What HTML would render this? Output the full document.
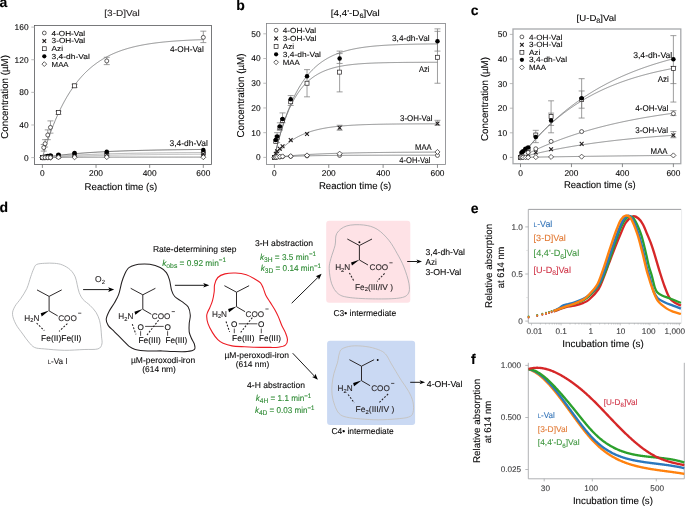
<!DOCTYPE html>
<html><head><meta charset="utf-8"><style>
html,body{margin:0;padding:0;background:#fff;}
body{width:685px;height:506px;overflow:hidden;}
svg{display:block;will-change:transform;}
text{font-family:"Liberation Sans",sans-serif;text-rendering:geometricPrecision;}
</style></head><body>
<svg width="685" height="506" viewBox="0 0 685 506">
<rect width="685" height="506" fill="#fff"/>
<text x="-0.50" y="7.00" font-size="14" fill="#000" font-weight="bold" stroke="#000" stroke-width="0.1">a</text>
<text x="236.30" y="10.40" font-size="14" fill="#000" font-weight="bold" stroke="#000" stroke-width="0.1">b</text>
<text x="470.80" y="15.40" font-size="14" fill="#000" font-weight="bold" stroke="#000" stroke-width="0.1">c</text>
<text x="-0.60" y="211.90" font-size="14" fill="#000" font-weight="bold" stroke="#000" stroke-width="0.1">d</text>
<text x="470.80" y="212.90" font-size="14" fill="#000" font-weight="bold" stroke="#000" stroke-width="0.1">e</text>
<text x="471.00" y="363.60" font-size="14" fill="#000" font-weight="bold" stroke="#000" stroke-width="0.1">f</text>
<rect x="34.5" y="25.5" width="177.0" height="139.0" fill="none" stroke="#58595b" stroke-width="0.8"/>
<path d="M31.30,157.60 L34.50,157.60" stroke="#aaa" stroke-width="0.8"/>
<text x="28.60" y="160.50" font-size="8.4" text-anchor="end" stroke="#231f20" stroke-width="0.1">0</text>
<path d="M31.30,124.98 L34.50,124.98" stroke="#aaa" stroke-width="0.8"/>
<text x="28.60" y="127.88" font-size="8.4" text-anchor="end" stroke="#231f20" stroke-width="0.1">40</text>
<path d="M31.30,92.35 L34.50,92.35" stroke="#aaa" stroke-width="0.8"/>
<text x="28.60" y="95.25" font-size="8.4" text-anchor="end" stroke="#231f20" stroke-width="0.1">80</text>
<path d="M31.30,59.73 L34.50,59.73" stroke="#aaa" stroke-width="0.8"/>
<text x="28.60" y="62.63" font-size="8.4" text-anchor="end" stroke="#231f20" stroke-width="0.1">120</text>
<path d="M31.30,27.10 L34.50,27.10" stroke="#aaa" stroke-width="0.8"/>
<text x="28.60" y="30.00" font-size="8.4" text-anchor="end" stroke="#231f20" stroke-width="0.1">160</text>
<path d="M42.40,164.50 L42.40,167.90" stroke="#6d6e70" stroke-width="0.8"/>
<text x="42.40" y="176.00" font-size="8.4" text-anchor="middle" stroke="#231f20" stroke-width="0.1">0</text>
<path d="M96.04,164.50 L96.04,167.90" stroke="#6d6e70" stroke-width="0.8"/>
<text x="96.04" y="176.00" font-size="8.4" text-anchor="middle" stroke="#231f20" stroke-width="0.1">200</text>
<path d="M149.68,164.50 L149.68,167.90" stroke="#6d6e70" stroke-width="0.8"/>
<text x="149.68" y="176.00" font-size="8.4" text-anchor="middle" stroke="#231f20" stroke-width="0.1">400</text>
<path d="M203.32,164.50 L203.32,167.90" stroke="#6d6e70" stroke-width="0.8"/>
<text x="203.32" y="176.00" font-size="8.4" text-anchor="middle" stroke="#231f20" stroke-width="0.1">600</text>
<text x="104.3" y="16.0" font-size="8.8" textLength="35.5" lengthAdjust="spacingAndGlyphs" fill="#231f20" stroke="#231f20" stroke-width="0.1">[3-D]Val</text>
<text x="84.60" y="190.10" font-size="9.8" textLength="72.70" lengthAdjust="spacingAndGlyphs" stroke="#231f20" stroke-width="0.1">Reaction time (s)</text>
<text x="7.90" y="96.90" font-size="10.0" textLength="83.60" lengthAdjust="spacingAndGlyphs" text-anchor="middle" transform="rotate(-90 7.90 96.90)" stroke="#231f20" stroke-width="0.1">Concentration (µM)</text>
<circle cx="44.30" cy="33.00" r="1.9" fill="#fff" stroke="#231f20" stroke-width="0.7"/>
<text x="51.60" y="35.60" font-size="7.3" textLength="33.40" lengthAdjust="spacingAndGlyphs" stroke="#231f20" stroke-width="0.1">4-OH-Val</text>
<path d="M42.50,39.25 L46.10,42.85 M46.10,39.25 L42.50,42.85" stroke="#231f20" stroke-width="1.1"/>
<text x="51.60" y="43.35" font-size="7.3" textLength="33.60" lengthAdjust="spacingAndGlyphs" stroke="#231f20" stroke-width="0.1">3-OH-Val</text>
<rect x="42.35" y="46.75" width="3.9" height="3.9" fill="#fff" stroke="#231f20" stroke-width="0.7"/>
<text x="51.60" y="51.10" font-size="7.3" textLength="11.40" lengthAdjust="spacingAndGlyphs" stroke="#231f20" stroke-width="0.1">Azi</text>
<circle cx="44.30" cy="56.35" r="2.1" fill="#000"/>
<text x="51.60" y="58.85" font-size="7.3" textLength="38.20" lengthAdjust="spacingAndGlyphs" stroke="#231f20" stroke-width="0.1">3,4-dh-Val</text>
<path d="M44.30,61.70 L46.70,64.10 L44.30,66.50 L41.90,64.10Z" fill="#fff" stroke="#231f20" stroke-width="0.7"/>
<text x="51.60" y="66.60" font-size="7.3" textLength="17.00" lengthAdjust="spacingAndGlyphs" stroke="#231f20" stroke-width="0.1">MAA</text>
<path d="M42.40,157.60 L42.94,155.76 L43.47,153.94 L44.01,152.16 L44.55,150.40 L45.08,148.66 L45.62,146.96 L46.15,145.28 L46.69,143.63 L47.23,142.00 L47.76,140.40 L48.30,138.82 L48.84,137.27 L49.37,135.74 L49.91,134.24 L50.45,132.76 L50.98,131.30 L51.52,129.86 L52.06,128.45 L52.59,127.06 L53.13,125.69 L53.66,124.34 L54.20,123.01 L54.74,121.70 L55.27,120.41 L55.81,119.14 L56.35,117.90 L56.88,116.67 L57.42,115.46 L57.96,114.27 L58.49,113.10 L59.03,111.94 L59.56,110.80 L60.10,109.69 L60.64,108.58 L61.17,107.50 L61.71,106.43 L62.25,105.38 L62.78,104.35 L63.32,103.33 L63.86,102.32 L64.39,101.34 L64.93,100.36 L65.47,99.41 L66.00,98.46 L66.54,97.54 L67.07,96.62 L67.61,95.72 L68.15,94.84 L68.68,93.97 L69.22,93.11 L69.76,92.26 L70.29,91.43 L70.83,90.61 L71.37,89.81 L71.90,89.01 L72.44,88.23 L72.97,87.46 L73.51,86.70 L74.05,85.96 L74.58,85.22 L75.12,84.50 L75.66,83.79 L76.19,83.09 L76.73,82.40 L77.27,81.72 L77.80,81.05 L78.34,80.39 L78.88,79.74 L79.41,79.11 L79.95,78.48 L80.48,77.86 L81.02,77.25 L81.56,76.65 L82.09,76.06 L82.63,75.48 L83.17,74.91 L83.70,74.34 L84.24,73.79 L84.78,73.24 L85.31,72.71 L85.85,72.18 L86.38,71.66 L86.92,71.14 L87.46,70.64 L87.99,70.14 L88.53,69.65 L89.07,69.17 L89.60,68.70 L90.14,68.23 L90.68,67.77 L91.21,67.32 L91.75,66.87 L92.29,66.43 L92.82,66.00 L93.36,65.57 L93.89,65.16 L94.43,64.74 L94.97,64.34 L95.50,63.94 L96.04,63.54 L96.58,63.16 L97.11,62.78 L97.65,62.40 L98.19,62.03 L98.72,61.67 L99.26,61.31 L99.79,60.96 L100.33,60.61 L100.87,60.27 L101.40,59.93 L101.94,59.60 L102.48,59.27 L103.01,58.95 L103.55,58.64 L104.09,58.32 L104.62,58.02 L105.16,57.72 L105.70,57.42 L106.23,57.13 L106.77,56.84 L107.30,56.55 L107.84,56.28 L108.38,56.00 L108.91,55.73 L109.45,55.46 L109.99,55.20 L110.52,54.94 L111.06,54.69 L111.60,54.44 L112.13,54.19 L112.67,53.95 L113.20,53.71 L113.74,53.48 L114.28,53.24 L114.81,53.02 L115.35,52.79 L115.89,52.57 L116.42,52.35 L116.96,52.14 L117.50,51.93 L118.03,51.72 L118.57,51.52 L119.11,51.32 L119.64,51.12 L120.18,50.92 L120.71,50.73 L121.25,50.54 L121.79,50.36 L122.32,50.17 L122.86,49.99 L123.40,49.82 L123.93,49.64 L124.47,49.47 L125.01,49.30 L125.54,49.13 L126.08,48.97 L126.61,48.81 L127.15,48.65 L127.69,48.49 L128.22,48.34 L128.76,48.18 L129.30,48.03 L129.83,47.89 L130.37,47.74 L130.91,47.60 L131.44,47.46 L131.98,47.32 L132.52,47.18 L133.05,47.05 L133.59,46.92 L134.12,46.79 L134.66,46.66 L135.20,46.53 L135.73,46.41 L136.27,46.29 L136.81,46.17 L137.34,46.05 L137.88,45.93 L138.42,45.82 L138.95,45.71 L139.49,45.59 L140.02,45.49 L140.56,45.38 L141.10,45.27 L141.63,45.17 L142.17,45.06 L142.71,44.96 L143.24,44.86 L143.78,44.76 L144.32,44.67 L144.85,44.57 L145.39,44.48 L145.93,44.39 L146.46,44.30 L147.00,44.21 L147.53,44.12 L148.07,44.03 L148.61,43.95 L149.14,43.86 L149.68,43.78 L150.22,43.70 L150.75,43.62 L151.29,43.54 L151.83,43.46 L152.36,43.39 L152.90,43.31 L153.43,43.24 L153.97,43.16 L154.51,43.09 L155.04,43.02 L155.58,42.95 L156.12,42.88 L156.65,42.82 L157.19,42.75 L157.73,42.68 L158.26,42.62 L158.80,42.56 L159.34,42.49 L159.87,42.43 L160.41,42.37 L160.94,42.31 L161.48,42.25 L162.02,42.20 L162.55,42.14 L163.09,42.08 L163.63,42.03 L164.16,41.97 L164.70,41.92 L165.24,41.87 L165.77,41.82 L166.31,41.76 L166.84,41.71 L167.38,41.66 L167.92,41.62 L168.45,41.57 L168.99,41.52 L169.53,41.47 L170.06,41.43 L170.60,41.38 L171.14,41.34 L171.67,41.30 L172.21,41.25 L172.75,41.21 L173.28,41.17 L173.82,41.13 L174.35,41.09 L174.89,41.05 L175.43,41.01 L175.96,40.97 L176.50,40.93 L177.04,40.90 L177.57,40.86 L178.11,40.82 L178.65,40.79 L179.18,40.75 L179.72,40.72 L180.25,40.68 L180.79,40.65 L181.33,40.62 L181.86,40.58 L182.40,40.55 L182.94,40.52 L183.47,40.49 L184.01,40.46 L184.55,40.43 L185.08,40.40 L185.62,40.37 L186.16,40.34 L186.69,40.31 L187.23,40.29 L187.76,40.26 L188.30,40.23 L188.84,40.21 L189.37,40.18 L189.91,40.15 L190.45,40.13 L190.98,40.10 L191.52,40.08 L192.06,40.06 L192.59,40.03 L193.13,40.01 L193.66,39.99 L194.20,39.96 L194.74,39.94 L195.27,39.92 L195.81,39.90 L196.35,39.88 L196.88,39.85 L197.42,39.83 L197.96,39.81 L198.49,39.79 L199.03,39.77 L199.57,39.75 L200.10,39.74 L200.64,39.72 L201.17,39.70 L201.71,39.68 L202.25,39.66 L202.78,39.64 L203.32,39.63" fill="none" stroke="#6d6e70" stroke-width="0.8"/>
<path d="M42.40,157.60 L42.94,157.51 L43.47,157.43 L44.01,157.35 L44.55,157.26 L45.08,157.18 L45.62,157.10 L46.15,157.02 L46.69,156.94 L47.23,156.86 L47.76,156.79 L48.30,156.71 L48.84,156.63 L49.37,156.56 L49.91,156.48 L50.45,156.41 L50.98,156.33 L51.52,156.26 L52.06,156.19 L52.59,156.12 L53.13,156.05 L53.66,155.98 L54.20,155.91 L54.74,155.84 L55.27,155.77 L55.81,155.71 L56.35,155.64 L56.88,155.57 L57.42,155.51 L57.96,155.44 L58.49,155.38 L59.03,155.32 L59.56,155.25 L60.10,155.19 L60.64,155.13 L61.17,155.07 L61.71,155.01 L62.25,154.95 L62.78,154.89 L63.32,154.83 L63.86,154.78 L64.39,154.72 L64.93,154.66 L65.47,154.61 L66.00,154.55 L66.54,154.50 L67.07,154.44 L67.61,154.39 L68.15,154.34 L68.68,154.28 L69.22,154.23 L69.76,154.18 L70.29,154.13 L70.83,154.08 L71.37,154.03 L71.90,153.98 L72.44,153.93 L72.97,153.88 L73.51,153.83 L74.05,153.78 L74.58,153.74 L75.12,153.69 L75.66,153.64 L76.19,153.60 L76.73,153.55 L77.27,153.51 L77.80,153.46 L78.34,153.42 L78.88,153.37 L79.41,153.33 L79.95,153.29 L80.48,153.25 L81.02,153.20 L81.56,153.16 L82.09,153.12 L82.63,153.08 L83.17,153.04 L83.70,153.00 L84.24,152.96 L84.78,152.92 L85.31,152.88 L85.85,152.85 L86.38,152.81 L86.92,152.77 L87.46,152.73 L87.99,152.70 L88.53,152.66 L89.07,152.62 L89.60,152.59 L90.14,152.55 L90.68,152.52 L91.21,152.48 L91.75,152.45 L92.29,152.42 L92.82,152.38 L93.36,152.35 L93.89,152.32 L94.43,152.28 L94.97,152.25 L95.50,152.22 L96.04,152.19 L96.58,152.16 L97.11,152.12 L97.65,152.09 L98.19,152.06 L98.72,152.03 L99.26,152.00 L99.79,151.97 L100.33,151.94 L100.87,151.92 L101.40,151.89 L101.94,151.86 L102.48,151.83 L103.01,151.80 L103.55,151.78 L104.09,151.75 L104.62,151.72 L105.16,151.69 L105.70,151.67 L106.23,151.64 L106.77,151.62 L107.30,151.59 L107.84,151.56 L108.38,151.54 L108.91,151.51 L109.45,151.49 L109.99,151.47 L110.52,151.44 L111.06,151.42 L111.60,151.39 L112.13,151.37 L112.67,151.35 L113.20,151.32 L113.74,151.30 L114.28,151.28 L114.81,151.26 L115.35,151.23 L115.89,151.21 L116.42,151.19 L116.96,151.17 L117.50,151.15 L118.03,151.13 L118.57,151.11 L119.11,151.09 L119.64,151.07 L120.18,151.05 L120.71,151.03 L121.25,151.01 L121.79,150.99 L122.32,150.97 L122.86,150.95 L123.40,150.93 L123.93,150.91 L124.47,150.89 L125.01,150.87 L125.54,150.85 L126.08,150.84 L126.61,150.82 L127.15,150.80 L127.69,150.78 L128.22,150.77 L128.76,150.75 L129.30,150.73 L129.83,150.71 L130.37,150.70 L130.91,150.68 L131.44,150.66 L131.98,150.65 L132.52,150.63 L133.05,150.62 L133.59,150.60 L134.12,150.59 L134.66,150.57 L135.20,150.55 L135.73,150.54 L136.27,150.52 L136.81,150.51 L137.34,150.49 L137.88,150.48 L138.42,150.47 L138.95,150.45 L139.49,150.44 L140.02,150.42 L140.56,150.41 L141.10,150.40 L141.63,150.38 L142.17,150.37 L142.71,150.36 L143.24,150.34 L143.78,150.33 L144.32,150.32 L144.85,150.30 L145.39,150.29 L145.93,150.28 L146.46,150.27 L147.00,150.25 L147.53,150.24 L148.07,150.23 L148.61,150.22 L149.14,150.21 L149.68,150.20 L150.22,150.18 L150.75,150.17 L151.29,150.16 L151.83,150.15 L152.36,150.14 L152.90,150.13 L153.43,150.12 L153.97,150.11 L154.51,150.10 L155.04,150.08 L155.58,150.07 L156.12,150.06 L156.65,150.05 L157.19,150.04 L157.73,150.03 L158.26,150.02 L158.80,150.01 L159.34,150.00 L159.87,149.99 L160.41,149.99 L160.94,149.98 L161.48,149.97 L162.02,149.96 L162.55,149.95 L163.09,149.94 L163.63,149.93 L164.16,149.92 L164.70,149.91 L165.24,149.90 L165.77,149.89 L166.31,149.89 L166.84,149.88 L167.38,149.87 L167.92,149.86 L168.45,149.85 L168.99,149.84 L169.53,149.84 L170.06,149.83 L170.60,149.82 L171.14,149.81 L171.67,149.81 L172.21,149.80 L172.75,149.79 L173.28,149.78 L173.82,149.78 L174.35,149.77 L174.89,149.76 L175.43,149.75 L175.96,149.75 L176.50,149.74 L177.04,149.73 L177.57,149.73 L178.11,149.72 L178.65,149.71 L179.18,149.70 L179.72,149.70 L180.25,149.69 L180.79,149.69 L181.33,149.68 L181.86,149.67 L182.40,149.67 L182.94,149.66 L183.47,149.65 L184.01,149.65 L184.55,149.64 L185.08,149.64 L185.62,149.63 L186.16,149.62 L186.69,149.62 L187.23,149.61 L187.76,149.61 L188.30,149.60 L188.84,149.59 L189.37,149.59 L189.91,149.58 L190.45,149.58 L190.98,149.57 L191.52,149.57 L192.06,149.56 L192.59,149.56 L193.13,149.55 L193.66,149.55 L194.20,149.54 L194.74,149.54 L195.27,149.53 L195.81,149.53 L196.35,149.52 L196.88,149.52 L197.42,149.51 L197.96,149.51 L198.49,149.50 L199.03,149.50 L199.57,149.49 L200.10,149.49 L200.64,149.48 L201.17,149.48 L201.71,149.48 L202.25,149.47 L202.78,149.47 L203.32,149.46" fill="none" stroke="#444" stroke-width="0.8"/>
<path d="M42.40,157.60 L42.94,157.55 L43.47,157.50 L44.01,157.44 L44.55,157.39 L45.08,157.34 L45.62,157.29 L46.15,157.24 L46.69,157.19 L47.23,157.14 L47.76,157.10 L48.30,157.05 L48.84,157.00 L49.37,156.95 L49.91,156.91 L50.45,156.86 L50.98,156.82 L51.52,156.77 L52.06,156.73 L52.59,156.68 L53.13,156.64 L53.66,156.60 L54.20,156.55 L54.74,156.51 L55.27,156.47 L55.81,156.43 L56.35,156.39 L56.88,156.35 L57.42,156.31 L57.96,156.27 L58.49,156.23 L59.03,156.19 L59.56,156.15 L60.10,156.11 L60.64,156.07 L61.17,156.03 L61.71,156.00 L62.25,155.96 L62.78,155.92 L63.32,155.89 L63.86,155.85 L64.39,155.82 L64.93,155.78 L65.47,155.75 L66.00,155.71 L66.54,155.68 L67.07,155.65 L67.61,155.61 L68.15,155.58 L68.68,155.55 L69.22,155.51 L69.76,155.48 L70.29,155.45 L70.83,155.42 L71.37,155.39 L71.90,155.36 L72.44,155.33 L72.97,155.30 L73.51,155.27 L74.05,155.24 L74.58,155.21 L75.12,155.18 L75.66,155.15 L76.19,155.12 L76.73,155.09 L77.27,155.07 L77.80,155.04 L78.34,155.01 L78.88,154.98 L79.41,154.96 L79.95,154.93 L80.48,154.91 L81.02,154.88 L81.56,154.85 L82.09,154.83 L82.63,154.80 L83.17,154.78 L83.70,154.75 L84.24,154.73 L84.78,154.70 L85.31,154.68 L85.85,154.66 L86.38,154.63 L86.92,154.61 L87.46,154.59 L87.99,154.56 L88.53,154.54 L89.07,154.52 L89.60,154.50 L90.14,154.48 L90.68,154.45 L91.21,154.43 L91.75,154.41 L92.29,154.39 L92.82,154.37 L93.36,154.35 L93.89,154.33 L94.43,154.31 L94.97,154.29 L95.50,154.27 L96.04,154.25 L96.58,154.23 L97.11,154.21 L97.65,154.19 L98.19,154.17 L98.72,154.15 L99.26,154.14 L99.79,154.12 L100.33,154.10 L100.87,154.08 L101.40,154.06 L101.94,154.05 L102.48,154.03 L103.01,154.01 L103.55,153.99 L104.09,153.98 L104.62,153.96 L105.16,153.94 L105.70,153.93 L106.23,153.91 L106.77,153.90 L107.30,153.88 L107.84,153.86 L108.38,153.85 L108.91,153.83 L109.45,153.82 L109.99,153.80 L110.52,153.79 L111.06,153.77 L111.60,153.76 L112.13,153.74 L112.67,153.73 L113.20,153.71 L113.74,153.70 L114.28,153.69 L114.81,153.67 L115.35,153.66 L115.89,153.65 L116.42,153.63 L116.96,153.62 L117.50,153.61 L118.03,153.59 L118.57,153.58 L119.11,153.57 L119.64,153.55 L120.18,153.54 L120.71,153.53 L121.25,153.52 L121.79,153.51 L122.32,153.49 L122.86,153.48 L123.40,153.47 L123.93,153.46 L124.47,153.45 L125.01,153.44 L125.54,153.42 L126.08,153.41 L126.61,153.40 L127.15,153.39 L127.69,153.38 L128.22,153.37 L128.76,153.36 L129.30,153.35 L129.83,153.34 L130.37,153.33 L130.91,153.32 L131.44,153.31 L131.98,153.30 L132.52,153.29 L133.05,153.28 L133.59,153.27 L134.12,153.26 L134.66,153.25 L135.20,153.24 L135.73,153.23 L136.27,153.22 L136.81,153.21 L137.34,153.20 L137.88,153.19 L138.42,153.18 L138.95,153.17 L139.49,153.17 L140.02,153.16 L140.56,153.15 L141.10,153.14 L141.63,153.13 L142.17,153.12 L142.71,153.12 L143.24,153.11 L143.78,153.10 L144.32,153.09 L144.85,153.08 L145.39,153.08 L145.93,153.07 L146.46,153.06 L147.00,153.05 L147.53,153.05 L148.07,153.04 L148.61,153.03 L149.14,153.02 L149.68,153.02 L150.22,153.01 L150.75,153.00 L151.29,152.99 L151.83,152.99 L152.36,152.98 L152.90,152.97 L153.43,152.97 L153.97,152.96 L154.51,152.95 L155.04,152.95 L155.58,152.94 L156.12,152.93 L156.65,152.93 L157.19,152.92 L157.73,152.92 L158.26,152.91 L158.80,152.90 L159.34,152.90 L159.87,152.89 L160.41,152.89 L160.94,152.88 L161.48,152.87 L162.02,152.87 L162.55,152.86 L163.09,152.86 L163.63,152.85 L164.16,152.85 L164.70,152.84 L165.24,152.84 L165.77,152.83 L166.31,152.82 L166.84,152.82 L167.38,152.81 L167.92,152.81 L168.45,152.80 L168.99,152.80 L169.53,152.79 L170.06,152.79 L170.60,152.78 L171.14,152.78 L171.67,152.77 L172.21,152.77 L172.75,152.77 L173.28,152.76 L173.82,152.76 L174.35,152.75 L174.89,152.75 L175.43,152.74 L175.96,152.74 L176.50,152.73 L177.04,152.73 L177.57,152.73 L178.11,152.72 L178.65,152.72 L179.18,152.71 L179.72,152.71 L180.25,152.70 L180.79,152.70 L181.33,152.70 L181.86,152.69 L182.40,152.69 L182.94,152.68 L183.47,152.68 L184.01,152.68 L184.55,152.67 L185.08,152.67 L185.62,152.67 L186.16,152.66 L186.69,152.66 L187.23,152.65 L187.76,152.65 L188.30,152.65 L188.84,152.64 L189.37,152.64 L189.91,152.64 L190.45,152.63 L190.98,152.63 L191.52,152.63 L192.06,152.62 L192.59,152.62 L193.13,152.62 L193.66,152.61 L194.20,152.61 L194.74,152.61 L195.27,152.61 L195.81,152.60 L196.35,152.60 L196.88,152.60 L197.42,152.59 L197.96,152.59 L198.49,152.59 L199.03,152.58 L199.57,152.58 L200.10,152.58 L200.64,152.58 L201.17,152.57 L201.71,152.57 L202.25,152.57 L202.78,152.57 L203.32,152.56" fill="none" stroke="#999" stroke-width="0.8"/>
<path d="M42.40,157.60 L42.94,157.57 L43.47,157.54 L44.01,157.51 L44.55,157.48 L45.08,157.46 L45.62,157.43 L46.15,157.40 L46.69,157.37 L47.23,157.35 L47.76,157.32 L48.30,157.29 L48.84,157.26 L49.37,157.24 L49.91,157.21 L50.45,157.18 L50.98,157.16 L51.52,157.13 L52.06,157.11 L52.59,157.08 L53.13,157.06 L53.66,157.03 L54.20,157.01 L54.74,156.98 L55.27,156.96 L55.81,156.93 L56.35,156.91 L56.88,156.89 L57.42,156.86 L57.96,156.84 L58.49,156.82 L59.03,156.79 L59.56,156.77 L60.10,156.75 L60.64,156.73 L61.17,156.70 L61.71,156.68 L62.25,156.66 L62.78,156.64 L63.32,156.62 L63.86,156.59 L64.39,156.57 L64.93,156.55 L65.47,156.53 L66.00,156.51 L66.54,156.49 L67.07,156.47 L67.61,156.45 L68.15,156.43 L68.68,156.41 L69.22,156.39 L69.76,156.37 L70.29,156.35 L70.83,156.33 L71.37,156.31 L71.90,156.29 L72.44,156.27 L72.97,156.26 L73.51,156.24 L74.05,156.22 L74.58,156.20 L75.12,156.18 L75.66,156.16 L76.19,156.15 L76.73,156.13 L77.27,156.11 L77.80,156.09 L78.34,156.08 L78.88,156.06 L79.41,156.04 L79.95,156.03 L80.48,156.01 L81.02,155.99 L81.56,155.98 L82.09,155.96 L82.63,155.94 L83.17,155.93 L83.70,155.91 L84.24,155.90 L84.78,155.88 L85.31,155.87 L85.85,155.85 L86.38,155.83 L86.92,155.82 L87.46,155.80 L87.99,155.79 L88.53,155.77 L89.07,155.76 L89.60,155.75 L90.14,155.73 L90.68,155.72 L91.21,155.70 L91.75,155.69 L92.29,155.67 L92.82,155.66 L93.36,155.65 L93.89,155.63 L94.43,155.62 L94.97,155.61 L95.50,155.59 L96.04,155.58 L96.58,155.57 L97.11,155.55 L97.65,155.54 L98.19,155.53 L98.72,155.51 L99.26,155.50 L99.79,155.49 L100.33,155.48 L100.87,155.46 L101.40,155.45 L101.94,155.44 L102.48,155.43 L103.01,155.42 L103.55,155.40 L104.09,155.39 L104.62,155.38 L105.16,155.37 L105.70,155.36 L106.23,155.35 L106.77,155.34 L107.30,155.32 L107.84,155.31 L108.38,155.30 L108.91,155.29 L109.45,155.28 L109.99,155.27 L110.52,155.26 L111.06,155.25 L111.60,155.24 L112.13,155.23 L112.67,155.22 L113.20,155.21 L113.74,155.20 L114.28,155.19 L114.81,155.18 L115.35,155.17 L115.89,155.16 L116.42,155.15 L116.96,155.14 L117.50,155.13 L118.03,155.12 L118.57,155.11 L119.11,155.10 L119.64,155.09 L120.18,155.08 L120.71,155.07 L121.25,155.06 L121.79,155.05 L122.32,155.04 L122.86,155.04 L123.40,155.03 L123.93,155.02 L124.47,155.01 L125.01,155.00 L125.54,154.99 L126.08,154.98 L126.61,154.98 L127.15,154.97 L127.69,154.96 L128.22,154.95 L128.76,154.94 L129.30,154.93 L129.83,154.93 L130.37,154.92 L130.91,154.91 L131.44,154.90 L131.98,154.89 L132.52,154.89 L133.05,154.88 L133.59,154.87 L134.12,154.86 L134.66,154.86 L135.20,154.85 L135.73,154.84 L136.27,154.83 L136.81,154.83 L137.34,154.82 L137.88,154.81 L138.42,154.81 L138.95,154.80 L139.49,154.79 L140.02,154.79 L140.56,154.78 L141.10,154.77 L141.63,154.77 L142.17,154.76 L142.71,154.75 L143.24,154.75 L143.78,154.74 L144.32,154.73 L144.85,154.73 L145.39,154.72 L145.93,154.71 L146.46,154.71 L147.00,154.70 L147.53,154.69 L148.07,154.69 L148.61,154.68 L149.14,154.68 L149.68,154.67 L150.22,154.66 L150.75,154.66 L151.29,154.65 L151.83,154.65 L152.36,154.64 L152.90,154.64 L153.43,154.63 L153.97,154.62 L154.51,154.62 L155.04,154.61 L155.58,154.61 L156.12,154.60 L156.65,154.60 L157.19,154.59 L157.73,154.59 L158.26,154.58 L158.80,154.58 L159.34,154.57 L159.87,154.57 L160.41,154.56 L160.94,154.56 L161.48,154.55 L162.02,154.55 L162.55,154.54 L163.09,154.54 L163.63,154.53 L164.16,154.53 L164.70,154.52 L165.24,154.52 L165.77,154.51 L166.31,154.51 L166.84,154.50 L167.38,154.50 L167.92,154.49 L168.45,154.49 L168.99,154.49 L169.53,154.48 L170.06,154.48 L170.60,154.47 L171.14,154.47 L171.67,154.46 L172.21,154.46 L172.75,154.46 L173.28,154.45 L173.82,154.45 L174.35,154.44 L174.89,154.44 L175.43,154.43 L175.96,154.43 L176.50,154.43 L177.04,154.42 L177.57,154.42 L178.11,154.41 L178.65,154.41 L179.18,154.41 L179.72,154.40 L180.25,154.40 L180.79,154.40 L181.33,154.39 L181.86,154.39 L182.40,154.38 L182.94,154.38 L183.47,154.38 L184.01,154.37 L184.55,154.37 L185.08,154.37 L185.62,154.36 L186.16,154.36 L186.69,154.36 L187.23,154.35 L187.76,154.35 L188.30,154.35 L188.84,154.34 L189.37,154.34 L189.91,154.34 L190.45,154.33 L190.98,154.33 L191.52,154.33 L192.06,154.32 L192.59,154.32 L193.13,154.32 L193.66,154.31 L194.20,154.31 L194.74,154.31 L195.27,154.31 L195.81,154.30 L196.35,154.30 L196.88,154.30 L197.42,154.29 L197.96,154.29 L198.49,154.29 L199.03,154.28 L199.57,154.28 L200.10,154.28 L200.64,154.28 L201.17,154.27 L201.71,154.27 L202.25,154.27 L202.78,154.27 L203.32,154.26" fill="none" stroke="#aaa" stroke-width="0.8"/>
<path d="M42.40,157.60 L42.94,157.59 L43.47,157.58 L44.01,157.57 L44.55,157.56 L45.08,157.55 L45.62,157.54 L46.15,157.54 L46.69,157.53 L47.23,157.52 L47.76,157.51 L48.30,157.50 L48.84,157.50 L49.37,157.49 L49.91,157.48 L50.45,157.47 L50.98,157.47 L51.52,157.46 L52.06,157.45 L52.59,157.45 L53.13,157.44 L53.66,157.43 L54.20,157.43 L54.74,157.42 L55.27,157.41 L55.81,157.41 L56.35,157.40 L56.88,157.40 L57.42,157.39 L57.96,157.38 L58.49,157.38 L59.03,157.37 L59.56,157.37 L60.10,157.36 L60.64,157.36 L61.17,157.35 L61.71,157.35 L62.25,157.34 L62.78,157.34 L63.32,157.33 L63.86,157.33 L64.39,157.33 L64.93,157.32 L65.47,157.32 L66.00,157.31 L66.54,157.31 L67.07,157.31 L67.61,157.30 L68.15,157.30 L68.68,157.29 L69.22,157.29 L69.76,157.29 L70.29,157.28 L70.83,157.28 L71.37,157.28 L71.90,157.27 L72.44,157.27 L72.97,157.27 L73.51,157.26 L74.05,157.26 L74.58,157.26 L75.12,157.26 L75.66,157.25 L76.19,157.25 L76.73,157.25 L77.27,157.24 L77.80,157.24 L78.34,157.24 L78.88,157.24 L79.41,157.23 L79.95,157.23 L80.48,157.23 L81.02,157.23 L81.56,157.22 L82.09,157.22 L82.63,157.22 L83.17,157.22 L83.70,157.22 L84.24,157.21 L84.78,157.21 L85.31,157.21 L85.85,157.21 L86.38,157.21 L86.92,157.20 L87.46,157.20 L87.99,157.20 L88.53,157.20 L89.07,157.20 L89.60,157.19 L90.14,157.19 L90.68,157.19 L91.21,157.19 L91.75,157.19 L92.29,157.19 L92.82,157.19 L93.36,157.18 L93.89,157.18 L94.43,157.18 L94.97,157.18 L95.50,157.18 L96.04,157.18 L96.58,157.18 L97.11,157.17 L97.65,157.17 L98.19,157.17 L98.72,157.17 L99.26,157.17 L99.79,157.17 L100.33,157.17 L100.87,157.17 L101.40,157.16 L101.94,157.16 L102.48,157.16 L103.01,157.16 L103.55,157.16 L104.09,157.16 L104.62,157.16 L105.16,157.16 L105.70,157.16 L106.23,157.16 L106.77,157.16 L107.30,157.15 L107.84,157.15 L108.38,157.15 L108.91,157.15 L109.45,157.15 L109.99,157.15 L110.52,157.15 L111.06,157.15 L111.60,157.15 L112.13,157.15 L112.67,157.15 L113.20,157.15 L113.74,157.14 L114.28,157.14 L114.81,157.14 L115.35,157.14 L115.89,157.14 L116.42,157.14 L116.96,157.14 L117.50,157.14 L118.03,157.14 L118.57,157.14 L119.11,157.14 L119.64,157.14 L120.18,157.14 L120.71,157.14 L121.25,157.14 L121.79,157.14 L122.32,157.14 L122.86,157.14 L123.40,157.13 L123.93,157.13 L124.47,157.13 L125.01,157.13 L125.54,157.13 L126.08,157.13 L126.61,157.13 L127.15,157.13 L127.69,157.13 L128.22,157.13 L128.76,157.13 L129.30,157.13 L129.83,157.13 L130.37,157.13 L130.91,157.13 L131.44,157.13 L131.98,157.13 L132.52,157.13 L133.05,157.13 L133.59,157.13 L134.12,157.13 L134.66,157.13 L135.20,157.13 L135.73,157.13 L136.27,157.13 L136.81,157.13 L137.34,157.12 L137.88,157.12 L138.42,157.12 L138.95,157.12 L139.49,157.12 L140.02,157.12 L140.56,157.12 L141.10,157.12 L141.63,157.12 L142.17,157.12 L142.71,157.12 L143.24,157.12 L143.78,157.12 L144.32,157.12 L144.85,157.12 L145.39,157.12 L145.93,157.12 L146.46,157.12 L147.00,157.12 L147.53,157.12 L148.07,157.12 L148.61,157.12 L149.14,157.12 L149.68,157.12 L150.22,157.12 L150.75,157.12 L151.29,157.12 L151.83,157.12 L152.36,157.12 L152.90,157.12 L153.43,157.12 L153.97,157.12 L154.51,157.12 L155.04,157.12 L155.58,157.12 L156.12,157.12 L156.65,157.12 L157.19,157.12 L157.73,157.12 L158.26,157.12 L158.80,157.12 L159.34,157.12 L159.87,157.12 L160.41,157.12 L160.94,157.12 L161.48,157.12 L162.02,157.12 L162.55,157.12 L163.09,157.12 L163.63,157.12 L164.16,157.12 L164.70,157.12 L165.24,157.12 L165.77,157.12 L166.31,157.12 L166.84,157.12 L167.38,157.12 L167.92,157.12 L168.45,157.12 L168.99,157.12 L169.53,157.11 L170.06,157.11 L170.60,157.11 L171.14,157.11 L171.67,157.11 L172.21,157.11 L172.75,157.11 L173.28,157.11 L173.82,157.11 L174.35,157.11 L174.89,157.11 L175.43,157.11 L175.96,157.11 L176.50,157.11 L177.04,157.11 L177.57,157.11 L178.11,157.11 L178.65,157.11 L179.18,157.11 L179.72,157.11 L180.25,157.11 L180.79,157.11 L181.33,157.11 L181.86,157.11 L182.40,157.11 L182.94,157.11 L183.47,157.11 L184.01,157.11 L184.55,157.11 L185.08,157.11 L185.62,157.11 L186.16,157.11 L186.69,157.11 L187.23,157.11 L187.76,157.11 L188.30,157.11 L188.84,157.11 L189.37,157.11 L189.91,157.11 L190.45,157.11 L190.98,157.11 L191.52,157.11 L192.06,157.11 L192.59,157.11 L193.13,157.11 L193.66,157.11 L194.20,157.11 L194.74,157.11 L195.27,157.11 L195.81,157.11 L196.35,157.11 L196.88,157.11 L197.42,157.11 L197.96,157.11 L198.49,157.11 L199.03,157.11 L199.57,157.11 L200.10,157.11 L200.64,157.11 L201.17,157.11 L201.71,157.11 L202.25,157.11 L202.78,157.11 L203.32,157.11" fill="none" stroke="#666" stroke-width="0.8"/>
<path d="M203.32,42.60 L203.32,31.18 M200.32,42.60 L206.32,42.60 M200.32,31.18 L206.32,31.18" stroke="#7d7d7d" stroke-width="0.75" fill="none"/>
<path d="M106.77,64.62 L106.77,57.28 M103.77,64.62 L109.77,64.62 M103.77,57.28 L109.77,57.28" stroke="#7d7d7d" stroke-width="0.75" fill="none"/>
<path d="M74.58,87.46 L74.58,84.20 M71.58,87.46 L77.58,87.46 M71.58,84.20 L77.58,84.20" stroke="#7d7d7d" stroke-width="0.75" fill="none"/>
<path d="M58.49,114.37 L58.49,111.11 M55.49,114.37 L61.49,114.37 M55.49,111.11 L61.49,111.11" stroke="#7d7d7d" stroke-width="0.75" fill="none"/>
<path d="M50.45,133.13 L50.45,120.90 M47.45,133.13 L53.45,133.13 M47.45,120.90 L53.45,120.90" stroke="#7d7d7d" stroke-width="0.75" fill="none"/>
<path d="M47.76,139.66 L47.76,129.87 M44.76,139.66 L50.76,139.66 M44.76,129.87 L50.76,129.87" stroke="#7d7d7d" stroke-width="0.75" fill="none"/>
<path d="M45.08,147.00 L45.08,139.66 M42.08,147.00 L48.08,147.00 M42.08,139.66 L48.08,139.66" stroke="#7d7d7d" stroke-width="0.75" fill="none"/>
<path d="M43.74,151.08 L43.74,144.55 M40.74,151.08 L46.74,151.08 M40.74,144.55 L46.74,144.55" stroke="#7d7d7d" stroke-width="0.75" fill="none"/>
<rect x="40.40" y="155.60" width="4.0" height="4.0" fill="#fff" stroke="#231f20" stroke-width="0.7"/>
<rect x="41.74" y="155.36" width="4.0" height="4.0" fill="#fff" stroke="#231f20" stroke-width="0.7"/>
<rect x="43.08" y="155.11" width="4.0" height="4.0" fill="#fff" stroke="#231f20" stroke-width="0.7"/>
<rect x="45.76" y="154.78" width="4.0" height="4.0" fill="#fff" stroke="#231f20" stroke-width="0.7"/>
<rect x="48.45" y="154.38" width="4.0" height="4.0" fill="#fff" stroke="#231f20" stroke-width="0.7"/>
<rect x="56.49" y="153.97" width="4.0" height="4.0" fill="#fff" stroke="#231f20" stroke-width="0.7"/>
<rect x="72.58" y="152.75" width="4.0" height="4.0" fill="#fff" stroke="#231f20" stroke-width="0.7"/>
<rect x="104.77" y="151.93" width="4.0" height="4.0" fill="#fff" stroke="#231f20" stroke-width="0.7"/>
<rect x="201.32" y="150.79" width="4.0" height="4.0" fill="#fff" stroke="#231f20" stroke-width="0.7"/>
<rect x="56.49" y="110.58" width="4.0" height="4.0" fill="#fff" stroke="#231f20" stroke-width="0.7"/>
<rect x="72.58" y="83.83" width="4.0" height="4.0" fill="#fff" stroke="#231f20" stroke-width="0.7"/>
<path d="M40.50,155.70 L44.30,159.50 M44.30,155.70 L40.50,159.50" stroke="#231f20" stroke-width="1.1"/>
<path d="M41.84,155.54 L45.64,159.34 M45.64,155.54 L41.84,159.34" stroke="#231f20" stroke-width="1.1"/>
<path d="M43.18,155.37 L46.98,159.17 M46.98,155.37 L43.18,159.17" stroke="#231f20" stroke-width="1.1"/>
<path d="M45.86,155.13 L49.66,158.93 M49.66,155.13 L45.86,158.93" stroke="#231f20" stroke-width="1.1"/>
<path d="M48.55,154.88 L52.35,158.68 M52.35,154.88 L48.55,158.68" stroke="#231f20" stroke-width="1.1"/>
<path d="M56.59,154.48 L60.39,158.28 M60.39,154.48 L56.59,158.28" stroke="#231f20" stroke-width="1.1"/>
<path d="M72.68,153.66 L76.48,157.46 M76.48,153.66 L72.68,157.46" stroke="#231f20" stroke-width="1.1"/>
<path d="M104.87,152.85 L108.67,156.65 M108.67,152.85 L104.87,156.65" stroke="#231f20" stroke-width="1.1"/>
<path d="M201.42,152.03 L205.22,155.83 M205.22,152.03 L201.42,155.83" stroke="#231f20" stroke-width="1.1"/>
<circle cx="42.40" cy="157.60" r="2.0" fill="#fff" stroke="#231f20" stroke-width="0.7"/>
<circle cx="43.74" cy="147.57" r="2.0" fill="#fff" stroke="#231f20" stroke-width="0.7"/>
<circle cx="45.08" cy="143.73" r="2.0" fill="#fff" stroke="#231f20" stroke-width="0.7"/>
<circle cx="47.76" cy="135.01" r="2.0" fill="#fff" stroke="#231f20" stroke-width="0.7"/>
<circle cx="50.45" cy="127.42" r="2.0" fill="#fff" stroke="#231f20" stroke-width="0.7"/>
<circle cx="106.77" cy="60.95" r="2.0" fill="#fff" stroke="#231f20" stroke-width="0.7"/>
<circle cx="203.32" cy="37.38" r="2.0" fill="#fff" stroke="#231f20" stroke-width="0.7"/>
<circle cx="42.40" cy="157.60" r="2.25" fill="#000"/>
<circle cx="43.74" cy="157.19" r="2.25" fill="#000"/>
<circle cx="45.08" cy="156.78" r="2.25" fill="#000"/>
<circle cx="47.76" cy="155.97" r="2.25" fill="#000"/>
<circle cx="50.45" cy="155.56" r="2.25" fill="#000"/>
<circle cx="58.49" cy="154.75" r="2.25" fill="#000"/>
<circle cx="74.58" cy="153.11" r="2.25" fill="#000"/>
<circle cx="106.77" cy="151.73" r="2.25" fill="#000"/>
<circle cx="203.32" cy="149.93" r="2.25" fill="#000"/>
<path d="M42.40,155.05 L44.95,157.60 L42.40,160.15 L39.85,157.60Z" fill="#fff" stroke="#231f20" stroke-width="0.7"/>
<path d="M43.74,155.05 L46.29,157.60 L43.74,160.15 L41.19,157.60Z" fill="#fff" stroke="#231f20" stroke-width="0.7"/>
<path d="M45.08,155.05 L47.63,157.60 L45.08,160.15 L42.53,157.60Z" fill="#fff" stroke="#231f20" stroke-width="0.7"/>
<path d="M47.76,155.05 L50.31,157.60 L47.76,160.15 L45.21,157.60Z" fill="#fff" stroke="#231f20" stroke-width="0.7"/>
<path d="M50.45,155.05 L53.00,157.60 L50.45,160.15 L47.90,157.60Z" fill="#fff" stroke="#231f20" stroke-width="0.7"/>
<path d="M58.49,154.81 L61.04,157.36 L58.49,159.91 L55.94,157.36Z" fill="#fff" stroke="#231f20" stroke-width="0.7"/>
<path d="M74.58,154.72 L77.13,157.27 L74.58,159.82 L72.03,157.27Z" fill="#fff" stroke="#231f20" stroke-width="0.7"/>
<path d="M106.77,154.56 L109.32,157.11 L106.77,159.66 L104.22,157.11Z" fill="#fff" stroke="#231f20" stroke-width="0.7"/>
<path d="M203.32,154.64 L205.87,157.19 L203.32,159.74 L200.77,157.19Z" fill="#fff" stroke="#231f20" stroke-width="0.7"/>
<circle cx="42.40" cy="157.60" r="2.0" fill="#fff" stroke="#231f20" stroke-width="0.7"/>
<circle cx="45.08" cy="157.60" r="2.0" fill="#fff" stroke="#231f20" stroke-width="0.7"/>
<circle cx="47.76" cy="157.60" r="2.0" fill="#fff" stroke="#231f20" stroke-width="0.7"/>
<circle cx="50.45" cy="157.60" r="2.0" fill="#fff" stroke="#231f20" stroke-width="0.7"/>
<text x="170.00" y="52.30" font-size="8.4" textLength="33.80" lengthAdjust="spacingAndGlyphs" stroke="#231f20" stroke-width="0.1">4-OH-Val</text>
<text x="169.50" y="146.00" font-size="8.4" textLength="38.30" lengthAdjust="spacingAndGlyphs" stroke="#231f20" stroke-width="0.1">3,4-dh-Val</text>
<rect x="266.5" y="23.5" width="179.0" height="141.0" fill="none" stroke="#808285" stroke-width="0.8"/>
<path d="M263.30,157.40 L266.50,157.40" stroke="#aaa" stroke-width="0.8"/>
<text x="260.60" y="160.30" font-size="8.4" text-anchor="end" stroke="#231f20" stroke-width="0.1">0</text>
<path d="M263.30,132.68 L266.50,132.68" stroke="#aaa" stroke-width="0.8"/>
<text x="260.60" y="135.58" font-size="8.4" text-anchor="end" stroke="#231f20" stroke-width="0.1">10</text>
<path d="M263.30,107.96 L266.50,107.96" stroke="#aaa" stroke-width="0.8"/>
<text x="260.60" y="110.86" font-size="8.4" text-anchor="end" stroke="#231f20" stroke-width="0.1">20</text>
<path d="M263.30,83.24 L266.50,83.24" stroke="#aaa" stroke-width="0.8"/>
<text x="260.60" y="86.14" font-size="8.4" text-anchor="end" stroke="#231f20" stroke-width="0.1">30</text>
<path d="M263.30,58.52 L266.50,58.52" stroke="#aaa" stroke-width="0.8"/>
<text x="260.60" y="61.42" font-size="8.4" text-anchor="end" stroke="#231f20" stroke-width="0.1">40</text>
<path d="M263.30,33.80 L266.50,33.80" stroke="#aaa" stroke-width="0.8"/>
<text x="260.60" y="36.70" font-size="8.4" text-anchor="end" stroke="#231f20" stroke-width="0.1">50</text>
<path d="M274.40,164.50 L274.40,167.90" stroke="#6d6e70" stroke-width="0.8"/>
<text x="274.40" y="176.00" font-size="8.4" text-anchor="middle" stroke="#231f20" stroke-width="0.1">0</text>
<path d="M328.76,164.50 L328.76,167.90" stroke="#6d6e70" stroke-width="0.8"/>
<text x="328.76" y="176.00" font-size="8.4" text-anchor="middle" stroke="#231f20" stroke-width="0.1">200</text>
<path d="M383.12,164.50 L383.12,167.90" stroke="#6d6e70" stroke-width="0.8"/>
<text x="383.12" y="176.00" font-size="8.4" text-anchor="middle" stroke="#231f20" stroke-width="0.1">400</text>
<path d="M437.48,164.50 L437.48,167.90" stroke="#6d6e70" stroke-width="0.8"/>
<text x="437.48" y="176.00" font-size="8.4" text-anchor="middle" stroke="#231f20" stroke-width="0.1">600</text>

<text x="318.90" y="188.60" font-size="9.8" textLength="72.40" lengthAdjust="spacingAndGlyphs" stroke="#231f20" stroke-width="0.1">Reaction time (s)</text>
<text x="244.20" y="95.50" font-size="10.0" textLength="84.00" lengthAdjust="spacingAndGlyphs" text-anchor="middle" transform="rotate(-90 244.20 95.50)" stroke="#231f20" stroke-width="0.1">Concentration (µM)</text>
<circle cx="276.10" cy="30.20" r="1.9" fill="#fff" stroke="#231f20" stroke-width="0.7"/>
<text x="282.80" y="32.80" font-size="7.4" textLength="33.40" lengthAdjust="spacingAndGlyphs" stroke="#231f20" stroke-width="0.1">4-OH-Val</text>
<path d="M274.30,36.70 L277.90,40.30 M277.90,36.70 L274.30,40.30" stroke="#231f20" stroke-width="1.1"/>
<text x="282.80" y="40.80" font-size="7.4" textLength="33.60" lengthAdjust="spacingAndGlyphs" stroke="#231f20" stroke-width="0.1">3-OH-Val</text>
<rect x="274.15" y="44.45" width="3.9" height="3.9" fill="#fff" stroke="#231f20" stroke-width="0.7"/>
<text x="282.80" y="48.80" font-size="7.4" textLength="11.40" lengthAdjust="spacingAndGlyphs" stroke="#231f20" stroke-width="0.1">Azi</text>
<circle cx="276.10" cy="54.30" r="2.1" fill="#000"/>
<text x="282.80" y="56.80" font-size="7.4" textLength="38.20" lengthAdjust="spacingAndGlyphs" stroke="#231f20" stroke-width="0.1">3,4-dh-Val</text>
<path d="M276.10,59.90 L278.50,62.30 L276.10,64.70 L273.70,62.30Z" fill="#fff" stroke="#231f20" stroke-width="0.7"/>
<text x="282.80" y="64.80" font-size="7.4" textLength="17.00" lengthAdjust="spacingAndGlyphs" stroke="#231f20" stroke-width="0.1">MAA</text>
<path d="M274.40,157.40 L274.94,155.04 L275.49,152.72 L276.03,150.46 L276.57,148.24 L277.12,146.07 L277.66,143.94 L278.21,141.85 L278.75,139.81 L279.29,137.82 L279.84,135.86 L280.38,133.95 L280.92,132.07 L281.47,130.23 L282.01,128.43 L282.55,126.67 L283.10,124.95 L283.64,123.26 L284.18,121.61 L284.73,119.99 L285.27,118.40 L285.82,116.85 L286.36,115.33 L286.90,113.84 L287.45,112.38 L287.99,110.95 L288.53,109.56 L289.08,108.19 L289.62,106.85 L290.16,105.54 L290.71,104.25 L291.25,102.99 L291.80,101.76 L292.34,100.55 L292.88,99.37 L293.43,98.21 L293.97,97.08 L294.51,95.97 L295.06,94.88 L295.60,93.82 L296.14,92.78 L296.69,91.76 L297.23,90.76 L297.77,89.78 L298.32,88.82 L298.86,87.89 L299.41,86.97 L299.95,86.07 L300.49,85.19 L301.04,84.32 L301.58,83.48 L302.12,82.65 L302.67,81.84 L303.21,81.05 L303.75,80.27 L304.30,79.51 L304.84,78.77 L305.39,78.04 L305.93,77.33 L306.47,76.63 L307.02,75.94 L307.56,75.27 L308.10,74.62 L308.65,73.97 L309.19,73.34 L309.73,72.73 L310.28,72.12 L310.82,71.53 L311.36,70.95 L311.91,70.39 L312.45,69.83 L313.00,69.29 L313.54,68.76 L314.08,68.24 L314.63,67.73 L315.17,67.23 L315.71,66.74 L316.26,66.26 L316.80,65.79 L317.34,65.33 L317.89,64.88 L318.43,64.44 L318.98,64.01 L319.52,63.59 L320.06,63.17 L320.61,62.77 L321.15,62.37 L321.69,61.98 L322.24,61.60 L322.78,61.23 L323.32,60.87 L323.87,60.51 L324.41,60.16 L324.95,59.82 L325.50,59.48 L326.04,59.15 L326.59,58.83 L327.13,58.52 L327.67,58.21 L328.22,57.91 L328.76,57.61 L329.30,57.32 L329.85,57.04 L330.39,56.76 L330.93,56.49 L331.48,56.22 L332.02,55.96 L332.57,55.71 L333.11,55.46 L333.65,55.21 L334.20,54.98 L334.74,54.74 L335.28,54.51 L335.83,54.29 L336.37,54.07 L336.91,53.85 L337.46,53.64 L338.00,53.43 L338.54,53.23 L339.09,53.03 L339.63,52.84 L340.18,52.65 L340.72,52.46 L341.26,52.28 L341.81,52.10 L342.35,51.93 L342.89,51.75 L343.44,51.59 L343.98,51.42 L344.52,51.26 L345.07,51.10 L345.61,50.95 L346.16,50.80 L346.70,50.65 L347.24,50.51 L347.79,50.37 L348.33,50.23 L348.87,50.09 L349.42,49.96 L349.96,49.83 L350.50,49.70 L351.05,49.57 L351.59,49.45 L352.13,49.33 L352.68,49.22 L353.22,49.10 L353.77,48.99 L354.31,48.88 L354.85,48.77 L355.40,48.66 L355.94,48.56 L356.48,48.46 L357.03,48.36 L357.57,48.26 L358.11,48.17 L358.66,48.08 L359.20,47.98 L359.75,47.89 L360.29,47.81 L360.83,47.72 L361.38,47.64 L361.92,47.56 L362.46,47.48 L363.01,47.40 L363.55,47.32 L364.09,47.24 L364.64,47.17 L365.18,47.10 L365.72,47.03 L366.27,46.96 L366.81,46.89 L367.36,46.82 L367.90,46.76 L368.44,46.69 L368.99,46.63 L369.53,46.57 L370.07,46.51 L370.62,46.45 L371.16,46.39 L371.70,46.34 L372.25,46.28 L372.79,46.23 L373.34,46.18 L373.88,46.12 L374.42,46.07 L374.97,46.02 L375.51,45.98 L376.05,45.93 L376.60,45.88 L377.14,45.84 L377.68,45.79 L378.23,45.75 L378.77,45.71 L379.31,45.66 L379.86,45.62 L380.40,45.58 L380.95,45.54 L381.49,45.50 L382.03,45.47 L382.58,45.43 L383.12,45.39 L383.66,45.36 L384.21,45.32 L384.75,45.29 L385.29,45.26 L385.84,45.22 L386.38,45.19 L386.93,45.16 L387.47,45.13 L388.01,45.10 L388.56,45.07 L389.10,45.04 L389.64,45.01 L390.19,44.99 L390.73,44.96 L391.27,44.93 L391.82,44.91 L392.36,44.88 L392.90,44.86 L393.45,44.83 L393.99,44.81 L394.54,44.79 L395.08,44.76 L395.62,44.74 L396.17,44.72 L396.71,44.70 L397.25,44.68 L397.80,44.66 L398.34,44.64 L398.88,44.62 L399.43,44.60 L399.97,44.58 L400.52,44.56 L401.06,44.54 L401.60,44.52 L402.15,44.51 L402.69,44.49 L403.23,44.47 L403.78,44.46 L404.32,44.44 L404.86,44.42 L405.41,44.41 L405.95,44.39 L406.49,44.38 L407.04,44.36 L407.58,44.35 L408.13,44.34 L408.67,44.32 L409.21,44.31 L409.76,44.30 L410.30,44.28 L410.84,44.27 L411.39,44.26 L411.93,44.25 L412.47,44.24 L413.02,44.23 L413.56,44.21 L414.11,44.20 L414.65,44.19 L415.19,44.18 L415.74,44.17 L416.28,44.16 L416.82,44.15 L417.37,44.14 L417.91,44.13 L418.45,44.12 L419.00,44.11 L419.54,44.11 L420.08,44.10 L420.63,44.09 L421.17,44.08 L421.72,44.07 L422.26,44.06 L422.80,44.06 L423.35,44.05 L423.89,44.04 L424.43,44.03 L424.98,44.03 L425.52,44.02 L426.06,44.01 L426.61,44.01 L427.15,44.00 L427.70,43.99 L428.24,43.99 L428.78,43.98 L429.33,43.97 L429.87,43.97 L430.41,43.96 L430.96,43.96 L431.50,43.95 L432.04,43.95 L432.59,43.94 L433.13,43.94 L433.67,43.93 L434.22,43.92 L434.76,43.92 L435.31,43.92 L435.85,43.91 L436.39,43.91 L436.94,43.90 L437.48,43.90" fill="none" stroke="#6d6e70" stroke-width="0.8"/>
<path d="M274.40,157.40 L274.94,154.96 L275.49,152.58 L276.03,150.26 L276.57,148.00 L277.12,145.80 L277.66,143.65 L278.21,141.56 L278.75,139.53 L279.29,137.54 L279.84,135.61 L280.38,133.73 L280.92,131.89 L281.47,130.10 L282.01,128.36 L282.55,126.66 L283.10,125.01 L283.64,123.40 L284.18,121.83 L284.73,120.30 L285.27,118.81 L285.82,117.36 L286.36,115.94 L286.90,114.56 L287.45,113.22 L287.99,111.91 L288.53,110.64 L289.08,109.39 L289.62,108.18 L290.16,107.00 L290.71,105.86 L291.25,104.74 L291.80,103.64 L292.34,102.58 L292.88,101.55 L293.43,100.54 L293.97,99.55 L294.51,98.60 L295.06,97.66 L295.60,96.75 L296.14,95.87 L296.69,95.00 L297.23,94.16 L297.77,93.34 L298.32,92.54 L298.86,91.77 L299.41,91.01 L299.95,90.27 L300.49,89.55 L301.04,88.85 L301.58,88.17 L302.12,87.50 L302.67,86.85 L303.21,86.22 L303.75,85.60 L304.30,85.00 L304.84,84.42 L305.39,83.85 L305.93,83.29 L306.47,82.75 L307.02,82.23 L307.56,81.71 L308.10,81.21 L308.65,80.73 L309.19,80.25 L309.73,79.79 L310.28,79.34 L310.82,78.90 L311.36,78.47 L311.91,78.05 L312.45,77.65 L313.00,77.25 L313.54,76.87 L314.08,76.49 L314.63,76.13 L315.17,75.77 L315.71,75.42 L316.26,75.08 L316.80,74.75 L317.34,74.43 L317.89,74.12 L318.43,73.81 L318.98,73.52 L319.52,73.23 L320.06,72.94 L320.61,72.67 L321.15,72.40 L321.69,72.14 L322.24,71.89 L322.78,71.64 L323.32,71.40 L323.87,71.16 L324.41,70.93 L324.95,70.71 L325.50,70.49 L326.04,70.28 L326.59,70.07 L327.13,69.87 L327.67,69.67 L328.22,69.48 L328.76,69.30 L329.30,69.12 L329.85,68.94 L330.39,68.77 L330.93,68.60 L331.48,68.44 L332.02,68.28 L332.57,68.12 L333.11,67.97 L333.65,67.82 L334.20,67.68 L334.74,67.54 L335.28,67.40 L335.83,67.27 L336.37,67.14 L336.91,67.01 L337.46,66.89 L338.00,66.77 L338.54,66.65 L339.09,66.54 L339.63,66.43 L340.18,66.32 L340.72,66.22 L341.26,66.12 L341.81,66.02 L342.35,65.92 L342.89,65.82 L343.44,65.73 L343.98,65.64 L344.52,65.55 L345.07,65.47 L345.61,65.39 L346.16,65.30 L346.70,65.23 L347.24,65.15 L347.79,65.07 L348.33,65.00 L348.87,64.93 L349.42,64.86 L349.96,64.79 L350.50,64.73 L351.05,64.66 L351.59,64.60 L352.13,64.54 L352.68,64.48 L353.22,64.42 L353.77,64.37 L354.31,64.31 L354.85,64.26 L355.40,64.21 L355.94,64.15 L356.48,64.11 L357.03,64.06 L357.57,64.01 L358.11,63.96 L358.66,63.92 L359.20,63.88 L359.75,63.83 L360.29,63.79 L360.83,63.75 L361.38,63.71 L361.92,63.68 L362.46,63.64 L363.01,63.60 L363.55,63.57 L364.09,63.53 L364.64,63.50 L365.18,63.47 L365.72,63.43 L366.27,63.40 L366.81,63.37 L367.36,63.34 L367.90,63.32 L368.44,63.29 L368.99,63.26 L369.53,63.23 L370.07,63.21 L370.62,63.18 L371.16,63.16 L371.70,63.13 L372.25,63.11 L372.79,63.09 L373.34,63.07 L373.88,63.04 L374.42,63.02 L374.97,63.00 L375.51,62.98 L376.05,62.96 L376.60,62.95 L377.14,62.93 L377.68,62.91 L378.23,62.89 L378.77,62.87 L379.31,62.86 L379.86,62.84 L380.40,62.83 L380.95,62.81 L381.49,62.80 L382.03,62.78 L382.58,62.77 L383.12,62.75 L383.66,62.74 L384.21,62.73 L384.75,62.71 L385.29,62.70 L385.84,62.69 L386.38,62.68 L386.93,62.67 L387.47,62.65 L388.01,62.64 L388.56,62.63 L389.10,62.62 L389.64,62.61 L390.19,62.60 L390.73,62.59 L391.27,62.58 L391.82,62.57 L392.36,62.57 L392.90,62.56 L393.45,62.55 L393.99,62.54 L394.54,62.53 L395.08,62.52 L395.62,62.52 L396.17,62.51 L396.71,62.50 L397.25,62.50 L397.80,62.49 L398.34,62.48 L398.88,62.48 L399.43,62.47 L399.97,62.46 L400.52,62.46 L401.06,62.45 L401.60,62.44 L402.15,62.44 L402.69,62.43 L403.23,62.43 L403.78,62.42 L404.32,62.42 L404.86,62.41 L405.41,62.41 L405.95,62.40 L406.49,62.40 L407.04,62.40 L407.58,62.39 L408.13,62.39 L408.67,62.38 L409.21,62.38 L409.76,62.37 L410.30,62.37 L410.84,62.37 L411.39,62.36 L411.93,62.36 L412.47,62.36 L413.02,62.35 L413.56,62.35 L414.11,62.35 L414.65,62.34 L415.19,62.34 L415.74,62.34 L416.28,62.34 L416.82,62.33 L417.37,62.33 L417.91,62.33 L418.45,62.32 L419.00,62.32 L419.54,62.32 L420.08,62.32 L420.63,62.32 L421.17,62.31 L421.72,62.31 L422.26,62.31 L422.80,62.31 L423.35,62.30 L423.89,62.30 L424.43,62.30 L424.98,62.30 L425.52,62.30 L426.06,62.30 L426.61,62.29 L427.15,62.29 L427.70,62.29 L428.24,62.29 L428.78,62.29 L429.33,62.29 L429.87,62.28 L430.41,62.28 L430.96,62.28 L431.50,62.28 L432.04,62.28 L432.59,62.28 L433.13,62.28 L433.67,62.27 L434.22,62.27 L434.76,62.27 L435.31,62.27 L435.85,62.27 L436.39,62.27 L436.94,62.27 L437.48,62.27" fill="none" stroke="#6d6e70" stroke-width="0.8"/>
<path d="M274.40,157.40 L274.94,156.67 L275.49,155.95 L276.03,155.25 L276.57,154.57 L277.12,153.90 L277.66,153.24 L278.21,152.60 L278.75,151.97 L279.29,151.36 L279.84,150.76 L280.38,150.17 L280.92,149.60 L281.47,149.04 L282.01,148.49 L282.55,147.95 L283.10,147.42 L283.64,146.91 L284.18,146.41 L284.73,145.91 L285.27,145.43 L285.82,144.96 L286.36,144.50 L286.90,144.05 L287.45,143.61 L287.99,143.18 L288.53,142.76 L289.08,142.34 L289.62,141.94 L290.16,141.54 L290.71,141.16 L291.25,140.78 L291.80,140.41 L292.34,140.05 L292.88,139.69 L293.43,139.35 L293.97,139.01 L294.51,138.68 L295.06,138.35 L295.60,138.04 L296.14,137.73 L296.69,137.42 L297.23,137.13 L297.77,136.83 L298.32,136.55 L298.86,136.27 L299.41,136.00 L299.95,135.74 L300.49,135.48 L301.04,135.22 L301.58,134.97 L302.12,134.73 L302.67,134.49 L303.21,134.26 L303.75,134.03 L304.30,133.81 L304.84,133.59 L305.39,133.37 L305.93,133.17 L306.47,132.96 L307.02,132.76 L307.56,132.57 L308.10,132.38 L308.65,132.19 L309.19,132.01 L309.73,131.83 L310.28,131.65 L310.82,131.48 L311.36,131.31 L311.91,131.15 L312.45,130.99 L313.00,130.83 L313.54,130.68 L314.08,130.53 L314.63,130.38 L315.17,130.24 L315.71,130.10 L316.26,129.96 L316.80,129.82 L317.34,129.69 L317.89,129.56 L318.43,129.44 L318.98,129.32 L319.52,129.20 L320.06,129.08 L320.61,128.96 L321.15,128.85 L321.69,128.74 L322.24,128.63 L322.78,128.53 L323.32,128.42 L323.87,128.32 L324.41,128.22 L324.95,128.13 L325.50,128.03 L326.04,127.94 L326.59,127.85 L327.13,127.76 L327.67,127.67 L328.22,127.59 L328.76,127.51 L329.30,127.42 L329.85,127.35 L330.39,127.27 L330.93,127.19 L331.48,127.12 L332.02,127.05 L332.57,126.97 L333.11,126.90 L333.65,126.84 L334.20,126.77 L334.74,126.71 L335.28,126.64 L335.83,126.58 L336.37,126.52 L336.91,126.46 L337.46,126.40 L338.00,126.34 L338.54,126.29 L339.09,126.23 L339.63,126.18 L340.18,126.13 L340.72,126.08 L341.26,126.03 L341.81,125.98 L342.35,125.93 L342.89,125.88 L343.44,125.84 L343.98,125.79 L344.52,125.75 L345.07,125.71 L345.61,125.66 L346.16,125.62 L346.70,125.58 L347.24,125.54 L347.79,125.51 L348.33,125.47 L348.87,125.43 L349.42,125.40 L349.96,125.36 L350.50,125.33 L351.05,125.29 L351.59,125.26 L352.13,125.23 L352.68,125.20 L353.22,125.16 L353.77,125.13 L354.31,125.11 L354.85,125.08 L355.40,125.05 L355.94,125.02 L356.48,124.99 L357.03,124.97 L357.57,124.94 L358.11,124.92 L358.66,124.89 L359.20,124.87 L359.75,124.84 L360.29,124.82 L360.83,124.80 L361.38,124.78 L361.92,124.75 L362.46,124.73 L363.01,124.71 L363.55,124.69 L364.09,124.67 L364.64,124.65 L365.18,124.63 L365.72,124.62 L366.27,124.60 L366.81,124.58 L367.36,124.56 L367.90,124.55 L368.44,124.53 L368.99,124.51 L369.53,124.50 L370.07,124.48 L370.62,124.47 L371.16,124.45 L371.70,124.44 L372.25,124.42 L372.79,124.41 L373.34,124.39 L373.88,124.38 L374.42,124.37 L374.97,124.35 L375.51,124.34 L376.05,124.33 L376.60,124.32 L377.14,124.31 L377.68,124.30 L378.23,124.28 L378.77,124.27 L379.31,124.26 L379.86,124.25 L380.40,124.24 L380.95,124.23 L381.49,124.22 L382.03,124.21 L382.58,124.20 L383.12,124.19 L383.66,124.18 L384.21,124.18 L384.75,124.17 L385.29,124.16 L385.84,124.15 L386.38,124.14 L386.93,124.13 L387.47,124.13 L388.01,124.12 L388.56,124.11 L389.10,124.10 L389.64,124.10 L390.19,124.09 L390.73,124.08 L391.27,124.08 L391.82,124.07 L392.36,124.06 L392.90,124.06 L393.45,124.05 L393.99,124.05 L394.54,124.04 L395.08,124.04 L395.62,124.03 L396.17,124.02 L396.71,124.02 L397.25,124.01 L397.80,124.01 L398.34,124.00 L398.88,124.00 L399.43,123.99 L399.97,123.99 L400.52,123.98 L401.06,123.98 L401.60,123.98 L402.15,123.97 L402.69,123.97 L403.23,123.96 L403.78,123.96 L404.32,123.96 L404.86,123.95 L405.41,123.95 L405.95,123.94 L406.49,123.94 L407.04,123.94 L407.58,123.93 L408.13,123.93 L408.67,123.93 L409.21,123.92 L409.76,123.92 L410.30,123.92 L410.84,123.92 L411.39,123.91 L411.93,123.91 L412.47,123.91 L413.02,123.90 L413.56,123.90 L414.11,123.90 L414.65,123.90 L415.19,123.89 L415.74,123.89 L416.28,123.89 L416.82,123.89 L417.37,123.88 L417.91,123.88 L418.45,123.88 L419.00,123.88 L419.54,123.88 L420.08,123.87 L420.63,123.87 L421.17,123.87 L421.72,123.87 L422.26,123.87 L422.80,123.86 L423.35,123.86 L423.89,123.86 L424.43,123.86 L424.98,123.86 L425.52,123.86 L426.06,123.85 L426.61,123.85 L427.15,123.85 L427.70,123.85 L428.24,123.85 L428.78,123.85 L429.33,123.84 L429.87,123.84 L430.41,123.84 L430.96,123.84 L431.50,123.84 L432.04,123.84 L432.59,123.84 L433.13,123.84 L433.67,123.83 L434.22,123.83 L434.76,123.83 L435.31,123.83 L435.85,123.83 L436.39,123.83 L436.94,123.83 L437.48,123.83" fill="none" stroke="#6d6e70" stroke-width="0.8"/>
<path d="M274.40,157.40 L274.94,157.34 L275.49,157.27 L276.03,157.21 L276.57,157.15 L277.12,157.08 L277.66,157.02 L278.21,156.96 L278.75,156.90 L279.29,156.84 L279.84,156.79 L280.38,156.73 L280.92,156.67 L281.47,156.61 L282.01,156.56 L282.55,156.50 L283.10,156.45 L283.64,156.40 L284.18,156.34 L284.73,156.29 L285.27,156.24 L285.82,156.19 L286.36,156.14 L286.90,156.09 L287.45,156.04 L287.99,155.99 L288.53,155.94 L289.08,155.89 L289.62,155.85 L290.16,155.80 L290.71,155.76 L291.25,155.71 L291.80,155.67 L292.34,155.62 L292.88,155.58 L293.43,155.53 L293.97,155.49 L294.51,155.45 L295.06,155.41 L295.60,155.37 L296.14,155.33 L296.69,155.29 L297.23,155.25 L297.77,155.21 L298.32,155.17 L298.86,155.13 L299.41,155.09 L299.95,155.06 L300.49,155.02 L301.04,154.98 L301.58,154.95 L302.12,154.91 L302.67,154.88 L303.21,154.84 L303.75,154.81 L304.30,154.77 L304.84,154.74 L305.39,154.71 L305.93,154.67 L306.47,154.64 L307.02,154.61 L307.56,154.58 L308.10,154.55 L308.65,154.52 L309.19,154.48 L309.73,154.45 L310.28,154.42 L310.82,154.40 L311.36,154.37 L311.91,154.34 L312.45,154.31 L313.00,154.28 L313.54,154.25 L314.08,154.23 L314.63,154.20 L315.17,154.17 L315.71,154.15 L316.26,154.12 L316.80,154.09 L317.34,154.07 L317.89,154.04 L318.43,154.02 L318.98,153.99 L319.52,153.97 L320.06,153.95 L320.61,153.92 L321.15,153.90 L321.69,153.88 L322.24,153.85 L322.78,153.83 L323.32,153.81 L323.87,153.79 L324.41,153.76 L324.95,153.74 L325.50,153.72 L326.04,153.70 L326.59,153.68 L327.13,153.66 L327.67,153.64 L328.22,153.62 L328.76,153.60 L329.30,153.58 L329.85,153.56 L330.39,153.54 L330.93,153.52 L331.48,153.50 L332.02,153.49 L332.57,153.47 L333.11,153.45 L333.65,153.43 L334.20,153.41 L334.74,153.40 L335.28,153.38 L335.83,153.36 L336.37,153.35 L336.91,153.33 L337.46,153.31 L338.00,153.30 L338.54,153.28 L339.09,153.27 L339.63,153.25 L340.18,153.23 L340.72,153.22 L341.26,153.20 L341.81,153.19 L342.35,153.18 L342.89,153.16 L343.44,153.15 L343.98,153.13 L344.52,153.12 L345.07,153.10 L345.61,153.09 L346.16,153.08 L346.70,153.06 L347.24,153.05 L347.79,153.04 L348.33,153.03 L348.87,153.01 L349.42,153.00 L349.96,152.99 L350.50,152.98 L351.05,152.96 L351.59,152.95 L352.13,152.94 L352.68,152.93 L353.22,152.92 L353.77,152.90 L354.31,152.89 L354.85,152.88 L355.40,152.87 L355.94,152.86 L356.48,152.85 L357.03,152.84 L357.57,152.83 L358.11,152.82 L358.66,152.81 L359.20,152.80 L359.75,152.79 L360.29,152.78 L360.83,152.77 L361.38,152.76 L361.92,152.75 L362.46,152.74 L363.01,152.73 L363.55,152.72 L364.09,152.71 L364.64,152.70 L365.18,152.69 L365.72,152.69 L366.27,152.68 L366.81,152.67 L367.36,152.66 L367.90,152.65 L368.44,152.64 L368.99,152.64 L369.53,152.63 L370.07,152.62 L370.62,152.61 L371.16,152.60 L371.70,152.60 L372.25,152.59 L372.79,152.58 L373.34,152.57 L373.88,152.57 L374.42,152.56 L374.97,152.55 L375.51,152.55 L376.05,152.54 L376.60,152.53 L377.14,152.52 L377.68,152.52 L378.23,152.51 L378.77,152.50 L379.31,152.50 L379.86,152.49 L380.40,152.49 L380.95,152.48 L381.49,152.47 L382.03,152.47 L382.58,152.46 L383.12,152.45 L383.66,152.45 L384.21,152.44 L384.75,152.44 L385.29,152.43 L385.84,152.43 L386.38,152.42 L386.93,152.42 L387.47,152.41 L388.01,152.40 L388.56,152.40 L389.10,152.39 L389.64,152.39 L390.19,152.38 L390.73,152.38 L391.27,152.37 L391.82,152.37 L392.36,152.36 L392.90,152.36 L393.45,152.35 L393.99,152.35 L394.54,152.35 L395.08,152.34 L395.62,152.34 L396.17,152.33 L396.71,152.33 L397.25,152.32 L397.80,152.32 L398.34,152.31 L398.88,152.31 L399.43,152.31 L399.97,152.30 L400.52,152.30 L401.06,152.29 L401.60,152.29 L402.15,152.29 L402.69,152.28 L403.23,152.28 L403.78,152.27 L404.32,152.27 L404.86,152.27 L405.41,152.26 L405.95,152.26 L406.49,152.26 L407.04,152.25 L407.58,152.25 L408.13,152.25 L408.67,152.24 L409.21,152.24 L409.76,152.24 L410.30,152.23 L410.84,152.23 L411.39,152.23 L411.93,152.22 L412.47,152.22 L413.02,152.22 L413.56,152.21 L414.11,152.21 L414.65,152.21 L415.19,152.20 L415.74,152.20 L416.28,152.20 L416.82,152.20 L417.37,152.19 L417.91,152.19 L418.45,152.19 L419.00,152.19 L419.54,152.18 L420.08,152.18 L420.63,152.18 L421.17,152.17 L421.72,152.17 L422.26,152.17 L422.80,152.17 L423.35,152.16 L423.89,152.16 L424.43,152.16 L424.98,152.16 L425.52,152.16 L426.06,152.15 L426.61,152.15 L427.15,152.15 L427.70,152.15 L428.24,152.14 L428.78,152.14 L429.33,152.14 L429.87,152.14 L430.41,152.14 L430.96,152.13 L431.50,152.13 L432.04,152.13 L432.59,152.13 L433.13,152.13 L433.67,152.12 L434.22,152.12 L434.76,152.12 L435.31,152.12 L435.85,152.12 L436.39,152.11 L436.94,152.11 L437.48,152.11" fill="none" stroke="#6d6e70" stroke-width="0.8"/>
<path d="M274.40,157.40 L274.94,157.36 L275.49,157.31 L276.03,157.27 L276.57,157.23 L277.12,157.19 L277.66,157.15 L278.21,157.11 L278.75,157.07 L279.29,157.03 L279.84,157.00 L280.38,156.96 L280.92,156.93 L281.47,156.89 L282.01,156.86 L282.55,156.82 L283.10,156.79 L283.64,156.76 L284.18,156.73 L284.73,156.70 L285.27,156.67 L285.82,156.64 L286.36,156.61 L286.90,156.58 L287.45,156.55 L287.99,156.52 L288.53,156.50 L289.08,156.47 L289.62,156.45 L290.16,156.42 L290.71,156.40 L291.25,156.37 L291.80,156.35 L292.34,156.33 L292.88,156.30 L293.43,156.28 L293.97,156.26 L294.51,156.24 L295.06,156.22 L295.60,156.20 L296.14,156.17 L296.69,156.16 L297.23,156.14 L297.77,156.12 L298.32,156.10 L298.86,156.08 L299.41,156.06 L299.95,156.04 L300.49,156.03 L301.04,156.01 L301.58,155.99 L302.12,155.98 L302.67,155.96 L303.21,155.95 L303.75,155.93 L304.30,155.92 L304.84,155.90 L305.39,155.89 L305.93,155.87 L306.47,155.86 L307.02,155.85 L307.56,155.83 L308.10,155.82 L308.65,155.81 L309.19,155.79 L309.73,155.78 L310.28,155.77 L310.82,155.76 L311.36,155.75 L311.91,155.73 L312.45,155.72 L313.00,155.71 L313.54,155.70 L314.08,155.69 L314.63,155.68 L315.17,155.67 L315.71,155.66 L316.26,155.65 L316.80,155.64 L317.34,155.63 L317.89,155.62 L318.43,155.62 L318.98,155.61 L319.52,155.60 L320.06,155.59 L320.61,155.58 L321.15,155.57 L321.69,155.57 L322.24,155.56 L322.78,155.55 L323.32,155.54 L323.87,155.54 L324.41,155.53 L324.95,155.52 L325.50,155.51 L326.04,155.51 L326.59,155.50 L327.13,155.49 L327.67,155.49 L328.22,155.48 L328.76,155.48 L329.30,155.47 L329.85,155.46 L330.39,155.46 L330.93,155.45 L331.48,155.45 L332.02,155.44 L332.57,155.44 L333.11,155.43 L333.65,155.43 L334.20,155.42 L334.74,155.42 L335.28,155.41 L335.83,155.41 L336.37,155.40 L336.91,155.40 L337.46,155.39 L338.00,155.39 L338.54,155.39 L339.09,155.38 L339.63,155.38 L340.18,155.37 L340.72,155.37 L341.26,155.37 L341.81,155.36 L342.35,155.36 L342.89,155.35 L343.44,155.35 L343.98,155.35 L344.52,155.34 L345.07,155.34 L345.61,155.34 L346.16,155.33 L346.70,155.33 L347.24,155.33 L347.79,155.32 L348.33,155.32 L348.87,155.32 L349.42,155.32 L349.96,155.31 L350.50,155.31 L351.05,155.31 L351.59,155.31 L352.13,155.30 L352.68,155.30 L353.22,155.30 L353.77,155.30 L354.31,155.29 L354.85,155.29 L355.40,155.29 L355.94,155.29 L356.48,155.28 L357.03,155.28 L357.57,155.28 L358.11,155.28 L358.66,155.28 L359.20,155.27 L359.75,155.27 L360.29,155.27 L360.83,155.27 L361.38,155.27 L361.92,155.26 L362.46,155.26 L363.01,155.26 L363.55,155.26 L364.09,155.26 L364.64,155.26 L365.18,155.25 L365.72,155.25 L366.27,155.25 L366.81,155.25 L367.36,155.25 L367.90,155.25 L368.44,155.25 L368.99,155.24 L369.53,155.24 L370.07,155.24 L370.62,155.24 L371.16,155.24 L371.70,155.24 L372.25,155.24 L372.79,155.23 L373.34,155.23 L373.88,155.23 L374.42,155.23 L374.97,155.23 L375.51,155.23 L376.05,155.23 L376.60,155.23 L377.14,155.23 L377.68,155.22 L378.23,155.22 L378.77,155.22 L379.31,155.22 L379.86,155.22 L380.40,155.22 L380.95,155.22 L381.49,155.22 L382.03,155.22 L382.58,155.22 L383.12,155.22 L383.66,155.22 L384.21,155.21 L384.75,155.21 L385.29,155.21 L385.84,155.21 L386.38,155.21 L386.93,155.21 L387.47,155.21 L388.01,155.21 L388.56,155.21 L389.10,155.21 L389.64,155.21 L390.19,155.21 L390.73,155.21 L391.27,155.21 L391.82,155.20 L392.36,155.20 L392.90,155.20 L393.45,155.20 L393.99,155.20 L394.54,155.20 L395.08,155.20 L395.62,155.20 L396.17,155.20 L396.71,155.20 L397.25,155.20 L397.80,155.20 L398.34,155.20 L398.88,155.20 L399.43,155.20 L399.97,155.20 L400.52,155.20 L401.06,155.20 L401.60,155.20 L402.15,155.20 L402.69,155.20 L403.23,155.19 L403.78,155.19 L404.32,155.19 L404.86,155.19 L405.41,155.19 L405.95,155.19 L406.49,155.19 L407.04,155.19 L407.58,155.19 L408.13,155.19 L408.67,155.19 L409.21,155.19 L409.76,155.19 L410.30,155.19 L410.84,155.19 L411.39,155.19 L411.93,155.19 L412.47,155.19 L413.02,155.19 L413.56,155.19 L414.11,155.19 L414.65,155.19 L415.19,155.19 L415.74,155.19 L416.28,155.19 L416.82,155.19 L417.37,155.19 L417.91,155.19 L418.45,155.19 L419.00,155.19 L419.54,155.19 L420.08,155.19 L420.63,155.19 L421.17,155.19 L421.72,155.19 L422.26,155.18 L422.80,155.18 L423.35,155.18 L423.89,155.18 L424.43,155.18 L424.98,155.18 L425.52,155.18 L426.06,155.18 L426.61,155.18 L427.15,155.18 L427.70,155.18 L428.24,155.18 L428.78,155.18 L429.33,155.18 L429.87,155.18 L430.41,155.18 L430.96,155.18 L431.50,155.18 L432.04,155.18 L432.59,155.18 L433.13,155.18 L433.67,155.18 L434.22,155.18 L434.76,155.18 L435.31,155.18 L435.85,155.18 L436.39,155.18 L436.94,155.18 L437.48,155.18" fill="none" stroke="#6d6e70" stroke-width="0.8"/>
<path d="M437.48,51.10 L437.48,28.86 M434.48,51.10 L440.48,51.10 M434.48,28.86 L440.48,28.86" stroke="#7d7d7d" stroke-width="0.75" fill="none"/>
<path d="M437.48,83.24 L437.48,31.33 M434.48,83.24 L440.48,83.24 M434.48,31.33 L440.48,31.33" stroke="#7d7d7d" stroke-width="0.75" fill="none"/>
<path d="M339.63,91.89 L339.63,51.10 M336.63,91.89 L342.63,91.89 M336.63,51.10 L342.63,51.10" stroke="#7d7d7d" stroke-width="0.75" fill="none"/>
<path d="M339.63,63.46 L339.63,53.58 M336.63,63.46 L342.63,63.46 M336.63,53.58 L342.63,53.58" stroke="#7d7d7d" stroke-width="0.75" fill="none"/>
<path d="M307.02,96.84 L307.02,69.64 M304.02,96.84 L310.02,96.84 M304.02,69.64 L310.02,69.64" stroke="#7d7d7d" stroke-width="0.75" fill="none"/>
<path d="M290.71,105.49 L290.71,95.60 M287.71,105.49 L293.71,105.49 M287.71,95.60 L293.71,95.60" stroke="#7d7d7d" stroke-width="0.75" fill="none"/>
<path d="M282.55,122.79 L282.55,112.90 M279.55,122.79 L285.55,122.79 M279.55,112.90 L285.55,112.90" stroke="#7d7d7d" stroke-width="0.75" fill="none"/>
<path d="M279.84,130.21 L279.84,122.79 M276.84,130.21 L282.84,130.21 M276.84,122.79 L282.84,122.79" stroke="#7d7d7d" stroke-width="0.75" fill="none"/>
<path d="M277.12,142.57 L277.12,132.68 M274.12,142.57 L280.12,142.57 M274.12,132.68 L280.12,132.68" stroke="#7d7d7d" stroke-width="0.75" fill="none"/>
<path d="M437.48,125.26 L437.48,120.32 M434.48,125.26 L440.48,125.26 M434.48,120.32 L440.48,120.32" stroke="#7d7d7d" stroke-width="0.75" fill="none"/>
<path d="M339.63,130.21 L339.63,125.26 M336.63,130.21 L342.63,130.21 M336.63,125.26 L342.63,125.26" stroke="#7d7d7d" stroke-width="0.75" fill="none"/>
<rect x="272.40" y="155.40" width="4.0" height="4.0" fill="#fff" stroke="#231f20" stroke-width="0.7"/>
<rect x="273.76" y="139.33" width="4.0" height="4.0" fill="#fff" stroke="#231f20" stroke-width="0.7"/>
<rect x="275.12" y="135.62" width="4.0" height="4.0" fill="#fff" stroke="#231f20" stroke-width="0.7"/>
<rect x="277.84" y="125.74" width="4.0" height="4.0" fill="#fff" stroke="#231f20" stroke-width="0.7"/>
<rect x="280.55" y="118.32" width="4.0" height="4.0" fill="#fff" stroke="#231f20" stroke-width="0.7"/>
<rect x="288.71" y="99.78" width="4.0" height="4.0" fill="#fff" stroke="#231f20" stroke-width="0.7"/>
<rect x="305.02" y="81.24" width="4.0" height="4.0" fill="#fff" stroke="#231f20" stroke-width="0.7"/>
<rect x="337.63" y="70.12" width="4.0" height="4.0" fill="#fff" stroke="#231f20" stroke-width="0.7"/>
<rect x="435.48" y="55.28" width="4.0" height="4.0" fill="#fff" stroke="#231f20" stroke-width="0.7"/>
<path d="M272.50,155.50 L276.30,159.30 M276.30,155.50 L272.50,159.30" stroke="#231f20" stroke-width="1.1"/>
<path d="M273.86,151.79 L277.66,155.59 M277.66,151.79 L273.86,155.59" stroke="#231f20" stroke-width="1.1"/>
<path d="M275.22,149.32 L279.02,153.12 M279.02,149.32 L275.22,153.12" stroke="#231f20" stroke-width="1.1"/>
<path d="M277.94,146.85 L281.74,150.65 M281.74,146.85 L277.94,150.65" stroke="#231f20" stroke-width="1.1"/>
<path d="M280.65,144.38 L284.45,148.18 M284.45,144.38 L280.65,148.18" stroke="#231f20" stroke-width="1.1"/>
<path d="M288.81,138.20 L292.61,142.00 M292.61,138.20 L288.81,142.00" stroke="#231f20" stroke-width="1.1"/>
<path d="M305.12,132.02 L308.92,135.82 M308.92,132.02 L305.12,135.82" stroke="#231f20" stroke-width="1.1"/>
<path d="M337.73,125.84 L341.53,129.64 M341.53,125.84 L337.73,129.64" stroke="#231f20" stroke-width="1.1"/>
<path d="M435.58,121.63 L439.38,125.43 M439.38,121.63 L435.58,125.43" stroke="#231f20" stroke-width="1.1"/>
<circle cx="274.40" cy="157.40" r="2.0" fill="#fff" stroke="#231f20" stroke-width="0.7"/>
<circle cx="275.76" cy="157.40" r="2.0" fill="#fff" stroke="#231f20" stroke-width="0.7"/>
<circle cx="277.12" cy="157.15" r="2.0" fill="#fff" stroke="#231f20" stroke-width="0.7"/>
<circle cx="279.84" cy="156.91" r="2.0" fill="#fff" stroke="#231f20" stroke-width="0.7"/>
<circle cx="282.55" cy="156.66" r="2.0" fill="#fff" stroke="#231f20" stroke-width="0.7"/>
<circle cx="290.71" cy="156.41" r="2.0" fill="#fff" stroke="#231f20" stroke-width="0.7"/>
<circle cx="307.02" cy="155.92" r="2.0" fill="#fff" stroke="#231f20" stroke-width="0.7"/>
<circle cx="339.63" cy="155.42" r="2.0" fill="#fff" stroke="#231f20" stroke-width="0.7"/>
<circle cx="437.48" cy="155.42" r="2.0" fill="#fff" stroke="#231f20" stroke-width="0.7"/>
<circle cx="274.40" cy="157.40" r="2.25" fill="#000"/>
<circle cx="275.76" cy="140.10" r="2.25" fill="#000"/>
<circle cx="277.12" cy="136.39" r="2.25" fill="#000"/>
<circle cx="279.84" cy="126.50" r="2.25" fill="#000"/>
<circle cx="282.55" cy="119.08" r="2.25" fill="#000"/>
<circle cx="290.71" cy="99.31" r="2.25" fill="#000"/>
<circle cx="307.02" cy="76.32" r="2.25" fill="#000"/>
<circle cx="339.63" cy="58.52" r="2.25" fill="#000"/>
<circle cx="437.48" cy="41.22" r="2.25" fill="#000"/>
<path d="M274.40,154.85 L276.95,157.40 L274.40,159.95 L271.85,157.40Z" fill="#fff" stroke="#231f20" stroke-width="0.7"/>
<path d="M275.76,154.60 L278.31,157.15 L275.76,159.70 L273.21,157.15Z" fill="#fff" stroke="#231f20" stroke-width="0.7"/>
<path d="M277.12,154.36 L279.67,156.91 L277.12,159.46 L274.57,156.91Z" fill="#fff" stroke="#231f20" stroke-width="0.7"/>
<path d="M279.84,154.11 L282.39,156.66 L279.84,159.21 L277.29,156.66Z" fill="#fff" stroke="#231f20" stroke-width="0.7"/>
<path d="M282.55,153.86 L285.10,156.41 L282.55,158.96 L280.00,156.41Z" fill="#fff" stroke="#231f20" stroke-width="0.7"/>
<path d="M290.71,153.61 L293.26,156.16 L290.71,158.71 L288.16,156.16Z" fill="#fff" stroke="#231f20" stroke-width="0.7"/>
<path d="M307.02,152.87 L309.57,155.42 L307.02,157.97 L304.47,155.42Z" fill="#fff" stroke="#231f20" stroke-width="0.7"/>
<path d="M339.63,151.14 L342.18,153.69 L339.63,156.24 L337.08,153.69Z" fill="#fff" stroke="#231f20" stroke-width="0.7"/>
<path d="M437.48,149.41 L440.03,151.96 L437.48,154.51 L434.93,151.96Z" fill="#fff" stroke="#231f20" stroke-width="0.7"/>
<text x="392.00" y="41.00" font-size="8.4" textLength="37.60" lengthAdjust="spacingAndGlyphs" stroke="#231f20" stroke-width="0.1">3,4-dh-Val</text>
<text x="419.00" y="72.00" font-size="8.4" textLength="10.50" lengthAdjust="spacingAndGlyphs" stroke="#231f20" stroke-width="0.1">Azi</text>
<text x="400.00" y="120.50" font-size="8.4" textLength="32.40" lengthAdjust="spacingAndGlyphs" stroke="#231f20" stroke-width="0.1">3-OH-Val</text>
<text x="415.00" y="150.00" font-size="8.4" textLength="16.60" lengthAdjust="spacingAndGlyphs" stroke="#231f20" stroke-width="0.1">MAA</text>
<text x="399.20" y="163.00" font-size="8.4" textLength="31.20" lengthAdjust="spacingAndGlyphs" stroke="#231f20" stroke-width="0.1">4-OH-Val</text>
<rect x="513.0" y="29.0" width="167.79999999999995" height="134.7" fill="none" stroke="#a7a9ac" stroke-width="1.3"/>
<path d="M509.80,157.40 L513.00,157.40" stroke="#aaa" stroke-width="0.8"/>
<text x="507.20" y="160.30" font-size="8.4" text-anchor="end" stroke="#231f20" stroke-width="0.1">0</text>
<path d="M509.80,132.80 L513.00,132.80" stroke="#aaa" stroke-width="0.8"/>
<text x="507.20" y="135.70" font-size="8.4" text-anchor="end" stroke="#231f20" stroke-width="0.1">10</text>
<path d="M509.80,108.20 L513.00,108.20" stroke="#aaa" stroke-width="0.8"/>
<text x="507.20" y="111.10" font-size="8.4" text-anchor="end" stroke="#231f20" stroke-width="0.1">20</text>
<path d="M509.80,83.60 L513.00,83.60" stroke="#aaa" stroke-width="0.8"/>
<text x="507.20" y="86.50" font-size="8.4" text-anchor="end" stroke="#231f20" stroke-width="0.1">30</text>
<path d="M509.80,59.00 L513.00,59.00" stroke="#aaa" stroke-width="0.8"/>
<text x="507.20" y="61.90" font-size="8.4" text-anchor="end" stroke="#231f20" stroke-width="0.1">40</text>
<path d="M509.80,34.40 L513.00,34.40" stroke="#aaa" stroke-width="0.8"/>
<text x="507.20" y="37.30" font-size="8.4" text-anchor="end" stroke="#231f20" stroke-width="0.1">50</text>
<path d="M520.50,163.70 L520.50,167.10" stroke="#6d6e70" stroke-width="0.8"/>
<text x="520.50" y="176.00" font-size="8.4" text-anchor="middle" stroke="#231f20" stroke-width="0.1">0</text>
<path d="M571.46,163.70 L571.46,167.10" stroke="#6d6e70" stroke-width="0.8"/>
<text x="571.46" y="176.00" font-size="8.4" text-anchor="middle" stroke="#231f20" stroke-width="0.1">200</text>
<path d="M622.42,163.70 L622.42,167.10" stroke="#6d6e70" stroke-width="0.8"/>
<text x="622.42" y="176.00" font-size="8.4" text-anchor="middle" stroke="#231f20" stroke-width="0.1">400</text>
<path d="M673.38,163.70 L673.38,167.10" stroke="#6d6e70" stroke-width="0.8"/>
<text x="673.38" y="176.00" font-size="8.4" text-anchor="middle" stroke="#231f20" stroke-width="0.1">600</text>

<text x="564.00" y="188.40" font-size="9.8" textLength="71.60" lengthAdjust="spacingAndGlyphs" stroke="#231f20" stroke-width="0.1">Reaction time (s)</text>
<text x="488.00" y="99.00" font-size="10.0" textLength="83.90" lengthAdjust="spacingAndGlyphs" text-anchor="middle" transform="rotate(-90 488.00 99.00)" stroke="#231f20" stroke-width="0.1">Concentration (µM)</text>
<circle cx="521.90" cy="36.90" r="1.9" fill="#fff" stroke="#231f20" stroke-width="0.7"/>
<text x="528.90" y="39.50" font-size="7.6" textLength="33.40" lengthAdjust="spacingAndGlyphs" stroke="#231f20" stroke-width="0.1">4-OH-Val</text>
<path d="M520.10,43.00 L523.70,46.60 M523.70,43.00 L520.10,46.60" stroke="#231f20" stroke-width="1.1"/>
<text x="528.90" y="47.10" font-size="7.6" textLength="33.60" lengthAdjust="spacingAndGlyphs" stroke="#231f20" stroke-width="0.1">3-OH-Val</text>
<rect x="519.95" y="50.35" width="3.9" height="3.9" fill="#fff" stroke="#231f20" stroke-width="0.7"/>
<text x="528.90" y="54.70" font-size="7.6" textLength="11.40" lengthAdjust="spacingAndGlyphs" stroke="#231f20" stroke-width="0.1">Azi</text>
<circle cx="521.90" cy="59.80" r="2.1" fill="#000"/>
<text x="528.90" y="62.30" font-size="7.6" textLength="38.20" lengthAdjust="spacingAndGlyphs" stroke="#231f20" stroke-width="0.1">3,4-dh-Val</text>
<path d="M521.90,65.00 L524.30,67.40 L521.90,69.80 L519.50,67.40Z" fill="#fff" stroke="#231f20" stroke-width="0.7"/>
<text x="528.90" y="69.90" font-size="7.6" textLength="17.00" lengthAdjust="spacingAndGlyphs" stroke="#231f20" stroke-width="0.1">MAA</text>
<path d="M520.50,157.40 L521.01,156.74 L521.52,156.08 L522.03,155.42 L522.54,154.77 L523.05,154.12 L523.56,153.48 L524.07,152.84 L524.58,152.20 L525.09,151.57 L525.60,150.93 L526.11,150.31 L526.62,149.68 L527.12,149.06 L527.63,148.44 L528.14,147.83 L528.65,147.22 L529.16,146.61 L529.67,146.01 L530.18,145.41 L530.69,144.81 L531.20,144.21 L531.71,143.62 L532.22,143.03 L532.73,142.45 L533.24,141.87 L533.75,141.29 L534.26,140.71 L534.77,140.14 L535.28,139.57 L535.79,139.00 L536.30,138.44 L536.81,137.88 L537.32,137.32 L537.83,136.77 L538.34,136.22 L538.85,135.67 L539.36,135.12 L539.86,134.58 L540.37,134.04 L540.88,133.51 L541.39,132.97 L541.90,132.44 L542.41,131.91 L542.92,131.39 L543.43,130.87 L543.94,130.35 L544.45,129.83 L544.96,129.32 L545.47,128.80 L545.98,128.30 L546.49,127.79 L547.00,127.29 L547.51,126.79 L548.02,126.29 L548.53,125.79 L549.04,125.30 L549.55,124.81 L550.06,124.33 L550.57,123.84 L551.08,123.36 L551.59,122.88 L552.10,122.40 L552.60,121.93 L553.11,121.46 L553.62,120.99 L554.13,120.52 L554.64,120.06 L555.15,119.60 L555.66,119.14 L556.17,118.68 L556.68,118.23 L557.19,117.78 L557.70,117.33 L558.21,116.88 L558.72,116.44 L559.23,116.00 L559.74,115.56 L560.25,115.12 L560.76,114.69 L561.27,114.25 L561.78,113.82 L562.29,113.39 L562.80,112.97 L563.31,112.55 L563.82,112.13 L564.33,111.71 L564.84,111.29 L565.34,110.88 L565.85,110.46 L566.36,110.06 L566.87,109.65 L567.38,109.24 L567.89,108.84 L568.40,108.44 L568.91,108.04 L569.42,107.64 L569.93,107.25 L570.44,106.86 L570.95,106.47 L571.46,106.08 L571.97,105.69 L572.48,105.31 L572.99,104.93 L573.50,104.55 L574.01,104.17 L574.52,103.79 L575.03,103.42 L575.54,103.05 L576.05,102.68 L576.56,102.31 L577.07,101.94 L577.58,101.58 L578.08,101.22 L578.59,100.86 L579.10,100.50 L579.61,100.15 L580.12,99.79 L580.63,99.44 L581.14,99.09 L581.65,98.74 L582.16,98.39 L582.67,98.05 L583.18,97.71 L583.69,97.37 L584.20,97.03 L584.71,96.69 L585.22,96.35 L585.73,96.02 L586.24,95.69 L586.75,95.36 L587.26,95.03 L587.77,94.70 L588.28,94.38 L588.79,94.06 L589.30,93.73 L589.81,93.41 L590.32,93.10 L590.82,92.78 L591.33,92.47 L591.84,92.15 L592.35,91.84 L592.86,91.53 L593.37,91.23 L593.88,90.92 L594.39,90.62 L594.90,90.31 L595.41,90.01 L595.92,89.71 L596.43,89.41 L596.94,89.12 L597.45,88.82 L597.96,88.53 L598.47,88.24 L598.98,87.95 L599.49,87.66 L600.00,87.37 L600.51,87.09 L601.02,86.80 L601.53,86.52 L602.04,86.24 L602.55,85.96 L603.06,85.68 L603.56,85.41 L604.07,85.13 L604.58,84.86 L605.09,84.59 L605.60,84.32 L606.11,84.05 L606.62,83.78 L607.13,83.52 L607.64,83.25 L608.15,82.99 L608.66,82.73 L609.17,82.47 L609.68,82.21 L610.19,81.95 L610.70,81.69 L611.21,81.44 L611.72,81.19 L612.23,80.93 L612.74,80.68 L613.25,80.43 L613.76,80.19 L614.27,79.94 L614.78,79.69 L615.29,79.45 L615.80,79.21 L616.30,78.97 L616.81,78.73 L617.32,78.49 L617.83,78.25 L618.34,78.01 L618.85,77.78 L619.36,77.55 L619.87,77.31 L620.38,77.08 L620.89,76.85 L621.40,76.62 L621.91,76.40 L622.42,76.17 L622.93,75.95 L623.44,75.72 L623.95,75.50 L624.46,75.28 L624.97,75.06 L625.48,74.84 L625.99,74.62 L626.50,74.40 L627.01,74.19 L627.52,73.97 L628.03,73.76 L628.54,73.55 L629.04,73.34 L629.55,73.13 L630.06,72.92 L630.57,72.71 L631.08,72.51 L631.59,72.30 L632.10,72.10 L632.61,71.89 L633.12,71.69 L633.63,71.49 L634.14,71.29 L634.65,71.09 L635.16,70.90 L635.67,70.70 L636.18,70.50 L636.69,70.31 L637.20,70.12 L637.71,69.92 L638.22,69.73 L638.73,69.54 L639.24,69.35 L639.75,69.16 L640.26,68.98 L640.77,68.79 L641.28,68.61 L641.78,68.42 L642.29,68.24 L642.80,68.06 L643.31,67.87 L643.82,67.69 L644.33,67.51 L644.84,67.34 L645.35,67.16 L645.86,66.98 L646.37,66.81 L646.88,66.63 L647.39,66.46 L647.90,66.29 L648.41,66.11 L648.92,65.94 L649.43,65.77 L649.94,65.61 L650.45,65.44 L650.96,65.27 L651.47,65.10 L651.98,64.94 L652.49,64.77 L653.00,64.61 L653.51,64.45 L654.02,64.29 L654.52,64.12 L655.03,63.96 L655.54,63.81 L656.05,63.65 L656.56,63.49 L657.07,63.33 L657.58,63.18 L658.09,63.02 L658.60,62.87 L659.11,62.71 L659.62,62.56 L660.13,62.41 L660.64,62.26 L661.15,62.11 L661.66,61.96 L662.17,61.81 L662.68,61.66 L663.19,61.52 L663.70,61.37 L664.21,61.23 L664.72,61.08 L665.23,60.94 L665.74,60.80 L666.25,60.65 L666.76,60.51 L667.26,60.37 L667.77,60.23 L668.28,60.09 L668.79,59.95 L669.30,59.82 L669.81,59.68 L670.32,59.54 L670.83,59.41 L671.34,59.27 L671.85,59.14 L672.36,59.01 L672.87,58.87 L673.38,58.74" fill="none" stroke="#6d6e70" stroke-width="0.8"/>
<path d="M520.50,157.40 L521.01,156.72 L521.52,156.05 L522.03,155.37 L522.54,154.71 L523.05,154.05 L523.56,153.39 L524.07,152.74 L524.58,152.09 L525.09,151.44 L525.60,150.80 L526.11,150.16 L526.62,149.53 L527.12,148.90 L527.63,148.28 L528.14,147.66 L528.65,147.05 L529.16,146.43 L529.67,145.83 L530.18,145.22 L530.69,144.62 L531.20,144.03 L531.71,143.44 L532.22,142.85 L532.73,142.26 L533.24,141.68 L533.75,141.11 L534.26,140.54 L534.77,139.97 L535.28,139.40 L535.79,138.84 L536.30,138.28 L536.81,137.73 L537.32,137.18 L537.83,136.63 L538.34,136.09 L538.85,135.55 L539.36,135.01 L539.86,134.48 L540.37,133.95 L540.88,133.43 L541.39,132.91 L541.90,132.39 L542.41,131.87 L542.92,131.36 L543.43,130.85 L543.94,130.35 L544.45,129.84 L544.96,129.35 L545.47,128.85 L545.98,128.36 L546.49,127.87 L547.00,127.39 L547.51,126.90 L548.02,126.42 L548.53,125.95 L549.04,125.48 L549.55,125.01 L550.06,124.54 L550.57,124.08 L551.08,123.62 L551.59,123.16 L552.10,122.70 L552.60,122.25 L553.11,121.80 L553.62,121.36 L554.13,120.92 L554.64,120.48 L555.15,120.04 L555.66,119.60 L556.17,119.17 L556.68,118.75 L557.19,118.32 L557.70,117.90 L558.21,117.48 L558.72,117.06 L559.23,116.65 L559.74,116.23 L560.25,115.83 L560.76,115.42 L561.27,115.02 L561.78,114.62 L562.29,114.22 L562.80,113.82 L563.31,113.43 L563.82,113.04 L564.33,112.65 L564.84,112.27 L565.34,111.88 L565.85,111.50 L566.36,111.12 L566.87,110.75 L567.38,110.38 L567.89,110.01 L568.40,109.64 L568.91,109.27 L569.42,108.91 L569.93,108.55 L570.44,108.19 L570.95,107.83 L571.46,107.48 L571.97,107.13 L572.48,106.78 L572.99,106.43 L573.50,106.09 L574.01,105.75 L574.52,105.41 L575.03,105.07 L575.54,104.73 L576.05,104.40 L576.56,104.07 L577.07,103.74 L577.58,103.41 L578.08,103.09 L578.59,102.77 L579.10,102.45 L579.61,102.13 L580.12,101.81 L580.63,101.50 L581.14,101.19 L581.65,100.88 L582.16,100.57 L582.67,100.26 L583.18,99.96 L583.69,99.66 L584.20,99.36 L584.71,99.06 L585.22,98.76 L585.73,98.47 L586.24,98.18 L586.75,97.89 L587.26,97.60 L587.77,97.31 L588.28,97.03 L588.79,96.75 L589.30,96.47 L589.81,96.19 L590.32,95.91 L590.82,95.64 L591.33,95.36 L591.84,95.09 L592.35,94.82 L592.86,94.55 L593.37,94.29 L593.88,94.02 L594.39,93.76 L594.90,93.50 L595.41,93.24 L595.92,92.98 L596.43,92.73 L596.94,92.47 L597.45,92.22 L597.96,91.97 L598.47,91.72 L598.98,91.47 L599.49,91.23 L600.00,90.98 L600.51,90.74 L601.02,90.50 L601.53,90.26 L602.04,90.02 L602.55,89.78 L603.06,89.55 L603.56,89.31 L604.07,89.08 L604.58,88.85 L605.09,88.62 L605.60,88.40 L606.11,88.17 L606.62,87.95 L607.13,87.72 L607.64,87.50 L608.15,87.28 L608.66,87.06 L609.17,86.85 L609.68,86.63 L610.19,86.42 L610.70,86.20 L611.21,85.99 L611.72,85.78 L612.23,85.58 L612.74,85.37 L613.25,85.16 L613.76,84.96 L614.27,84.75 L614.78,84.55 L615.29,84.35 L615.80,84.15 L616.30,83.96 L616.81,83.76 L617.32,83.56 L617.83,83.37 L618.34,83.18 L618.85,82.99 L619.36,82.80 L619.87,82.61 L620.38,82.42 L620.89,82.23 L621.40,82.05 L621.91,81.86 L622.42,81.68 L622.93,81.50 L623.44,81.32 L623.95,81.14 L624.46,80.96 L624.97,80.78 L625.48,80.61 L625.99,80.43 L626.50,80.26 L627.01,80.09 L627.52,79.92 L628.03,79.75 L628.54,79.58 L629.04,79.41 L629.55,79.24 L630.06,79.08 L630.57,78.91 L631.08,78.75 L631.59,78.59 L632.10,78.43 L632.61,78.27 L633.12,78.11 L633.63,77.95 L634.14,77.79 L634.65,77.64 L635.16,77.48 L635.67,77.33 L636.18,77.18 L636.69,77.02 L637.20,76.87 L637.71,76.72 L638.22,76.57 L638.73,76.43 L639.24,76.28 L639.75,76.13 L640.26,75.99 L640.77,75.84 L641.28,75.70 L641.78,75.56 L642.29,75.42 L642.80,75.28 L643.31,75.14 L643.82,75.00 L644.33,74.86 L644.84,74.72 L645.35,74.59 L645.86,74.45 L646.37,74.32 L646.88,74.19 L647.39,74.05 L647.90,73.92 L648.41,73.79 L648.92,73.66 L649.43,73.53 L649.94,73.41 L650.45,73.28 L650.96,73.15 L651.47,73.03 L651.98,72.90 L652.49,72.78 L653.00,72.66 L653.51,72.53 L654.02,72.41 L654.52,72.29 L655.03,72.17 L655.54,72.05 L656.05,71.93 L656.56,71.82 L657.07,71.70 L657.58,71.58 L658.09,71.47 L658.60,71.35 L659.11,71.24 L659.62,71.13 L660.13,71.02 L660.64,70.90 L661.15,70.79 L661.66,70.68 L662.17,70.57 L662.68,70.47 L663.19,70.36 L663.70,70.25 L664.21,70.14 L664.72,70.04 L665.23,69.93 L665.74,69.83 L666.25,69.73 L666.76,69.62 L667.26,69.52 L667.77,69.42 L668.28,69.32 L668.79,69.22 L669.30,69.12 L669.81,69.02 L670.32,68.92 L670.83,68.82 L671.34,68.73 L671.85,68.63 L672.36,68.53 L672.87,68.44 L673.38,68.35" fill="none" stroke="#6d6e70" stroke-width="0.8"/>
<path d="M520.50,157.40 L521.01,157.13 L521.52,156.86 L522.03,156.59 L522.54,156.32 L523.05,156.06 L523.56,155.79 L524.07,155.53 L524.58,155.27 L525.09,155.01 L525.60,154.75 L526.11,154.49 L526.62,154.23 L527.12,153.97 L527.63,153.72 L528.14,153.46 L528.65,153.21 L529.16,152.96 L529.67,152.71 L530.18,152.46 L530.69,152.21 L531.20,151.96 L531.71,151.72 L532.22,151.47 L532.73,151.23 L533.24,150.99 L533.75,150.74 L534.26,150.50 L534.77,150.27 L535.28,150.03 L535.79,149.79 L536.30,149.55 L536.81,149.32 L537.32,149.08 L537.83,148.85 L538.34,148.62 L538.85,148.39 L539.36,148.16 L539.86,147.93 L540.37,147.70 L540.88,147.48 L541.39,147.25 L541.90,147.03 L542.41,146.80 L542.92,146.58 L543.43,146.36 L543.94,146.14 L544.45,145.92 L544.96,145.70 L545.47,145.49 L545.98,145.27 L546.49,145.05 L547.00,144.84 L547.51,144.63 L548.02,144.41 L548.53,144.20 L549.04,143.99 L549.55,143.78 L550.06,143.57 L550.57,143.37 L551.08,143.16 L551.59,142.95 L552.10,142.75 L552.60,142.55 L553.11,142.34 L553.62,142.14 L554.13,141.94 L554.64,141.74 L555.15,141.54 L555.66,141.34 L556.17,141.15 L556.68,140.95 L557.19,140.75 L557.70,140.56 L558.21,140.37 L558.72,140.17 L559.23,139.98 L559.74,139.79 L560.25,139.60 L560.76,139.41 L561.27,139.22 L561.78,139.04 L562.29,138.85 L562.80,138.66 L563.31,138.48 L563.82,138.29 L564.33,138.11 L564.84,137.93 L565.34,137.75 L565.85,137.57 L566.36,137.39 L566.87,137.21 L567.38,137.03 L567.89,136.85 L568.40,136.67 L568.91,136.50 L569.42,136.32 L569.93,136.15 L570.44,135.98 L570.95,135.80 L571.46,135.63 L571.97,135.46 L572.48,135.29 L572.99,135.12 L573.50,134.95 L574.01,134.78 L574.52,134.62 L575.03,134.45 L575.54,134.28 L576.05,134.12 L576.56,133.96 L577.07,133.79 L577.58,133.63 L578.08,133.47 L578.59,133.31 L579.10,133.15 L579.61,132.99 L580.12,132.83 L580.63,132.67 L581.14,132.51 L581.65,132.36 L582.16,132.20 L582.67,132.04 L583.18,131.89 L583.69,131.74 L584.20,131.58 L584.71,131.43 L585.22,131.28 L585.73,131.13 L586.24,130.98 L586.75,130.83 L587.26,130.68 L587.77,130.53 L588.28,130.38 L588.79,130.23 L589.30,130.09 L589.81,129.94 L590.32,129.80 L590.82,129.65 L591.33,129.51 L591.84,129.37 L592.35,129.22 L592.86,129.08 L593.37,128.94 L593.88,128.80 L594.39,128.66 L594.90,128.52 L595.41,128.38 L595.92,128.25 L596.43,128.11 L596.94,127.97 L597.45,127.84 L597.96,127.70 L598.47,127.57 L598.98,127.43 L599.49,127.30 L600.00,127.17 L600.51,127.03 L601.02,126.90 L601.53,126.77 L602.04,126.64 L602.55,126.51 L603.06,126.38 L603.56,126.25 L604.07,126.13 L604.58,126.00 L605.09,125.87 L605.60,125.75 L606.11,125.62 L606.62,125.49 L607.13,125.37 L607.64,125.25 L608.15,125.12 L608.66,125.00 L609.17,124.88 L609.68,124.76 L610.19,124.63 L610.70,124.51 L611.21,124.39 L611.72,124.27 L612.23,124.16 L612.74,124.04 L613.25,123.92 L613.76,123.80 L614.27,123.69 L614.78,123.57 L615.29,123.45 L615.80,123.34 L616.30,123.22 L616.81,123.11 L617.32,123.00 L617.83,122.88 L618.34,122.77 L618.85,122.66 L619.36,122.55 L619.87,122.44 L620.38,122.33 L620.89,122.22 L621.40,122.11 L621.91,122.00 L622.42,121.89 L622.93,121.78 L623.44,121.67 L623.95,121.57 L624.46,121.46 L624.97,121.35 L625.48,121.25 L625.99,121.14 L626.50,121.04 L627.01,120.93 L627.52,120.83 L628.03,120.73 L628.54,120.62 L629.04,120.52 L629.55,120.42 L630.06,120.32 L630.57,120.22 L631.08,120.12 L631.59,120.02 L632.10,119.92 L632.61,119.82 L633.12,119.72 L633.63,119.62 L634.14,119.53 L634.65,119.43 L635.16,119.33 L635.67,119.24 L636.18,119.14 L636.69,119.05 L637.20,118.95 L637.71,118.86 L638.22,118.76 L638.73,118.67 L639.24,118.57 L639.75,118.48 L640.26,118.39 L640.77,118.30 L641.28,118.21 L641.78,118.12 L642.29,118.02 L642.80,117.93 L643.31,117.84 L643.82,117.75 L644.33,117.67 L644.84,117.58 L645.35,117.49 L645.86,117.40 L646.37,117.31 L646.88,117.23 L647.39,117.14 L647.90,117.05 L648.41,116.97 L648.92,116.88 L649.43,116.80 L649.94,116.71 L650.45,116.63 L650.96,116.55 L651.47,116.46 L651.98,116.38 L652.49,116.30 L653.00,116.21 L653.51,116.13 L654.02,116.05 L654.52,115.97 L655.03,115.89 L655.54,115.81 L656.05,115.73 L656.56,115.65 L657.07,115.57 L657.58,115.49 L658.09,115.41 L658.60,115.33 L659.11,115.25 L659.62,115.18 L660.13,115.10 L660.64,115.02 L661.15,114.95 L661.66,114.87 L662.17,114.80 L662.68,114.72 L663.19,114.64 L663.70,114.57 L664.21,114.50 L664.72,114.42 L665.23,114.35 L665.74,114.27 L666.25,114.20 L666.76,114.13 L667.26,114.06 L667.77,113.98 L668.28,113.91 L668.79,113.84 L669.30,113.77 L669.81,113.70 L670.32,113.63 L670.83,113.56 L671.34,113.49 L671.85,113.42 L672.36,113.35 L672.87,113.28 L673.38,113.21" fill="none" stroke="#6d6e70" stroke-width="0.8"/>
<path d="M520.50,157.40 L521.01,157.26 L521.52,157.13 L522.03,157.00 L522.54,156.86 L523.05,156.73 L523.56,156.60 L524.07,156.46 L524.58,156.33 L525.09,156.20 L525.60,156.07 L526.11,155.94 L526.62,155.81 L527.12,155.69 L527.63,155.56 L528.14,155.43 L528.65,155.31 L529.16,155.18 L529.67,155.05 L530.18,154.93 L530.69,154.81 L531.20,154.68 L531.71,154.56 L532.22,154.44 L532.73,154.31 L533.24,154.19 L533.75,154.07 L534.26,153.95 L534.77,153.83 L535.28,153.71 L535.79,153.59 L536.30,153.48 L536.81,153.36 L537.32,153.24 L537.83,153.13 L538.34,153.01 L538.85,152.89 L539.36,152.78 L539.86,152.67 L540.37,152.55 L540.88,152.44 L541.39,152.33 L541.90,152.21 L542.41,152.10 L542.92,151.99 L543.43,151.88 L543.94,151.77 L544.45,151.66 L544.96,151.55 L545.47,151.44 L545.98,151.33 L546.49,151.23 L547.00,151.12 L547.51,151.01 L548.02,150.91 L548.53,150.80 L549.04,150.70 L549.55,150.59 L550.06,150.49 L550.57,150.38 L551.08,150.28 L551.59,150.18 L552.10,150.08 L552.60,149.97 L553.11,149.87 L553.62,149.77 L554.13,149.67 L554.64,149.57 L555.15,149.47 L555.66,149.37 L556.17,149.27 L556.68,149.17 L557.19,149.08 L557.70,148.98 L558.21,148.88 L558.72,148.79 L559.23,148.69 L559.74,148.60 L560.25,148.50 L560.76,148.41 L561.27,148.31 L561.78,148.22 L562.29,148.12 L562.80,148.03 L563.31,147.94 L563.82,147.85 L564.33,147.76 L564.84,147.66 L565.34,147.57 L565.85,147.48 L566.36,147.39 L566.87,147.30 L567.38,147.21 L567.89,147.13 L568.40,147.04 L568.91,146.95 L569.42,146.86 L569.93,146.77 L570.44,146.69 L570.95,146.60 L571.46,146.52 L571.97,146.43 L572.48,146.34 L572.99,146.26 L573.50,146.18 L574.01,146.09 L574.52,146.01 L575.03,145.92 L575.54,145.84 L576.05,145.76 L576.56,145.68 L577.07,145.60 L577.58,145.51 L578.08,145.43 L578.59,145.35 L579.10,145.27 L579.61,145.19 L580.12,145.11 L580.63,145.03 L581.14,144.96 L581.65,144.88 L582.16,144.80 L582.67,144.72 L583.18,144.64 L583.69,144.57 L584.20,144.49 L584.71,144.41 L585.22,144.34 L585.73,144.26 L586.24,144.19 L586.75,144.11 L587.26,144.04 L587.77,143.96 L588.28,143.89 L588.79,143.82 L589.30,143.74 L589.81,143.67 L590.32,143.60 L590.82,143.53 L591.33,143.46 L591.84,143.38 L592.35,143.31 L592.86,143.24 L593.37,143.17 L593.88,143.10 L594.39,143.03 L594.90,142.96 L595.41,142.89 L595.92,142.82 L596.43,142.75 L596.94,142.69 L597.45,142.62 L597.96,142.55 L598.47,142.48 L598.98,142.42 L599.49,142.35 L600.00,142.28 L600.51,142.22 L601.02,142.15 L601.53,142.09 L602.04,142.02 L602.55,141.96 L603.06,141.89 L603.56,141.83 L604.07,141.76 L604.58,141.70 L605.09,141.64 L605.60,141.57 L606.11,141.51 L606.62,141.45 L607.13,141.39 L607.64,141.32 L608.15,141.26 L608.66,141.20 L609.17,141.14 L609.68,141.08 L610.19,141.02 L610.70,140.96 L611.21,140.90 L611.72,140.84 L612.23,140.78 L612.74,140.72 L613.25,140.66 L613.76,140.60 L614.27,140.54 L614.78,140.48 L615.29,140.43 L615.80,140.37 L616.30,140.31 L616.81,140.25 L617.32,140.20 L617.83,140.14 L618.34,140.09 L618.85,140.03 L619.36,139.97 L619.87,139.92 L620.38,139.86 L620.89,139.81 L621.40,139.75 L621.91,139.70 L622.42,139.64 L622.93,139.59 L623.44,139.54 L623.95,139.48 L624.46,139.43 L624.97,139.38 L625.48,139.32 L625.99,139.27 L626.50,139.22 L627.01,139.17 L627.52,139.12 L628.03,139.06 L628.54,139.01 L629.04,138.96 L629.55,138.91 L630.06,138.86 L630.57,138.81 L631.08,138.76 L631.59,138.71 L632.10,138.66 L632.61,138.61 L633.12,138.56 L633.63,138.51 L634.14,138.46 L634.65,138.41 L635.16,138.37 L635.67,138.32 L636.18,138.27 L636.69,138.22 L637.20,138.18 L637.71,138.13 L638.22,138.08 L638.73,138.03 L639.24,137.99 L639.75,137.94 L640.26,137.89 L640.77,137.85 L641.28,137.80 L641.78,137.76 L642.29,137.71 L642.80,137.67 L643.31,137.62 L643.82,137.58 L644.33,137.53 L644.84,137.49 L645.35,137.44 L645.86,137.40 L646.37,137.36 L646.88,137.31 L647.39,137.27 L647.90,137.23 L648.41,137.18 L648.92,137.14 L649.43,137.10 L649.94,137.06 L650.45,137.01 L650.96,136.97 L651.47,136.93 L651.98,136.89 L652.49,136.85 L653.00,136.81 L653.51,136.77 L654.02,136.73 L654.52,136.68 L655.03,136.64 L655.54,136.60 L656.05,136.56 L656.56,136.52 L657.07,136.48 L657.58,136.44 L658.09,136.41 L658.60,136.37 L659.11,136.33 L659.62,136.29 L660.13,136.25 L660.64,136.21 L661.15,136.17 L661.66,136.14 L662.17,136.10 L662.68,136.06 L663.19,136.02 L663.70,135.98 L664.21,135.95 L664.72,135.91 L665.23,135.87 L665.74,135.84 L666.25,135.80 L666.76,135.76 L667.26,135.73 L667.77,135.69 L668.28,135.66 L668.79,135.62 L669.30,135.58 L669.81,135.55 L670.32,135.51 L670.83,135.48 L671.34,135.44 L671.85,135.41 L672.36,135.38 L672.87,135.34 L673.38,135.31" fill="none" stroke="#6d6e70" stroke-width="0.8"/>
<path d="M520.50,157.40 L521.01,157.39 L521.52,157.38 L522.03,157.37 L522.54,157.36 L523.05,157.35 L523.56,157.34 L524.07,157.33 L524.58,157.32 L525.09,157.31 L525.60,157.31 L526.11,157.30 L526.62,157.29 L527.12,157.28 L527.63,157.27 L528.14,157.26 L528.65,157.25 L529.16,157.24 L529.67,157.23 L530.18,157.22 L530.69,157.21 L531.20,157.20 L531.71,157.19 L532.22,157.19 L532.73,157.18 L533.24,157.17 L533.75,157.16 L534.26,157.15 L534.77,157.14 L535.28,157.13 L535.79,157.12 L536.30,157.11 L536.81,157.11 L537.32,157.10 L537.83,157.09 L538.34,157.08 L538.85,157.07 L539.36,157.06 L539.86,157.05 L540.37,157.04 L540.88,157.04 L541.39,157.03 L541.90,157.02 L542.41,157.01 L542.92,157.00 L543.43,156.99 L543.94,156.98 L544.45,156.98 L544.96,156.97 L545.47,156.96 L545.98,156.95 L546.49,156.94 L547.00,156.93 L547.51,156.92 L548.02,156.92 L548.53,156.91 L549.04,156.90 L549.55,156.89 L550.06,156.88 L550.57,156.88 L551.08,156.87 L551.59,156.86 L552.10,156.85 L552.60,156.84 L553.11,156.83 L553.62,156.83 L554.13,156.82 L554.64,156.81 L555.15,156.80 L555.66,156.79 L556.17,156.79 L556.68,156.78 L557.19,156.77 L557.70,156.76 L558.21,156.75 L558.72,156.75 L559.23,156.74 L559.74,156.73 L560.25,156.72 L560.76,156.71 L561.27,156.71 L561.78,156.70 L562.29,156.69 L562.80,156.68 L563.31,156.68 L563.82,156.67 L564.33,156.66 L564.84,156.65 L565.34,156.65 L565.85,156.64 L566.36,156.63 L566.87,156.62 L567.38,156.61 L567.89,156.61 L568.40,156.60 L568.91,156.59 L569.42,156.58 L569.93,156.58 L570.44,156.57 L570.95,156.56 L571.46,156.56 L571.97,156.55 L572.48,156.54 L572.99,156.53 L573.50,156.53 L574.01,156.52 L574.52,156.51 L575.03,156.50 L575.54,156.50 L576.05,156.49 L576.56,156.48 L577.07,156.47 L577.58,156.47 L578.08,156.46 L578.59,156.45 L579.10,156.45 L579.61,156.44 L580.12,156.43 L580.63,156.43 L581.14,156.42 L581.65,156.41 L582.16,156.40 L582.67,156.40 L583.18,156.39 L583.69,156.38 L584.20,156.38 L584.71,156.37 L585.22,156.36 L585.73,156.36 L586.24,156.35 L586.75,156.34 L587.26,156.33 L587.77,156.33 L588.28,156.32 L588.79,156.31 L589.30,156.31 L589.81,156.30 L590.32,156.29 L590.82,156.29 L591.33,156.28 L591.84,156.27 L592.35,156.27 L592.86,156.26 L593.37,156.25 L593.88,156.25 L594.39,156.24 L594.90,156.23 L595.41,156.23 L595.92,156.22 L596.43,156.21 L596.94,156.21 L597.45,156.20 L597.96,156.20 L598.47,156.19 L598.98,156.18 L599.49,156.18 L600.00,156.17 L600.51,156.16 L601.02,156.16 L601.53,156.15 L602.04,156.14 L602.55,156.14 L603.06,156.13 L603.56,156.13 L604.07,156.12 L604.58,156.11 L605.09,156.11 L605.60,156.10 L606.11,156.09 L606.62,156.09 L607.13,156.08 L607.64,156.08 L608.15,156.07 L608.66,156.06 L609.17,156.06 L609.68,156.05 L610.19,156.05 L610.70,156.04 L611.21,156.03 L611.72,156.03 L612.23,156.02 L612.74,156.01 L613.25,156.01 L613.76,156.00 L614.27,156.00 L614.78,155.99 L615.29,155.99 L615.80,155.98 L616.30,155.97 L616.81,155.97 L617.32,155.96 L617.83,155.96 L618.34,155.95 L618.85,155.94 L619.36,155.94 L619.87,155.93 L620.38,155.93 L620.89,155.92 L621.40,155.92 L621.91,155.91 L622.42,155.90 L622.93,155.90 L623.44,155.89 L623.95,155.89 L624.46,155.88 L624.97,155.88 L625.48,155.87 L625.99,155.86 L626.50,155.86 L627.01,155.85 L627.52,155.85 L628.03,155.84 L628.54,155.84 L629.04,155.83 L629.55,155.83 L630.06,155.82 L630.57,155.81 L631.08,155.81 L631.59,155.80 L632.10,155.80 L632.61,155.79 L633.12,155.79 L633.63,155.78 L634.14,155.78 L634.65,155.77 L635.16,155.77 L635.67,155.76 L636.18,155.76 L636.69,155.75 L637.20,155.74 L637.71,155.74 L638.22,155.73 L638.73,155.73 L639.24,155.72 L639.75,155.72 L640.26,155.71 L640.77,155.71 L641.28,155.70 L641.78,155.70 L642.29,155.69 L642.80,155.69 L643.31,155.68 L643.82,155.68 L644.33,155.67 L644.84,155.67 L645.35,155.66 L645.86,155.66 L646.37,155.65 L646.88,155.65 L647.39,155.64 L647.90,155.64 L648.41,155.63 L648.92,155.63 L649.43,155.62 L649.94,155.62 L650.45,155.61 L650.96,155.61 L651.47,155.60 L651.98,155.60 L652.49,155.59 L653.00,155.59 L653.51,155.58 L654.02,155.58 L654.52,155.57 L655.03,155.57 L655.54,155.56 L656.05,155.56 L656.56,155.55 L657.07,155.55 L657.58,155.54 L658.09,155.54 L658.60,155.53 L659.11,155.53 L659.62,155.52 L660.13,155.52 L660.64,155.52 L661.15,155.51 L661.66,155.51 L662.17,155.50 L662.68,155.50 L663.19,155.49 L663.70,155.49 L664.21,155.48 L664.72,155.48 L665.23,155.47 L665.74,155.47 L666.25,155.46 L666.76,155.46 L667.26,155.46 L667.77,155.45 L668.28,155.45 L668.79,155.44 L669.30,155.44 L669.81,155.43 L670.32,155.43 L670.83,155.42 L671.34,155.42 L671.85,155.41 L672.36,155.41 L672.87,155.41 L673.38,155.40" fill="none" stroke="#6d6e70" stroke-width="0.8"/>
<path d="M673.38,83.60 L673.38,35.63 M670.38,83.60 L676.38,83.60 M670.38,35.63 L676.38,35.63" stroke="#7d7d7d" stroke-width="0.75" fill="none"/>
<path d="M673.38,102.05 L673.38,66.38 M670.38,102.05 L676.38,102.05 M670.38,66.38 L676.38,66.38" stroke="#7d7d7d" stroke-width="0.75" fill="none"/>
<path d="M673.38,115.58 L673.38,110.66 M670.38,115.58 L676.38,115.58 M670.38,110.66 L676.38,110.66" stroke="#7d7d7d" stroke-width="0.75" fill="none"/>
<path d="M673.38,137.72 L673.38,131.57 M670.38,137.72 L676.38,137.72 M670.38,131.57 L676.38,131.57" stroke="#7d7d7d" stroke-width="0.75" fill="none"/>
<path d="M581.65,118.04 L581.65,78.68 M578.65,118.04 L584.65,118.04 M578.65,78.68 L584.65,78.68" stroke="#7d7d7d" stroke-width="0.75" fill="none"/>
<path d="M581.65,108.20 L581.65,90.98 M578.65,108.20 L584.65,108.20 M578.65,90.98 L584.65,90.98" stroke="#7d7d7d" stroke-width="0.75" fill="none"/>
<path d="M551.08,132.80 L551.08,100.82 M548.08,132.80 L554.08,132.80 M548.08,100.82 L554.08,100.82" stroke="#7d7d7d" stroke-width="0.75" fill="none"/>
<path d="M551.08,125.42 L551.08,113.12 M548.08,125.42 L554.08,125.42 M548.08,113.12 L554.08,113.12" stroke="#7d7d7d" stroke-width="0.75" fill="none"/>
<path d="M535.79,142.64 L535.79,130.34 M532.79,142.64 L538.79,142.64 M532.79,130.34 L538.79,130.34" stroke="#7d7d7d" stroke-width="0.75" fill="none"/>
<rect x="518.50" y="155.40" width="4.0" height="4.0" fill="#fff" stroke="#231f20" stroke-width="0.7"/>
<rect x="519.77" y="151.71" width="4.0" height="4.0" fill="#fff" stroke="#231f20" stroke-width="0.7"/>
<rect x="521.05" y="150.48" width="4.0" height="4.0" fill="#fff" stroke="#231f20" stroke-width="0.7"/>
<rect x="523.60" y="148.02" width="4.0" height="4.0" fill="#fff" stroke="#231f20" stroke-width="0.7"/>
<rect x="526.14" y="146.79" width="4.0" height="4.0" fill="#fff" stroke="#231f20" stroke-width="0.7"/>
<rect x="533.79" y="133.01" width="4.0" height="4.0" fill="#fff" stroke="#231f20" stroke-width="0.7"/>
<rect x="549.08" y="114.56" width="4.0" height="4.0" fill="#fff" stroke="#231f20" stroke-width="0.7"/>
<rect x="579.65" y="97.59" width="4.0" height="4.0" fill="#fff" stroke="#231f20" stroke-width="0.7"/>
<rect x="671.38" y="66.35" width="4.0" height="4.0" fill="#fff" stroke="#231f20" stroke-width="0.7"/>
<path d="M518.60,155.50 L522.40,159.30 M522.40,155.50 L518.60,159.30" stroke="#231f20" stroke-width="1.1"/>
<path d="M519.87,154.76 L523.67,158.56 M523.67,154.76 L519.87,158.56" stroke="#231f20" stroke-width="1.1"/>
<path d="M521.15,154.27 L524.95,158.07 M524.95,154.27 L521.15,158.07" stroke="#231f20" stroke-width="1.1"/>
<path d="M523.70,153.04 L527.50,156.84 M527.50,153.04 L523.70,156.84" stroke="#231f20" stroke-width="1.1"/>
<path d="M526.24,152.55 L530.04,156.35 M530.04,152.55 L526.24,156.35" stroke="#231f20" stroke-width="1.1"/>
<path d="M533.89,150.58 L537.69,154.38 M537.69,150.58 L533.89,154.38" stroke="#231f20" stroke-width="1.1"/>
<path d="M549.18,147.38 L552.98,151.18 M552.98,147.38 L549.18,151.18" stroke="#231f20" stroke-width="1.1"/>
<path d="M579.75,141.97 L583.55,145.77 M583.55,141.97 L579.75,145.77" stroke="#231f20" stroke-width="1.1"/>
<path d="M671.48,133.36 L675.28,137.16 M675.28,133.36 L671.48,137.16" stroke="#231f20" stroke-width="1.1"/>
<circle cx="520.50" cy="157.40" r="2.0" fill="#fff" stroke="#231f20" stroke-width="0.7"/>
<circle cx="521.77" cy="156.17" r="2.0" fill="#fff" stroke="#231f20" stroke-width="0.7"/>
<circle cx="523.05" cy="155.43" r="2.0" fill="#fff" stroke="#231f20" stroke-width="0.7"/>
<circle cx="525.60" cy="153.71" r="2.0" fill="#fff" stroke="#231f20" stroke-width="0.7"/>
<circle cx="528.14" cy="152.48" r="2.0" fill="#fff" stroke="#231f20" stroke-width="0.7"/>
<circle cx="535.79" cy="148.79" r="2.0" fill="#fff" stroke="#231f20" stroke-width="0.7"/>
<circle cx="551.08" cy="141.41" r="2.0" fill="#fff" stroke="#231f20" stroke-width="0.7"/>
<circle cx="581.65" cy="131.57" r="2.0" fill="#fff" stroke="#231f20" stroke-width="0.7"/>
<circle cx="673.38" cy="113.61" r="2.0" fill="#fff" stroke="#231f20" stroke-width="0.7"/>
<circle cx="520.50" cy="157.40" r="2.25" fill="#000"/>
<circle cx="521.77" cy="152.48" r="2.25" fill="#000"/>
<circle cx="523.05" cy="151.25" r="2.25" fill="#000"/>
<circle cx="525.60" cy="148.79" r="2.25" fill="#000"/>
<circle cx="528.14" cy="147.56" r="2.25" fill="#000"/>
<circle cx="535.79" cy="136.98" r="2.25" fill="#000"/>
<circle cx="551.08" cy="120.50" r="2.25" fill="#000"/>
<circle cx="581.65" cy="98.36" r="2.25" fill="#000"/>
<circle cx="673.38" cy="59.25" r="2.25" fill="#000"/>
<path d="M520.50,154.85 L523.05,157.40 L520.50,159.95 L517.95,157.40Z" fill="#fff" stroke="#231f20" stroke-width="0.7"/>
<path d="M521.77,154.85 L524.32,157.40 L521.77,159.95 L519.22,157.40Z" fill="#fff" stroke="#231f20" stroke-width="0.7"/>
<path d="M523.05,154.85 L525.60,157.40 L523.05,159.95 L520.50,157.40Z" fill="#fff" stroke="#231f20" stroke-width="0.7"/>
<path d="M525.60,154.85 L528.15,157.40 L525.60,159.95 L523.05,157.40Z" fill="#fff" stroke="#231f20" stroke-width="0.7"/>
<path d="M528.14,154.85 L530.69,157.40 L528.14,159.95 L525.59,157.40Z" fill="#fff" stroke="#231f20" stroke-width="0.7"/>
<path d="M535.79,154.60 L538.34,157.15 L535.79,159.70 L533.24,157.15Z" fill="#fff" stroke="#231f20" stroke-width="0.7"/>
<path d="M551.08,154.36 L553.63,156.91 L551.08,159.46 L548.53,156.91Z" fill="#fff" stroke="#231f20" stroke-width="0.7"/>
<path d="M581.65,154.11 L584.20,156.66 L581.65,159.21 L579.10,156.66Z" fill="#fff" stroke="#231f20" stroke-width="0.7"/>
<path d="M673.38,152.88 L675.93,155.43 L673.38,157.98 L670.83,155.43Z" fill="#fff" stroke="#231f20" stroke-width="0.7"/>
<text x="633.20" y="57.50" font-size="8.4" textLength="39.10" lengthAdjust="spacingAndGlyphs" stroke="#231f20" stroke-width="0.1">3,4-dh-Val</text>
<text x="657.70" y="82.00" font-size="8.4" textLength="11.10" lengthAdjust="spacingAndGlyphs" stroke="#231f20" stroke-width="0.1">Azi</text>
<text x="635.20" y="111.00" font-size="8.4" textLength="33.20" lengthAdjust="spacingAndGlyphs" stroke="#231f20" stroke-width="0.1">4-OH-Val</text>
<text x="635.20" y="132.50" font-size="8.4" textLength="32.80" lengthAdjust="spacingAndGlyphs" stroke="#231f20" stroke-width="0.1">3-OH-Val</text>
<text x="650.60" y="154.00" font-size="8.4" textLength="17.00" lengthAdjust="spacingAndGlyphs" stroke="#231f20" stroke-width="0.1">MAA</text>
<text x="330.70" y="15.80" font-size="8.8" textLength="49.10" lengthAdjust="spacingAndGlyphs" stroke="#231f20" stroke-width="0.1"><tspan>[4,4'-D</tspan><tspan font-size="6.51" dy="2.64">6</tspan><tspan dy="-2.64">]Val</tspan></text>
<text x="576.60" y="20.70" font-size="8.8" textLength="39.60" lengthAdjust="spacingAndGlyphs" stroke="#231f20" stroke-width="0.1"><tspan>[U-D</tspan><tspan font-size="6.51" dy="2.64">8</tspan><tspan dy="-2.64">]Val</tspan></text>
<path d="M36.60,264.50 C38.40,263.58 41.53,263.50 44.50,263.30 C47.47,263.10 51.43,263.03 54.40,263.30 C57.37,263.57 59.65,263.82 62.30,264.90 C64.95,265.98 68.15,267.82 70.30,269.80 C72.45,271.78 74.05,274.32 75.20,276.80 C76.35,279.28 76.53,282.07 77.20,284.70 C77.87,287.33 78.22,290.13 79.20,292.60 C80.18,295.07 81.30,297.37 83.10,299.50 C84.90,301.63 87.85,303.27 90.00,305.40 C92.15,307.53 94.42,309.82 96.00,312.30 C97.58,314.78 98.68,317.65 99.50,320.30 C100.32,322.95 100.57,325.57 100.90,328.20 C101.23,330.83 101.33,333.47 101.50,336.10 C101.67,338.73 102.50,341.87 101.90,344.00 C101.30,346.13 100.87,347.98 97.90,348.90 C94.93,349.82 89.70,349.27 84.10,349.50 C78.50,349.73 70.90,350.40 64.30,350.30 C57.70,350.20 49.43,349.37 44.50,348.90 C39.57,348.43 37.33,348.65 34.70,347.50 C32.07,346.35 30.68,344.23 28.70,342.00 C26.72,339.77 24.93,337.07 22.80,334.10 C20.67,331.13 17.62,327.50 15.90,324.20 C14.18,320.90 12.67,317.27 12.50,314.30 C12.33,311.33 13.52,309.03 14.90,306.40 C16.28,303.77 18.82,301.47 20.80,298.50 C22.78,295.53 25.15,292.22 26.80,288.60 C28.45,284.98 29.55,280.10 30.70,276.80 C31.85,273.50 32.72,270.85 33.70,268.80 C34.68,266.75 34.80,265.42 36.60,264.50Z" fill="none" stroke="#b1b3b6" stroke-width="0.85"/>
<path d="M131.10,266.40 C132.83,265.70 135.28,264.65 138.40,264.30 C141.52,263.95 146.17,263.77 149.80,264.30 C153.43,264.83 157.43,266.12 160.20,267.50 C162.97,268.88 164.85,270.53 166.40,272.60 C167.95,274.67 168.63,276.95 169.50,279.90 C170.37,282.85 170.73,287.53 171.60,290.30 C172.47,293.07 172.97,294.60 174.70,296.50 C176.43,298.40 179.75,299.97 182.00,301.70 C184.25,303.43 186.82,304.65 188.20,306.90 C189.58,309.15 190.13,312.43 190.30,315.20 C190.47,317.97 189.38,320.73 189.20,323.50 C189.02,326.27 188.85,329.38 189.20,331.80 C189.55,334.22 190.43,335.93 191.30,338.00 C192.17,340.07 193.88,342.30 194.40,344.20 C194.92,346.10 195.60,348.18 194.40,349.40 C193.20,350.62 190.83,351.15 187.20,351.50 C183.57,351.85 176.75,351.60 172.60,351.50 C168.45,351.40 166.45,351.00 162.30,350.90 C158.15,350.80 152.20,351.15 147.70,350.90 C143.20,350.65 138.40,350.17 135.30,349.40 C132.20,348.63 131.18,347.85 129.10,346.30 C127.02,344.75 125.23,342.52 122.80,340.10 C120.37,337.68 116.92,334.22 114.50,331.80 C112.08,329.38 109.68,327.68 108.30,325.60 C106.92,323.52 106.03,321.73 106.20,319.30 C106.37,316.87 107.92,313.77 109.30,311.00 C110.68,308.23 112.93,305.47 114.50,302.70 C116.07,299.93 117.48,297.85 118.70,294.40 C119.92,290.95 120.77,285.45 121.80,282.00 C122.83,278.55 123.87,275.95 124.90,273.70 C125.93,271.45 126.97,269.72 128.00,268.50 C129.03,267.28 129.37,267.10 131.10,266.40Z" fill="none" stroke="#231f20" stroke-width="1.05"/>
<path d="M217.80,277.50 C219.52,275.72 221.93,274.65 224.90,273.90 C227.87,273.15 232.03,272.85 235.60,273.00 C239.17,273.15 243.03,273.77 246.30,274.80 C249.57,275.83 252.83,277.87 255.20,279.20 C257.57,280.53 259.17,281.32 260.50,282.80 C261.83,284.28 262.32,286.03 263.20,288.10 C264.08,290.17 264.62,292.82 265.80,295.20 C266.98,297.58 268.82,300.02 270.30,302.40 C271.78,304.78 273.37,307.13 274.70,309.50 C276.03,311.87 277.12,313.93 278.30,316.60 C279.48,319.27 280.62,322.83 281.80,325.50 C282.98,328.17 284.45,330.23 285.40,332.60 C286.35,334.97 287.50,337.62 287.50,339.70 C287.50,341.78 286.93,343.85 285.40,345.10 C283.87,346.35 281.27,346.82 278.30,347.20 C275.33,347.58 271.75,347.40 267.60,347.40 C263.45,347.40 257.25,347.30 253.40,347.20 C249.55,347.10 248.07,347.02 244.50,346.80 C240.93,346.58 235.57,346.48 232.00,345.90 C228.43,345.32 225.47,344.33 223.10,343.30 C220.73,342.27 219.57,341.48 217.80,339.70 C216.03,337.92 214.13,335.27 212.50,332.60 C210.87,329.93 208.95,326.67 208.00,323.70 C207.05,320.73 206.50,317.47 206.80,314.80 C207.10,312.13 208.85,310.07 209.80,307.70 C210.75,305.33 211.77,303.27 212.50,300.60 C213.23,297.93 213.85,294.37 214.20,291.70 C214.55,289.03 214.00,286.97 214.60,284.60 C215.20,282.23 216.08,279.28 217.80,277.50Z" fill="none" stroke="#ed1c24" stroke-width="1.1"/>
<rect x="326.2" y="220.8" width="84.1" height="82.0" rx="3" fill="#fee2e6"/>
<rect x="327.1" y="340.7" width="88.0" height="84.2" rx="3" fill="#cad9f3"/>
<path d="M346.80,225.90 C351.27,224.50 358.55,224.45 363.60,225.00 C368.65,225.55 372.90,226.67 377.10,229.20 C381.30,231.73 385.45,236.13 388.80,240.20 C392.15,244.27 394.68,249.13 397.20,253.60 C399.72,258.07 401.93,261.97 403.90,267.00 C405.87,272.03 408.30,279.32 409.00,283.80 C409.70,288.28 409.78,291.52 408.10,293.90 C406.42,296.28 404.35,297.27 398.90,298.10 C393.45,298.93 383.52,298.98 375.40,298.90 C367.28,298.82 356.37,298.43 350.20,297.60 C344.03,296.77 341.48,296.20 338.40,293.90 C335.32,291.60 333.23,288.00 331.70,283.80 C330.17,279.60 329.33,272.90 329.20,268.70 C329.07,264.50 329.92,262.52 330.90,258.60 C331.88,254.68 334.12,249.40 335.10,245.20 C336.08,241.00 334.85,236.62 336.80,233.40 C338.75,230.18 342.33,227.30 346.80,225.90Z" fill="none" stroke="#a7a9ac" stroke-width="0.8"/>
<path d="M341.90,349.00 C343.98,347.67 347.70,346.42 351.70,346.00 C355.70,345.58 361.47,345.90 365.90,346.50 C370.33,347.10 375.03,348.35 378.30,349.60 C381.57,350.85 383.42,351.78 385.50,354.00 C387.58,356.22 389.03,359.93 390.80,362.90 C392.57,365.87 394.32,368.83 396.10,371.80 C397.88,374.77 399.42,377.45 401.50,380.70 C403.58,383.95 406.68,387.75 408.60,391.30 C410.52,394.85 412.27,398.43 413.00,402.00 C413.73,405.57 413.73,410.18 413.00,412.70 C412.27,415.22 411.42,416.07 408.60,417.10 C405.78,418.13 401.15,418.45 396.10,418.90 C391.05,419.35 384.22,419.80 378.30,419.80 C372.38,419.80 365.93,419.35 360.60,418.90 C355.27,418.45 349.87,417.98 346.30,417.10 C342.73,416.22 341.12,415.52 339.20,413.60 C337.28,411.68 335.98,408.72 334.80,405.60 C333.62,402.48 332.55,398.47 332.10,394.90 C331.65,391.33 331.80,387.75 332.10,384.20 C332.40,380.65 333.02,377.15 333.90,373.60 C334.78,370.05 336.52,366.17 337.40,362.90 C338.28,359.63 338.45,356.32 339.20,354.00 C339.95,351.68 339.82,350.33 341.90,349.00Z" fill="none" stroke="#c4bfb8" stroke-width="0.8"/>
<path d="M37.00,289.90 L49.10,296.40 L61.70,289.90 M49.10,296.40 L49.10,310.90 L57.70,315.90" stroke="#231f20" stroke-width="0.95" fill="none" stroke-linejoin="round"/>
<path d="M49.10,310.60 L40.70,313.30 L41.70,316.40Z" fill="#000"/>
<text x="39.30" y="320.80" font-size="8.2" text-anchor="end" fill="#231f20" stroke="#231f20" stroke-width="0.1">H<tspan font-size="5.74" dy="1.64">2</tspan><tspan dy="-1.64">N</tspan></text>
<text x="58.20" y="320.80" font-size="8.2" fill="#231f20" stroke="#231f20" stroke-width="0.1">COO</text>
<path d="M78.10,313.20 L81.30,313.20" stroke="#231f20" stroke-width="0.75"/>
<path d="M36.60,323.00 L44.30,330.70" stroke="#231f20" stroke-width="1.05" stroke-dasharray="1.9,1.5" fill="none"/>
<path d="M67.40,323.60 L59.10,331.30" stroke="#231f20" stroke-width="1.05" stroke-dasharray="1.9,1.5" fill="none"/>
<text x="41.10" y="340.50" font-size="8.3" textLength="40.30" lengthAdjust="spacingAndGlyphs" stroke="#231f20" stroke-width="0.1">Fe(II)Fe(II)</text>
<path d="M130.70,288.30 L142.80,294.80 L155.40,288.30 M142.80,294.80 L142.80,309.30 L151.40,314.30" stroke="#231f20" stroke-width="0.95" fill="none" stroke-linejoin="round"/>
<path d="M142.80,309.00 L134.40,311.70 L135.40,314.80Z" fill="#000"/>
<text x="133.30" y="319.20" font-size="8.2" text-anchor="end" fill="#231f20" stroke="#231f20" stroke-width="0.1">H<tspan font-size="5.74" dy="1.64">2</tspan><tspan dy="-1.64">N</tspan></text>
<text x="151.80" y="319.20" font-size="8.2" fill="#231f20" stroke="#231f20" stroke-width="0.1">COO</text>
<path d="M171.70,311.60 L174.90,311.60" stroke="#231f20" stroke-width="0.75"/>
<text x="140.60" y="329.60" font-size="8.2" text-anchor="middle" stroke="#231f20" stroke-width="0.1">O</text>
<text x="167.60" y="329.60" font-size="8.2" text-anchor="middle" stroke="#231f20" stroke-width="0.1">O</text>
<path d="M145.10,326.40 L163.70,326.40 M140.60,331.20 L140.60,335.80 M167.60,331.20 L167.60,335.80" stroke="#231f20" stroke-width="0.8"/>
<path d="M132.30,324.10 L135.90,334.40" stroke="#231f20" stroke-width="1.05" stroke-dasharray="1.9,1.5" fill="none"/>
<path d="M158.60,320.20 L147.00,335.00" stroke="#231f20" stroke-width="1.05" stroke-dasharray="1.9,1.5" fill="none"/>
<text x="138.40" y="343.10" font-size="8.2" textLength="22.40" lengthAdjust="spacingAndGlyphs" stroke="#231f20" stroke-width="0.1">Fe(III)</text>
<text x="165.40" y="343.10" font-size="8.2" textLength="21.80" lengthAdjust="spacingAndGlyphs" stroke="#231f20" stroke-width="0.1">Fe(III)</text>
<path d="M224.40,285.70 L236.50,292.20 L249.10,285.70 M236.50,292.20 L236.50,306.70 L245.10,311.70" stroke="#231f20" stroke-width="0.95" fill="none" stroke-linejoin="round"/>
<path d="M236.50,306.40 L228.10,309.10 L229.10,312.20Z" fill="#000"/>
<text x="227.00" y="316.60" font-size="8.2" text-anchor="end" fill="#231f20" stroke="#231f20" stroke-width="0.1">H<tspan font-size="5.74" dy="1.64">2</tspan><tspan dy="-1.64">N</tspan></text>
<text x="245.50" y="316.60" font-size="8.2" fill="#231f20" stroke="#231f20" stroke-width="0.1">COO</text>
<path d="M265.40,309.00 L268.60,309.00" stroke="#231f20" stroke-width="0.75"/>
<text x="234.30" y="327.00" font-size="8.2" text-anchor="middle" stroke="#231f20" stroke-width="0.1">O</text>
<text x="261.30" y="327.00" font-size="8.2" text-anchor="middle" stroke="#231f20" stroke-width="0.1">O</text>
<path d="M238.80,323.80 L257.40,323.80 M234.30,328.60 L234.30,333.20 M261.30,328.60 L261.30,333.20" stroke="#231f20" stroke-width="0.8"/>
<path d="M226.00,321.50 L229.60,331.80" stroke="#231f20" stroke-width="1.05" stroke-dasharray="1.9,1.5" fill="none"/>
<path d="M252.30,317.60 L240.70,332.40" stroke="#231f20" stroke-width="1.05" stroke-dasharray="1.9,1.5" fill="none"/>
<text x="232.10" y="340.50" font-size="8.2" textLength="22.40" lengthAdjust="spacingAndGlyphs" stroke="#231f20" stroke-width="0.1">Fe(III)</text>
<text x="259.10" y="340.50" font-size="8.2" textLength="21.80" lengthAdjust="spacingAndGlyphs" stroke="#231f20" stroke-width="0.1">Fe(III)</text>
<path d="M347.30,239.00 L359.40,245.50 L372.00,239.00 M359.40,245.50 L359.40,260.00 L368.00,265.00" stroke="#231f20" stroke-width="0.95" fill="none" stroke-linejoin="round"/>
<path d="M359.40,259.70 L351.00,262.40 L352.00,265.50Z" fill="#000"/>
<circle cx="359.40" cy="242.30" r="0.95" fill="#000"/>
<text x="350.20" y="270.40" font-size="8.2" text-anchor="end" fill="#231f20" stroke="#231f20" stroke-width="0.1">H<tspan font-size="5.74" dy="1.64">2</tspan><tspan dy="-1.64">N</tspan></text>
<text x="369.50" y="270.40" font-size="8.2" fill="#231f20" stroke="#231f20" stroke-width="0.1">COO</text>
<path d="M389.40,262.80 L392.60,262.80" stroke="#231f20" stroke-width="0.75"/>
<path d="M349.40,272.90 L353.60,280.50" stroke="#231f20" stroke-width="1.05" stroke-dasharray="1.9,1.5" fill="none"/>
<path d="M384.60,273.40 L377.10,281.30" stroke="#231f20" stroke-width="1.05" stroke-dasharray="1.9,1.5" fill="none"/>
<text x="354.9" y="289.7" font-size="8.2" textLength="38.1" lengthAdjust="spacingAndGlyphs" fill="#231f20" stroke="#231f20" stroke-width="0.1">Fe<tspan font-size="5.7" dy="1.7">2</tspan><tspan dy="-1.7">(III/IV )</tspan></text>
<path d="M349.40,359.70 L361.50,366.20 L374.10,359.70 M361.50,366.20 L361.50,380.70 L370.10,385.70" stroke="#231f20" stroke-width="0.95" fill="none" stroke-linejoin="round"/>
<path d="M361.50,380.40 L353.10,383.10 L354.10,386.20Z" fill="#000"/>
<circle cx="377.70" cy="360.00" r="0.95" fill="#000"/>
<text x="352.60" y="391.00" font-size="8.2" text-anchor="end" fill="#231f20" stroke="#231f20" stroke-width="0.1">H<tspan font-size="5.74" dy="1.64">2</tspan><tspan dy="-1.64">N</tspan></text>
<text x="371.20" y="391.00" font-size="8.2" fill="#231f20" stroke="#231f20" stroke-width="0.1">COO</text>
<path d="M391.10,383.40 L394.30,383.40" stroke="#231f20" stroke-width="0.75"/>
<path d="M348.10,394.50 L354.30,402.90" stroke="#231f20" stroke-width="1.05" stroke-dasharray="1.9,1.5" fill="none"/>
<path d="M388.10,394.00 L378.30,403.40" stroke="#231f20" stroke-width="1.05" stroke-dasharray="1.9,1.5" fill="none"/>
<text x="355.6" y="412.3" font-size="8.2" textLength="38.7" lengthAdjust="spacingAndGlyphs" fill="#231f20" stroke="#231f20" stroke-width="0.1">Fe<tspan font-size="5.7" dy="1.7">2</tspan><tspan dy="-1.7">(III/IV )</tspan></text>
<path d="M83.10,289.60 L109.20,289.60" stroke="#000" stroke-width="0.9" fill="none"/>
<path d="M114.20,289.60 L108.20,291.90 L109.40,289.60 L108.20,287.30Z" fill="#000"/>
<path d="M174.90,285.30 L204.30,285.30" stroke="#000" stroke-width="0.9" fill="none"/>
<path d="M209.30,285.30 L203.30,287.60 L204.50,285.30 L203.30,283.00Z" fill="#000"/>
<path d="M291.70,303.20 L318.03,277.31" stroke="#000" stroke-width="0.9" fill="none"/>
<path d="M321.60,273.80 L318.93,279.65 L318.18,277.17 L315.71,276.37Z" fill="#000"/>
<path d="M292.70,353.20 L314.46,376.17" stroke="#000" stroke-width="0.9" fill="none"/>
<path d="M317.90,379.80 L312.10,377.03 L314.60,376.32 L315.44,373.86Z" fill="#000"/>
<path d="M407.20,261.50 L417.50,261.50" stroke="#000" stroke-width="0.9" fill="none"/>
<path d="M422.00,261.50 L416.50,263.50 L417.70,261.50 L416.50,259.50Z" fill="#000"/>
<path d="M410.20,382.30 L420.60,382.30" stroke="#000" stroke-width="0.9" fill="none"/>
<path d="M425.10,382.30 L419.60,384.30 L420.80,382.30 L419.60,380.30Z" fill="#000"/>
<text x="95.0" y="281.7" font-size="8.5" fill="#231f20" stroke="#231f20" stroke-width="0.1">O<tspan font-size="5.9" dy="1.8">2</tspan></text>
<text x="47.7" y="364.0" font-size="8.3" fill="#231f20" textLength="19.6" lengthAdjust="spacingAndGlyphs" stroke="#231f20" stroke-width="0.1"><tspan font-size="6.0">L</tspan>-Va l</text>
<text x="131.00" y="362.90" font-size="8.4" textLength="64.10" lengthAdjust="spacingAndGlyphs" stroke="#231f20" stroke-width="0.1">µM-peroxodi-iron</text>
<text x="142.30" y="372.40" font-size="8.4" textLength="33.60" lengthAdjust="spacingAndGlyphs" stroke="#231f20" stroke-width="0.1">(614 nm)</text>
<text x="224.40" y="358.10" font-size="8.4" textLength="64.60" lengthAdjust="spacingAndGlyphs" stroke="#231f20" stroke-width="0.1">µM-peroxodi-iron</text>
<text x="235.80" y="367.40" font-size="8.4" textLength="33.40" lengthAdjust="spacingAndGlyphs" stroke="#231f20" stroke-width="0.1">(614 nm)</text>
<text x="152.90" y="252.00" font-size="8.5" textLength="83.60" lengthAdjust="spacingAndGlyphs" stroke="#231f20" stroke-width="0.1">Rate-determining step</text>
<text x="162.2" y="265.5" font-size="8.5" fill="#2d8a33" textLength="63.8" lengthAdjust="spacingAndGlyphs" stroke="#2d8a33" stroke-width="0.1"><tspan font-style="italic">k</tspan><tspan font-size="6.9" dy="2.0">obs</tspan><tspan dy="-2.0"> = 0.92 min</tspan><tspan font-size="6.4" dy="-3.5">−1</tspan></text>
<text x="254.90" y="246.10" font-size="8.5" textLength="58.20" lengthAdjust="spacingAndGlyphs" stroke="#231f20" stroke-width="0.1">3-H abstraction</text>
<text x="259.9" y="259.5" font-size="8.5" fill="#2d8a33" textLength="56.1" lengthAdjust="spacingAndGlyphs" stroke="#2d8a33" stroke-width="0.1"><tspan font-style="italic">k</tspan><tspan font-size="6.9" dy="2.0">3H</tspan><tspan dy="-2.0"> = 3.5 min</tspan><tspan font-size="6.4" dy="-3.5">−1</tspan></text>
<text x="260.7" y="271.4" font-size="8.5" fill="#2d8a33" textLength="60.3" lengthAdjust="spacingAndGlyphs" stroke="#2d8a33" stroke-width="0.1"><tspan font-style="italic">k</tspan><tspan font-size="6.9" dy="2.0">3D</tspan><tspan dy="-2.0"> = 0.14 min</tspan><tspan font-size="6.4" dy="-3.5">−1</tspan></text>
<text x="247.10" y="387.60" font-size="8.5" textLength="57.80" lengthAdjust="spacingAndGlyphs" stroke="#231f20" stroke-width="0.1">4-H abstraction</text>
<text x="255.8" y="401.3" font-size="8.5" fill="#2d8a33" textLength="55.5" lengthAdjust="spacingAndGlyphs" stroke="#2d8a33" stroke-width="0.1"><tspan font-style="italic">k</tspan><tspan font-size="6.9" dy="2.0">4H</tspan><tspan dy="-2.0"> = 1.1 min</tspan><tspan font-size="6.4" dy="-3.5">−1</tspan></text>
<text x="254.9" y="413.0" font-size="8.5" fill="#2d8a33" textLength="59.6" lengthAdjust="spacingAndGlyphs" stroke="#2d8a33" stroke-width="0.1"><tspan font-style="italic">k</tspan><tspan font-size="6.9" dy="2.0">4D</tspan><tspan dy="-2.0"> = 0.03 min</tspan><tspan font-size="6.4" dy="-3.5">−1</tspan></text>
<text x="333.40" y="315.80" font-size="8.5" textLength="62.80" lengthAdjust="spacingAndGlyphs" stroke="#231f20" stroke-width="0.1">C3• intermediate</text>
<text x="331.40" y="434.40" font-size="8.5" textLength="62.40" lengthAdjust="spacingAndGlyphs" stroke="#231f20" stroke-width="0.1">C4• intermediate</text>
<text x="425.50" y="255.10" font-size="8.6" textLength="39.40" lengthAdjust="spacingAndGlyphs" stroke="#231f20" stroke-width="0.1">3,4-dh-Val</text>
<text x="425.50" y="264.80" font-size="8.6" textLength="11.30" lengthAdjust="spacingAndGlyphs" stroke="#231f20" stroke-width="0.1">Azi</text>
<text x="425.50" y="274.50" font-size="8.6" textLength="35.80" lengthAdjust="spacingAndGlyphs" stroke="#231f20" stroke-width="0.1">3-OH-Val</text>
<text x="426.80" y="386.60" font-size="8.6" textLength="35.60" lengthAdjust="spacingAndGlyphs" stroke="#231f20" stroke-width="0.1">4-OH-Val</text>
<path d="M528.3,209.4 L681.2,209.4" stroke="#939598" stroke-width="0.9" fill="none"/>
<path d="M528.3,209.4 L528.3,323.2 L681.2,323.2" stroke="#a7a9ac" stroke-width="0.9" fill="none"/>
<path d="M681.6,209.4 L681.6,323.2" stroke="#e6e7e8" stroke-width="0.8" fill="none"/>
<path d="M525.3,226.90 L528.3,226.90" stroke="#a7a9ac" stroke-width="0.8"/>
<text x="522.80" y="229.60" font-size="8.2" text-anchor="end" fill="#3d3d3f" stroke="#3d3d3f" stroke-width="0.1">1.0</text>
<path d="M525.3,274.00 L528.3,274.00" stroke="#a7a9ac" stroke-width="0.8"/>
<text x="522.80" y="276.70" font-size="8.2" text-anchor="end" fill="#3d3d3f" stroke="#3d3d3f" stroke-width="0.1">0.5</text>
<path d="M525.3,321.10 L528.3,321.10" stroke="#a7a9ac" stroke-width="0.8"/>
<text x="522.80" y="323.80" font-size="8.2" text-anchor="end" fill="#3d3d3f" stroke="#3d3d3f" stroke-width="0.1">0</text>
<path d="M526.3,297.55 L528.3,297.55" stroke="#d1d3d4" stroke-width="0.7"/>
<path d="M526.3,250.45 L528.3,250.45" stroke="#d1d3d4" stroke-width="0.7"/>
<path d="M531.50,323.20 L531.50,325.40 M540.41,323.20 L540.41,324.50 M545.62,323.20 L545.62,324.50 M549.32,323.20 L549.32,324.50 M552.19,323.20 L552.19,324.50 M554.53,323.20 L554.53,324.50 M556.51,323.20 L556.51,324.50 M558.23,323.20 L558.23,324.50 M559.75,323.20 L559.75,324.50 M561.10,323.20 L561.10,325.40 M570.01,323.20 L570.01,324.50 M575.22,323.20 L575.22,324.50 M578.92,323.20 L578.92,324.50 M581.79,323.20 L581.79,324.50 M584.13,323.20 L584.13,324.50 M586.11,323.20 L586.11,324.50 M587.83,323.20 L587.83,324.50 M589.35,323.20 L589.35,324.50 M590.70,323.20 L590.70,325.40 M599.61,323.20 L599.61,324.50 M604.82,323.20 L604.82,324.50 M608.52,323.20 L608.52,324.50 M611.39,323.20 L611.39,324.50 M613.73,323.20 L613.73,324.50 M615.71,323.20 L615.71,324.50 M617.43,323.20 L617.43,324.50 M618.95,323.20 L618.95,324.50 M620.30,323.20 L620.30,325.40 M629.21,323.20 L629.21,324.50 M634.42,323.20 L634.42,324.50 M638.12,323.20 L638.12,324.50 M640.99,323.20 L640.99,324.50 M643.33,323.20 L643.33,324.50 M645.31,323.20 L645.31,324.50 M647.03,323.20 L647.03,324.50 M648.55,323.20 L648.55,324.50 M649.90,323.20 L649.90,325.40 M658.81,323.20 L658.81,324.50 M664.02,323.20 L664.02,324.50 M667.72,323.20 L667.72,324.50 M670.59,323.20 L670.59,324.50 M672.93,323.20 L672.93,324.50 M674.91,323.20 L674.91,324.50 M676.63,323.20 L676.63,324.50 M678.15,323.20 L678.15,324.50 M679.50,323.20 L679.50,325.40 " stroke="#a7a9ac" stroke-width="0.6"/>
<text x="534.40" y="333.60" font-size="8.2" text-anchor="middle" fill="#3d3d3f" stroke="#3d3d3f" stroke-width="0.1">0.01</text>
<text x="561.20" y="333.60" font-size="8.2" text-anchor="middle" fill="#3d3d3f" stroke="#3d3d3f" stroke-width="0.1">0.1</text>
<text x="590.80" y="333.60" font-size="8.2" text-anchor="middle" fill="#3d3d3f" stroke="#3d3d3f" stroke-width="0.1">1</text>
<text x="620.70" y="333.60" font-size="8.2" text-anchor="middle" fill="#3d3d3f" stroke="#3d3d3f" stroke-width="0.1">10</text>
<text x="648.70" y="333.60" font-size="8.2" text-anchor="middle" fill="#3d3d3f" stroke="#3d3d3f" stroke-width="0.1">100</text>
<text x="674.80" y="333.60" font-size="8.2" text-anchor="middle" fill="#3d3d3f" stroke="#3d3d3f" stroke-width="0.1">1,000</text>
<text x="562.30" y="346.90" font-size="9.9" textLength="81.50" lengthAdjust="spacingAndGlyphs" stroke="#231f20" stroke-width="0.1">Incubation time (s)</text>
<text x="491.60" y="265.90" font-size="9.8" textLength="84.00" lengthAdjust="spacingAndGlyphs" text-anchor="middle" transform="rotate(-90 491.60 265.90)" stroke="#231f20" stroke-width="0.1">Relative absorption</text>
<text x="504.00" y="267.40" font-size="9.8" textLength="41.50" lengthAdjust="spacingAndGlyphs" text-anchor="middle" transform="rotate(-90 504.00 267.40)" stroke="#231f20" stroke-width="0.1">at 614 nm</text>
<circle cx="528.60" cy="317.50" r="1.0" fill="#d62728"/>
<circle cx="537.20" cy="316.00" r="1.0" fill="#d62728"/>
<circle cx="542.30" cy="314.80" r="1.0" fill="#d62728"/>
<circle cx="546.00" cy="313.90" r="1.0" fill="#d62728"/>
<circle cx="549.00" cy="313.00" r="1.0" fill="#d62728"/>
<circle cx="551.60" cy="312.20" r="1.0" fill="#d62728"/>
<path d="M553.60,311.60 C554.43,311.27 556.55,310.37 558.60,309.60 C560.65,308.83 563.23,307.67 565.90,307.00 C568.57,306.33 571.68,306.30 574.60,305.60 C577.52,304.90 580.97,303.82 583.40,302.80 C585.83,301.78 586.67,301.80 589.20,299.50 C591.73,297.20 596.20,292.65 598.60,289.00 C601.00,285.35 601.90,281.82 603.60,277.60 C605.30,273.38 607.03,268.38 608.80,263.70 C610.57,259.02 612.33,254.23 614.20,249.50 C616.07,244.77 618.07,239.78 620.00,235.30 C621.93,230.82 623.65,225.75 625.80,222.60 C627.95,219.45 630.78,217.08 632.90,216.40 C635.02,215.72 636.82,217.15 638.50,218.50 C640.18,219.85 641.58,221.97 643.00,224.50 C644.42,227.03 645.58,230.32 647.00,233.70 C648.42,237.08 650.17,241.12 651.50,244.80 C652.83,248.48 653.62,251.27 655.00,255.80 C656.38,260.33 658.17,266.80 659.80,272.00 C661.43,277.20 663.18,282.70 664.80,287.00 C666.42,291.30 667.80,295.17 669.50,297.80 C671.20,300.43 673.10,301.50 675.00,302.80 C676.90,304.10 679.92,305.13 680.90,305.60" fill="none" stroke="#d62728" stroke-width="2.35" stroke-linejoin="round"/>
<circle cx="528.60" cy="316.40" r="1.0" fill="#2ca02c"/>
<circle cx="537.20" cy="314.90" r="1.0" fill="#2ca02c"/>
<circle cx="542.30" cy="313.70" r="1.0" fill="#2ca02c"/>
<circle cx="546.00" cy="312.80" r="1.0" fill="#2ca02c"/>
<circle cx="549.00" cy="311.90" r="1.0" fill="#2ca02c"/>
<circle cx="551.60" cy="311.10" r="1.0" fill="#2ca02c"/>
<path d="M553.60,311.00 C554.43,310.67 556.55,309.78 558.60,309.00 C560.65,308.22 563.23,307.20 565.90,306.30 C568.57,305.40 571.68,304.62 574.60,303.60 C577.52,302.58 580.97,301.48 583.40,300.20 C585.83,298.92 586.52,298.55 589.20,295.90 C591.88,293.25 596.70,288.60 599.50,284.30 C602.30,280.00 604.12,274.85 606.00,270.10 C607.88,265.35 609.20,260.55 610.80,255.80 C612.40,251.05 614.03,246.07 615.60,241.60 C617.17,237.13 618.67,232.60 620.20,229.00 C621.73,225.40 623.30,222.05 624.80,220.00 C626.30,217.95 627.70,216.92 629.20,216.70 C630.70,216.48 631.87,215.87 633.80,218.70 C635.73,221.53 638.80,228.03 640.80,233.70 C642.80,239.37 644.47,247.32 645.80,252.70 C647.13,258.08 647.77,262.03 648.80,266.00 C649.83,269.97 651.00,272.92 652.00,276.50 C653.00,280.08 653.93,284.88 654.80,287.50 C655.67,290.12 656.00,290.87 657.20,292.20 C658.40,293.53 659.87,294.45 662.00,295.50 C664.13,296.55 666.85,297.25 670.00,298.50 C673.15,299.75 679.08,302.25 680.90,303.00" fill="none" stroke="#2ca02c" stroke-width="2.35" stroke-linejoin="round"/>
<circle cx="528.60" cy="316.90" r="1.0" fill="#2b78bd"/>
<circle cx="537.20" cy="315.40" r="1.0" fill="#2b78bd"/>
<circle cx="542.30" cy="314.20" r="1.0" fill="#2b78bd"/>
<circle cx="546.00" cy="313.30" r="1.0" fill="#2b78bd"/>
<circle cx="549.00" cy="312.40" r="1.0" fill="#2b78bd"/>
<circle cx="551.60" cy="311.60" r="1.0" fill="#2b78bd"/>
<path d="M553.60,311.00 C554.43,310.60 557.03,309.50 558.60,308.60 C560.17,307.70 561.68,306.28 563.00,305.60 C564.32,304.92 564.57,305.05 566.50,304.50 C568.43,303.95 571.78,303.23 574.60,302.30 C577.42,301.37 580.97,300.15 583.40,298.90 C585.83,297.65 586.63,297.23 589.20,294.80 C591.77,292.37 596.20,288.42 598.80,284.30 C601.40,280.18 603.00,274.85 604.80,270.10 C606.60,265.35 608.00,260.55 609.60,255.80 C611.20,251.05 612.83,246.07 614.40,241.60 C615.97,237.13 617.48,232.65 619.00,229.00 C620.52,225.35 622.07,221.88 623.50,219.70 C624.93,217.52 626.18,216.15 627.60,215.90 C629.02,215.65 630.18,215.23 632.00,218.20 C633.82,221.17 636.57,227.95 638.50,233.70 C640.43,239.45 642.25,247.23 643.60,252.70 C644.95,258.17 645.57,262.45 646.60,266.50 C647.63,270.55 648.65,272.92 649.80,277.00 C650.95,281.08 652.22,287.50 653.50,291.00 C654.78,294.50 655.58,296.08 657.50,298.00 C659.42,299.92 662.42,301.23 665.00,302.50 C667.58,303.77 670.35,304.58 673.00,305.60 C675.65,306.62 679.58,308.10 680.90,308.60" fill="none" stroke="#2b78bd" stroke-width="2.35" stroke-linejoin="round"/>
<circle cx="528.60" cy="316.90" r="1.0" fill="#ff820f"/>
<circle cx="537.20" cy="315.40" r="1.0" fill="#ff820f"/>
<circle cx="542.30" cy="314.20" r="1.0" fill="#ff820f"/>
<circle cx="546.00" cy="313.30" r="1.0" fill="#ff820f"/>
<circle cx="549.00" cy="312.40" r="1.0" fill="#ff820f"/>
<circle cx="551.60" cy="311.60" r="1.0" fill="#ff820f"/>
<path d="M553.60,311.00 C554.43,310.67 556.55,309.78 558.60,309.00 C560.65,308.22 563.23,307.20 565.90,306.30 C568.57,305.40 571.68,304.72 574.60,303.60 C577.52,302.48 580.97,301.12 583.40,299.60 C585.83,298.08 586.87,297.05 589.20,294.50 C591.53,291.95 595.12,288.37 597.40,284.30 C599.68,280.23 601.20,274.85 602.90,270.10 C604.60,265.35 606.03,260.55 607.60,255.80 C609.17,251.05 610.77,246.07 612.30,241.60 C613.83,237.13 615.35,232.67 616.80,229.00 C618.25,225.33 619.53,221.83 621.00,219.60 C622.47,217.37 624.02,215.88 625.60,215.60 C627.18,215.32 628.57,214.88 630.50,217.90 C632.43,220.92 635.22,227.90 637.20,233.70 C639.18,239.50 640.67,246.02 642.40,252.70 C644.13,259.38 645.72,267.22 647.60,273.80 C649.48,280.38 651.90,287.57 653.70,292.20 C655.50,296.83 656.28,298.90 658.40,301.60 C660.52,304.30 663.97,306.73 666.40,308.40 C668.83,310.07 670.58,310.67 673.00,311.60 C675.42,312.53 679.58,313.60 680.90,314.00" fill="none" stroke="#ff820f" stroke-width="2.35" stroke-linejoin="round"/>
<text x="533.60" y="226.60" font-size="9.0" fill="#3474b8" textLength="18.70" lengthAdjust="spacingAndGlyphs" stroke="#3474b8" stroke-width="0.1"><tspan font-size="6.48">L</tspan>-Val</text>
<text x="533.60" y="240.50" font-size="9.0" textLength="32.20" lengthAdjust="spacingAndGlyphs" fill="#e27a35" stroke="#e27a35" stroke-width="0.1">[3-D]Val</text>
<text x="533.60" y="255.90" font-size="9.0" textLength="45.60" lengthAdjust="spacingAndGlyphs" fill="#429842" stroke="#429842" stroke-width="0.1"><tspan>[4,4'-D</tspan><tspan font-size="6.66" dy="2.70">6</tspan><tspan dy="-2.70">]Val</tspan></text>
<text x="533.60" y="272.50" font-size="9.0" textLength="37.30" lengthAdjust="spacingAndGlyphs" fill="#d03548" stroke="#d03548" stroke-width="0.1"><tspan>[U-D</tspan><tspan font-size="6.66" dy="2.70">8</tspan><tspan dy="-2.70">]Val</tspan></text>
<path d="M528.3,362.8 L528.3,478.8 L684.3,478.8 L684.3,362.8" stroke="#a7a9ac" stroke-width="0.9" fill="none"/>
<path d="M525.3,365.40 L528.3,365.40" stroke="#a7a9ac" stroke-width="0.8"/>
<text x="521.20" y="368.20" font-size="8.2" text-anchor="end" fill="#3d3d3f" stroke="#3d3d3f" stroke-width="0.1">1.000</text>
<path d="M525.3,417.50 L528.3,417.50" stroke="#a7a9ac" stroke-width="0.8"/>
<text x="521.20" y="420.30" font-size="8.2" text-anchor="end" fill="#3d3d3f" stroke="#3d3d3f" stroke-width="0.1">0.500</text>
<path d="M525.3,469.50 L528.3,469.50" stroke="#a7a9ac" stroke-width="0.8"/>
<text x="521.20" y="472.30" font-size="8.2" text-anchor="end" fill="#3d3d3f" stroke="#3d3d3f" stroke-width="0.1">0.025</text>
<path d="M544.20,478.8 L544.20,481.4" stroke="#a7a9ac" stroke-width="0.8"/>
<text x="545.40" y="490.50" font-size="8.2" text-anchor="middle" fill="#3d3d3f" stroke="#3d3d3f" stroke-width="0.1">30</text>
<path d="M592.30,478.8 L592.30,481.4" stroke="#a7a9ac" stroke-width="0.8"/>
<text x="591.20" y="490.50" font-size="8.2" text-anchor="middle" fill="#3d3d3f" stroke="#3d3d3f" stroke-width="0.1">100</text>
<path d="M656.30,478.8 L656.30,481.4" stroke="#a7a9ac" stroke-width="0.8"/>
<text x="657.20" y="490.50" font-size="8.2" text-anchor="middle" fill="#3d3d3f" stroke="#3d3d3f" stroke-width="0.1">500</text>
<text x="572.90" y="504.30" font-size="9.9" textLength="80.10" lengthAdjust="spacingAndGlyphs" stroke="#231f20" stroke-width="0.1">Incubation time (s)</text>
<text x="479.80" y="420.90" font-size="9.8" textLength="84.30" lengthAdjust="spacingAndGlyphs" text-anchor="middle" transform="rotate(-90 479.80 420.90)" stroke="#231f20" stroke-width="0.1">Relative absorption</text>
<text x="491.00" y="422.00" font-size="9.8" textLength="42.60" lengthAdjust="spacingAndGlyphs" text-anchor="middle" transform="rotate(-90 491.00 422.00)" stroke="#231f20" stroke-width="0.1">at 614 nm</text>
<path d="M528.60,369.28 L529.10,369.44 L529.60,369.61 L530.10,369.79 L530.60,369.98 L531.10,370.19 L531.60,370.41 L532.10,370.64 L532.60,370.88 L533.10,371.13 L533.60,371.40 L534.10,371.68 L534.60,371.97 L535.10,372.26 L535.60,372.57 L536.10,372.90 L536.60,373.23 L537.10,373.57 L537.60,373.92 L538.10,374.29 L538.60,374.66 L539.10,375.04 L539.60,375.43 L540.10,375.84 L540.60,376.25 L541.10,376.67 L541.60,377.10 L542.10,377.54 L542.60,377.99 L543.10,378.44 L543.60,378.91 L544.10,379.38 L544.60,379.86 L545.10,380.35 L545.60,380.85 L546.10,381.35 L546.60,381.86 L547.10,382.38 L547.60,382.91 L548.10,383.44 L548.60,383.99 L549.10,384.53 L549.60,385.09 L550.10,385.65 L550.60,386.22 L551.10,386.79 L551.60,387.37 L552.10,387.95 L552.60,388.54 L553.10,389.14 L553.60,389.74 L554.10,390.35 L554.60,390.96 L555.10,391.58 L555.60,392.20 L556.10,392.83 L556.60,393.46 L557.10,394.09 L557.60,394.73 L558.10,395.37 L558.60,396.02 L559.10,396.67 L559.60,397.32 L560.10,397.98 L560.60,398.64 L561.10,399.31 L561.60,399.97 L562.10,400.64 L562.60,401.31 L563.10,401.99 L563.60,402.66 L564.10,403.34 L564.60,404.02 L565.10,404.70 L565.60,405.39 L566.10,406.07 L566.60,406.76 L567.10,407.45 L567.60,408.14 L568.10,408.83 L568.60,409.52 L569.10,410.21 L569.60,410.90 L570.10,411.59 L570.60,412.28 L571.10,412.97 L571.60,413.67 L572.10,414.36 L572.60,415.05 L573.10,415.74 L573.60,416.43 L574.10,417.11 L574.60,417.80 L575.10,418.48 L575.60,419.17 L576.10,419.85 L576.60,420.53 L577.10,421.21 L577.60,421.89 L578.10,422.56 L578.60,423.23 L579.10,423.90 L579.60,424.57 L580.10,425.23 L580.60,425.89 L581.10,426.55 L581.60,427.20 L582.10,427.85 L582.60,428.50 L583.10,429.14 L583.60,429.78 L584.10,430.42 L584.60,431.05 L585.10,431.67 L585.60,432.30 L586.10,432.91 L586.60,433.52 L587.10,434.13 L587.60,434.73 L588.10,435.33 L588.60,435.92 L589.10,436.51 L589.60,437.08 L590.10,437.66 L590.60,438.23 L591.10,438.79 L591.60,439.34 L592.10,439.89 L592.60,440.43 L593.10,440.96 L593.60,441.49 L594.10,442.01 L594.60,442.52 L595.10,443.03 L595.60,443.53 L596.10,444.02 L596.60,444.50 L597.10,444.98 L597.60,445.45 L598.10,445.91 L598.60,446.37 L599.10,446.82 L599.60,447.27 L600.10,447.70 L600.60,448.13 L601.10,448.56 L601.60,448.98 L602.10,449.39 L602.60,449.79 L603.10,450.19 L603.60,450.59 L604.10,450.97 L604.60,451.35 L605.10,451.73 L605.60,452.10 L606.10,452.46 L606.60,452.82 L607.10,453.17 L607.60,453.52 L608.10,453.86 L608.60,454.20 L609.10,454.53 L609.60,454.85 L610.10,455.17 L610.60,455.48 L611.10,455.79 L611.60,456.10 L612.10,456.40 L612.60,456.69 L613.10,456.98 L613.60,457.26 L614.10,457.54 L614.60,457.82 L615.10,458.09 L615.60,458.35 L616.10,458.61 L616.60,458.87 L617.10,459.12 L617.60,459.37 L618.10,459.61 L618.60,459.85 L619.10,460.08 L619.60,460.31 L620.10,460.54 L620.60,460.76 L621.10,460.98 L621.60,461.20 L622.10,461.41 L622.60,461.61 L623.10,461.82 L623.60,462.02 L624.10,462.21 L624.60,462.40 L625.10,462.59 L625.60,462.78 L626.10,462.96 L626.60,463.14 L627.10,463.31 L627.60,463.49 L628.10,463.66 L628.60,463.82 L629.10,463.99 L629.60,464.15 L630.10,464.30 L630.60,464.46 L631.10,464.61 L631.60,464.76 L632.10,464.91 L632.60,465.05 L633.10,465.19 L633.60,465.33 L634.10,465.47 L634.60,465.61 L635.10,465.74 L635.60,465.87 L636.10,466.00 L636.60,466.12 L637.10,466.25 L637.60,466.37 L638.10,466.49 L638.60,466.61 L639.10,466.73 L639.60,466.84 L640.10,466.96 L640.60,467.07 L641.10,467.18 L641.60,467.29 L642.10,467.39 L642.60,467.50 L643.10,467.60 L643.60,467.70 L644.10,467.80 L644.60,467.90 L645.10,468.00 L645.60,468.09 L646.10,468.19 L646.60,468.28 L647.10,468.37 L647.60,468.46 L648.10,468.55 L648.60,468.64 L649.10,468.73 L649.60,468.82 L650.10,468.90 L650.60,468.98 L651.10,469.07 L651.60,469.15 L652.10,469.23 L652.60,469.31 L653.10,469.39 L653.60,469.46 L654.10,469.54 L654.60,469.62 L655.10,469.69 L655.60,469.77 L656.10,469.84 L656.60,469.92 L657.10,469.99 L657.60,470.06 L658.10,470.13 L658.60,470.20 L659.10,470.27 L659.60,470.34 L660.10,470.41 L660.60,470.48 L661.10,470.55 L661.60,470.62 L662.10,470.68 L662.60,470.75 L663.10,470.82 L663.60,470.88 L664.10,470.95 L664.60,471.02 L665.10,471.08 L665.60,471.15 L666.10,471.22 L666.60,471.28 L667.10,471.35 L667.60,471.41 L668.10,471.48 L668.60,471.55 L669.10,471.61 L669.60,471.68 L670.10,471.75 L670.60,471.81 L671.10,471.88 L671.60,471.95 L672.10,472.02 L672.60,472.08 L673.10,472.15 L673.60,472.22 L674.10,472.29 L674.60,472.36 L675.10,472.43 L675.60,472.50 L676.10,472.57 L676.60,472.65 L677.10,472.72 L677.60,472.79 L678.10,472.87 L678.60,472.94 L679.10,473.02 L679.60,473.09 L680.10,473.17 L680.60,473.25 L681.10,473.33 L681.60,473.41 L682.10,473.49 L682.60,473.57 L683.10,473.65 L683.60,473.74 L684.10,473.82 L684.30,473.85" fill="none" stroke="#ff820f" stroke-width="2.35" stroke-linejoin="round"/>
<path d="M528.60,369.21 L529.10,369.31 L529.60,369.42 L530.10,369.54 L530.60,369.68 L531.10,369.83 L531.60,370.00 L532.10,370.17 L532.60,370.36 L533.10,370.57 L533.60,370.79 L534.10,371.01 L534.60,371.26 L535.10,371.51 L535.60,371.78 L536.10,372.05 L536.60,372.34 L537.10,372.65 L537.60,372.96 L538.10,373.28 L538.60,373.62 L539.10,373.96 L539.60,374.32 L540.10,374.69 L540.60,375.07 L541.10,375.45 L541.60,375.85 L542.10,376.26 L542.60,376.68 L543.10,377.11 L543.60,377.54 L544.10,377.99 L544.60,378.44 L545.10,378.91 L545.60,379.38 L546.10,379.86 L546.60,380.35 L547.10,380.85 L547.60,381.35 L548.10,381.87 L548.60,382.39 L549.10,382.92 L549.60,383.45 L550.10,383.99 L550.60,384.54 L551.10,385.10 L551.60,385.66 L552.10,386.23 L552.60,386.81 L553.10,387.39 L553.60,387.98 L554.10,388.57 L554.60,389.17 L555.10,389.78 L555.60,390.39 L556.10,391.00 L556.60,391.62 L557.10,392.25 L557.60,392.88 L558.10,393.51 L558.60,394.15 L559.10,394.79 L559.60,395.44 L560.10,396.09 L560.60,396.74 L561.10,397.40 L561.60,398.06 L562.10,398.72 L562.60,399.39 L563.10,400.05 L563.60,400.72 L564.10,401.40 L564.60,402.07 L565.10,402.75 L565.60,403.43 L566.10,404.11 L566.60,404.79 L567.10,405.48 L567.60,406.16 L568.10,406.85 L568.60,407.53 L569.10,408.22 L569.60,408.91 L570.10,409.60 L570.60,410.29 L571.10,410.97 L571.60,411.66 L572.10,412.35 L572.60,413.04 L573.10,413.72 L573.60,414.41 L574.10,415.09 L574.60,415.77 L575.10,416.46 L575.60,417.14 L576.10,417.81 L576.60,418.49 L577.10,419.16 L577.60,419.84 L578.10,420.50 L578.60,421.17 L579.10,421.84 L579.60,422.50 L580.10,423.15 L580.60,423.81 L581.10,424.46 L581.60,425.11 L582.10,425.75 L582.60,426.39 L583.10,427.02 L583.60,427.66 L584.10,428.28 L584.60,428.90 L585.10,429.52 L585.60,430.13 L586.10,430.74 L586.60,431.34 L587.10,431.94 L587.60,432.53 L588.10,433.11 L588.60,433.69 L589.10,434.26 L589.60,434.83 L590.10,435.39 L590.60,435.94 L591.10,436.48 L591.60,437.02 L592.10,437.55 L592.60,438.08 L593.10,438.59 L593.60,439.10 L594.10,439.60 L594.60,440.09 L595.10,440.58 L595.60,441.05 L596.10,441.52 L596.60,441.98 L597.10,442.44 L597.60,442.88 L598.10,443.32 L598.60,443.76 L599.10,444.18 L599.60,444.60 L600.10,445.01 L600.60,445.41 L601.10,445.81 L601.60,446.20 L602.10,446.58 L602.60,446.96 L603.10,447.32 L603.60,447.69 L604.10,448.04 L604.60,448.39 L605.10,448.74 L605.60,449.07 L606.10,449.40 L606.60,449.73 L607.10,450.05 L607.60,450.36 L608.10,450.67 L608.60,450.97 L609.10,451.26 L609.60,451.55 L610.10,451.84 L610.60,452.12 L611.10,452.39 L611.60,452.66 L612.10,452.92 L612.60,453.18 L613.10,453.43 L613.60,453.68 L614.10,453.92 L614.60,454.15 L615.10,454.39 L615.60,454.61 L616.10,454.84 L616.60,455.05 L617.10,455.27 L617.60,455.48 L618.10,455.68 L618.60,455.88 L619.10,456.08 L619.60,456.27 L620.10,456.46 L620.60,456.64 L621.10,456.82 L621.60,457.00 L622.10,457.17 L622.60,457.34 L623.10,457.50 L623.60,457.66 L624.10,457.82 L624.60,457.97 L625.10,458.12 L625.60,458.27 L626.10,458.41 L626.60,458.56 L627.10,458.69 L627.60,458.83 L628.10,458.96 L628.60,459.09 L629.10,459.22 L629.60,459.34 L630.10,459.46 L630.60,459.58 L631.10,459.70 L631.60,459.81 L632.10,459.92 L632.60,460.03 L633.10,460.14 L633.60,460.24 L634.10,460.34 L634.60,460.44 L635.10,460.54 L635.60,460.64 L636.10,460.74 L636.60,460.83 L637.10,460.92 L637.60,461.01 L638.10,461.10 L638.60,461.19 L639.10,461.28 L639.60,461.36 L640.10,461.44 L640.60,461.53 L641.10,461.61 L641.60,461.69 L642.10,461.77 L642.60,461.84 L643.10,461.92 L643.60,462.00 L644.10,462.07 L644.60,462.14 L645.10,462.22 L645.60,462.29 L646.10,462.36 L646.60,462.43 L647.10,462.50 L647.60,462.57 L648.10,462.63 L648.60,462.70 L649.10,462.77 L649.60,462.83 L650.10,462.90 L650.60,462.96 L651.10,463.03 L651.60,463.09 L652.10,463.16 L652.60,463.22 L653.10,463.28 L653.60,463.34 L654.10,463.41 L654.60,463.47 L655.10,463.53 L655.60,463.59 L656.10,463.65 L656.60,463.71 L657.10,463.78 L657.60,463.84 L658.10,463.90 L658.60,463.96 L659.10,464.02 L659.60,464.09 L660.10,464.15 L660.60,464.21 L661.10,464.27 L661.60,464.34 L662.10,464.40 L662.60,464.46 L663.10,464.53 L663.60,464.59 L664.10,464.66 L664.60,464.72 L665.10,464.79 L665.60,464.86 L666.10,464.93 L666.60,465.00 L667.10,465.06 L667.60,465.13 L668.10,465.21 L668.60,465.28 L669.10,465.35 L669.60,465.42 L670.10,465.50 L670.60,465.58 L671.10,465.65 L671.60,465.73 L672.10,465.81 L672.60,465.89 L673.10,465.97 L673.60,466.05 L674.10,466.14 L674.60,466.22 L675.10,466.31 L675.60,466.40 L676.10,466.49 L676.60,466.58 L677.10,466.67 L677.60,466.77 L678.10,466.86 L678.60,466.96 L679.10,467.06 L679.60,467.16 L680.10,467.26 L680.60,467.37 L681.10,467.47 L681.60,467.58 L682.10,467.69 L682.60,467.80 L683.10,467.92 L683.60,468.03 L684.10,468.15 L684.30,468.20" fill="none" stroke="#2b78bd" stroke-width="2.35" stroke-linejoin="round"/>
<path d="M528.60,369.13 L529.10,369.18 L529.60,369.25 L530.10,369.34 L530.60,369.44 L531.10,369.55 L531.60,369.67 L532.10,369.81 L532.60,369.96 L533.10,370.13 L533.60,370.31 L534.10,370.50 L534.60,370.70 L535.10,370.91 L535.60,371.14 L536.10,371.38 L536.60,371.63 L537.10,371.89 L537.60,372.16 L538.10,372.45 L538.60,372.74 L539.10,373.04 L539.60,373.36 L540.10,373.68 L540.60,374.02 L541.10,374.36 L541.60,374.72 L542.10,375.08 L542.60,375.45 L543.10,375.84 L543.60,376.23 L544.10,376.63 L544.60,377.03 L545.10,377.45 L545.60,377.87 L546.10,378.30 L546.60,378.74 L547.10,379.19 L547.60,379.64 L548.10,380.10 L548.60,380.56 L549.10,381.04 L549.60,381.52 L550.10,382.00 L550.60,382.49 L551.10,382.99 L551.60,383.49 L552.10,384.00 L552.60,384.51 L553.10,385.03 L553.60,385.55 L554.10,386.08 L554.60,386.61 L555.10,387.14 L555.60,387.68 L556.10,388.22 L556.60,388.77 L557.10,389.32 L557.60,389.87 L558.10,390.43 L558.60,390.98 L559.10,391.54 L559.60,392.11 L560.10,392.67 L560.60,393.24 L561.10,393.81 L561.60,394.38 L562.10,394.96 L562.60,395.54 L563.10,396.12 L563.60,396.70 L564.10,397.28 L564.60,397.87 L565.10,398.45 L565.60,399.04 L566.10,399.64 L566.60,400.23 L567.10,400.82 L567.60,401.42 L568.10,402.02 L568.60,402.62 L569.10,403.22 L569.60,403.83 L570.10,404.43 L570.60,405.04 L571.10,405.65 L571.60,406.26 L572.10,406.87 L572.60,407.48 L573.10,408.09 L573.60,408.71 L574.10,409.33 L574.60,409.94 L575.10,410.56 L575.60,411.18 L576.10,411.80 L576.60,412.42 L577.10,413.05 L577.60,413.67 L578.10,414.29 L578.60,414.92 L579.10,415.54 L579.60,416.16 L580.10,416.79 L580.60,417.41 L581.10,418.03 L581.60,418.65 L582.10,419.27 L582.60,419.89 L583.10,420.51 L583.60,421.12 L584.10,421.73 L584.60,422.34 L585.10,422.94 L585.60,423.55 L586.10,424.14 L586.60,424.74 L587.10,425.33 L587.60,425.92 L588.10,426.50 L588.60,427.07 L589.10,427.65 L589.60,428.21 L590.10,428.77 L590.60,429.33 L591.10,429.88 L591.60,430.42 L592.10,430.96 L592.60,431.49 L593.10,432.01 L593.60,432.53 L594.10,433.04 L594.60,433.54 L595.10,434.03 L595.60,434.52 L596.10,435.00 L596.60,435.47 L597.10,435.93 L597.60,436.39 L598.10,436.84 L598.60,437.28 L599.10,437.72 L599.60,438.14 L600.10,438.57 L600.60,438.98 L601.10,439.39 L601.60,439.79 L602.10,440.19 L602.60,440.57 L603.10,440.96 L603.60,441.33 L604.10,441.70 L604.60,442.06 L605.10,442.42 L605.60,442.77 L606.10,443.12 L606.60,443.45 L607.10,443.79 L607.60,444.11 L608.10,444.43 L608.60,444.75 L609.10,445.06 L609.60,445.36 L610.10,445.66 L610.60,445.95 L611.10,446.24 L611.60,446.52 L612.10,446.80 L612.60,447.07 L613.10,447.33 L613.60,447.59 L614.10,447.85 L614.60,448.10 L615.10,448.35 L615.60,448.59 L616.10,448.82 L616.60,449.05 L617.10,449.28 L617.60,449.50 L618.10,449.72 L618.60,449.93 L619.10,450.14 L619.60,450.34 L620.10,450.54 L620.60,450.73 L621.10,450.92 L621.60,451.11 L622.10,451.29 L622.60,451.47 L623.10,451.64 L623.60,451.82 L624.10,451.98 L624.60,452.14 L625.10,452.30 L625.60,452.46 L626.10,452.61 L626.60,452.76 L627.10,452.90 L627.60,453.04 L628.10,453.18 L628.60,453.32 L629.10,453.45 L629.60,453.58 L630.10,453.70 L630.60,453.82 L631.10,453.94 L631.60,454.06 L632.10,454.17 L632.60,454.28 L633.10,454.39 L633.60,454.50 L634.10,454.60 L634.60,454.70 L635.10,454.80 L635.60,454.89 L636.10,454.98 L636.60,455.07 L637.10,455.16 L637.60,455.25 L638.10,455.33 L638.60,455.41 L639.10,455.49 L639.60,455.57 L640.10,455.65 L640.60,455.72 L641.10,455.79 L641.60,455.87 L642.10,455.94 L642.60,456.00 L643.10,456.07 L643.60,456.13 L644.10,456.20 L644.60,456.26 L645.10,456.32 L645.60,456.38 L646.10,456.44 L646.60,456.50 L647.10,456.55 L647.60,456.61 L648.10,456.67 L648.60,456.72 L649.10,456.77 L649.60,456.83 L650.10,456.88 L650.60,456.93 L651.10,456.98 L651.60,457.03 L652.10,457.08 L652.60,457.13 L653.10,457.18 L653.60,457.23 L654.10,457.28 L654.60,457.33 L655.10,457.38 L655.60,457.43 L656.10,457.48 L656.60,457.53 L657.10,457.58 L657.60,457.63 L658.10,457.68 L658.60,457.73 L659.10,457.79 L659.60,457.84 L660.10,457.89 L660.60,457.95 L661.10,458.00 L661.60,458.06 L662.10,458.11 L662.60,458.17 L663.10,458.23 L663.60,458.29 L664.10,458.35 L664.60,458.41 L665.10,458.47 L665.60,458.54 L666.10,458.61 L666.60,458.67 L667.10,458.74 L667.60,458.81 L668.10,458.88 L668.60,458.96 L669.10,459.03 L669.60,459.11 L670.10,459.19 L670.60,459.27 L671.10,459.36 L671.60,459.44 L672.10,459.53 L672.60,459.62 L673.10,459.71 L673.60,459.80 L674.10,459.90 L674.60,460.00 L675.10,460.10 L675.60,460.21 L676.10,460.31 L676.60,460.42 L677.10,460.54 L677.60,460.65 L678.10,460.77 L678.60,460.89 L679.10,461.01 L679.60,461.14 L680.10,461.27 L680.60,461.41 L681.10,461.54 L681.60,461.68 L682.10,461.83 L682.60,461.97 L683.10,462.12 L683.60,462.28 L684.10,462.44 L684.30,462.50" fill="none" stroke="#2ca02c" stroke-width="2.35" stroke-linejoin="round"/>
<path d="M528.60,369.00 L529.10,368.86 L529.60,368.72 L530.10,368.60 L530.60,368.49 L531.10,368.38 L531.60,368.29 L532.10,368.20 L532.60,368.12 L533.10,368.05 L533.60,367.99 L534.10,367.94 L534.60,367.89 L535.10,367.85 L535.60,367.83 L536.10,367.81 L536.60,367.79 L537.10,367.79 L537.60,367.79 L538.10,367.81 L538.60,367.83 L539.10,367.85 L539.60,367.89 L540.10,367.93 L540.60,367.98 L541.10,368.04 L541.60,368.10 L542.10,368.17 L542.60,368.25 L543.10,368.34 L543.60,368.43 L544.10,368.53 L544.60,368.63 L545.10,368.74 L545.60,368.86 L546.10,368.99 L546.60,369.12 L547.10,369.26 L547.60,369.40 L548.10,369.55 L548.60,369.71 L549.10,369.87 L549.60,370.04 L550.10,370.21 L550.60,370.39 L551.10,370.58 L551.60,370.77 L552.10,370.97 L552.60,371.17 L553.10,371.37 L553.60,371.59 L554.10,371.80 L554.60,372.03 L555.10,372.25 L555.60,372.49 L556.10,372.72 L556.60,372.97 L557.10,373.21 L557.60,373.46 L558.10,373.72 L558.60,373.98 L559.10,374.24 L559.60,374.51 L560.10,374.78 L560.60,375.06 L561.10,375.34 L561.60,375.62 L562.10,375.91 L562.60,376.20 L563.10,376.50 L563.60,376.80 L564.10,377.10 L564.60,377.40 L565.10,377.71 L565.60,378.03 L566.10,378.34 L566.60,378.66 L567.10,378.98 L567.60,379.31 L568.10,379.64 L568.60,379.97 L569.10,380.31 L569.60,380.65 L570.10,380.99 L570.60,381.33 L571.10,381.68 L571.60,382.04 L572.10,382.39 L572.60,382.75 L573.10,383.11 L573.60,383.48 L574.10,383.85 L574.60,384.22 L575.10,384.59 L575.60,384.97 L576.10,385.36 L576.60,385.74 L577.10,386.13 L577.60,386.52 L578.10,386.92 L578.60,387.31 L579.10,387.72 L579.60,388.12 L580.10,388.53 L580.60,388.94 L581.10,389.35 L581.60,389.77 L582.10,390.19 L582.60,390.62 L583.10,391.04 L583.60,391.47 L584.10,391.91 L584.60,392.34 L585.10,392.78 L585.60,393.23 L586.10,393.67 L586.60,394.12 L587.10,394.58 L587.60,395.03 L588.10,395.49 L588.60,395.95 L589.10,396.42 L589.60,396.88 L590.10,397.35 L590.60,397.83 L591.10,398.30 L591.60,398.78 L592.10,399.26 L592.60,399.74 L593.10,400.23 L593.60,400.72 L594.10,401.21 L594.60,401.70 L595.10,402.20 L595.60,402.69 L596.10,403.19 L596.60,403.69 L597.10,404.20 L597.60,404.70 L598.10,405.21 L598.60,405.72 L599.10,406.23 L599.60,406.75 L600.10,407.26 L600.60,407.78 L601.10,408.30 L601.60,408.82 L602.10,409.34 L602.60,409.86 L603.10,410.39 L603.60,410.91 L604.10,411.44 L604.60,411.97 L605.10,412.49 L605.60,413.02 L606.10,413.55 L606.60,414.08 L607.10,414.61 L607.60,415.14 L608.10,415.67 L608.60,416.20 L609.10,416.73 L609.60,417.26 L610.10,417.79 L610.60,418.31 L611.10,418.84 L611.60,419.36 L612.10,419.89 L612.60,420.41 L613.10,420.93 L613.60,421.46 L614.10,421.98 L614.60,422.50 L615.10,423.01 L615.60,423.53 L616.10,424.05 L616.60,424.56 L617.10,425.07 L617.60,425.59 L618.10,426.10 L618.60,426.61 L619.10,427.11 L619.60,427.62 L620.10,428.12 L620.60,428.62 L621.10,429.12 L621.60,429.62 L622.10,430.12 L622.60,430.61 L623.10,431.10 L623.60,431.60 L624.10,432.08 L624.60,432.57 L625.10,433.05 L625.60,433.54 L626.10,434.02 L626.60,434.49 L627.10,434.97 L627.60,435.44 L628.10,435.91 L628.60,436.38 L629.10,436.84 L629.60,437.30 L630.10,437.76 L630.60,438.22 L631.10,438.67 L631.60,439.12 L632.10,439.57 L632.60,440.02 L633.10,440.46 L633.60,440.90 L634.10,441.33 L634.60,441.77 L635.10,442.20 L635.60,442.62 L636.10,443.05 L636.60,443.47 L637.10,443.88 L637.60,444.30 L638.10,444.71 L638.60,445.11 L639.10,445.51 L639.60,445.91 L640.10,446.31 L640.60,446.70 L641.10,447.08 L641.60,447.47 L642.10,447.85 L642.60,448.22 L643.10,448.60 L643.60,448.96 L644.10,449.33 L644.60,449.69 L645.10,450.04 L645.60,450.39 L646.10,450.74 L646.60,451.08 L647.10,451.42 L647.60,451.75 L648.10,452.08 L648.60,452.40 L649.10,452.72 L649.60,453.04 L650.10,453.35 L650.60,453.65 L651.10,453.95 L651.60,454.25 L652.10,454.54 L652.60,454.83 L653.10,455.11 L653.60,455.38 L654.10,455.65 L654.60,455.92 L655.10,456.18 L655.60,456.43 L656.10,456.68 L656.60,456.93 L657.10,457.17 L657.60,457.41 L658.10,457.64 L658.60,457.86 L659.10,458.08 L659.60,458.30 L660.10,458.51 L660.60,458.72 L661.10,458.92 L661.60,459.12 L662.10,459.32 L662.60,459.51 L663.10,459.70 L663.60,459.88 L664.10,460.06 L664.60,460.24 L665.10,460.41 L665.60,460.58 L666.10,460.75 L666.60,460.91 L667.10,461.07 L667.60,461.22 L668.10,461.38 L668.60,461.53 L669.10,461.67 L669.60,461.82 L670.10,461.96 L670.60,462.09 L671.10,462.23 L671.60,462.36 L672.10,462.49 L672.60,462.62 L673.10,462.75 L673.60,462.87 L674.10,462.99 L674.60,463.11 L675.10,463.23 L675.60,463.34 L676.10,463.45 L676.60,463.57 L677.10,463.67 L677.60,463.78 L678.10,463.89 L678.60,463.99 L679.10,464.10 L679.60,464.20 L680.10,464.30 L680.60,464.40 L681.10,464.50 L681.60,464.60 L682.10,464.69 L682.60,464.79 L683.10,464.89 L683.60,464.98 L684.10,465.07 L684.30,465.11" fill="none" stroke="#d62728" stroke-width="2.35" stroke-linejoin="round"/>
<text x="603.70" y="404.60" font-size="8.4" textLength="33.70" lengthAdjust="spacingAndGlyphs" fill="#d03548" stroke="#d03548" stroke-width="0.1"><tspan>[U-D</tspan><tspan font-size="6.22" dy="2.52">8</tspan><tspan dy="-2.52">]Val</tspan></text>
<text x="537.80" y="417.80" font-size="8.4" fill="#3474b8" textLength="16.90" lengthAdjust="spacingAndGlyphs" stroke="#3474b8" stroke-width="0.1"><tspan font-size="6.05">L</tspan>-Val</text>
<text x="537.80" y="431.60" font-size="8.4" textLength="29.70" lengthAdjust="spacingAndGlyphs" fill="#e27a35" stroke="#e27a35" stroke-width="0.1">[3-D]Val</text>
<text x="537.80" y="445.10" font-size="8.4" textLength="41.80" lengthAdjust="spacingAndGlyphs" fill="#429842" stroke="#429842" stroke-width="0.1"><tspan>[4,4'-D</tspan><tspan font-size="6.22" dy="2.52">6</tspan><tspan dy="-2.52">]Val</tspan></text>
</svg>
</body></html>
